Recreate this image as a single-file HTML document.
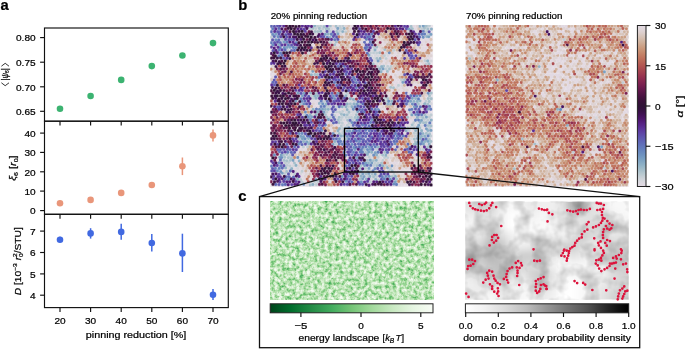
<!DOCTYPE html>
<html><head><meta charset="utf-8"><style>
html,body{margin:0;padding:0;background:#fff;}
svg{display:block;will-change:transform;}
text{font-family:"Liberation Sans", sans-serif;fill:#000;stroke:#000;stroke-width:0.22px;}
</style></head><body>
<svg width="685" height="350" viewBox="0 0 685 350">
<rect width="685" height="350" fill="#fff"/>
<rect x="44.5" y="28.0" width="183.8" height="93.2" fill="none" stroke="#111" stroke-width="1.15"/>
<rect x="44.5" y="121.2" width="183.8" height="93.10000000000001" fill="none" stroke="#111" stroke-width="1.15"/>
<rect x="44.5" y="214.3" width="183.8" height="93.30000000000001" fill="none" stroke="#111" stroke-width="1.15"/>
<line x1="60.0" y1="121.2" x2="60.0" y2="125.60000000000001" stroke="#111" stroke-width="1.15"/>
<line x1="90.6" y1="121.2" x2="90.6" y2="125.60000000000001" stroke="#111" stroke-width="1.15"/>
<line x1="121.2" y1="121.2" x2="121.2" y2="125.60000000000001" stroke="#111" stroke-width="1.15"/>
<line x1="151.8" y1="121.2" x2="151.8" y2="125.60000000000001" stroke="#111" stroke-width="1.15"/>
<line x1="182.4" y1="121.2" x2="182.4" y2="125.60000000000001" stroke="#111" stroke-width="1.15"/>
<line x1="213.0" y1="121.2" x2="213.0" y2="125.60000000000001" stroke="#111" stroke-width="1.15"/>
<line x1="60.0" y1="214.3" x2="60.0" y2="218.70000000000002" stroke="#111" stroke-width="1.15"/>
<line x1="90.6" y1="214.3" x2="90.6" y2="218.70000000000002" stroke="#111" stroke-width="1.15"/>
<line x1="121.2" y1="214.3" x2="121.2" y2="218.70000000000002" stroke="#111" stroke-width="1.15"/>
<line x1="151.8" y1="214.3" x2="151.8" y2="218.70000000000002" stroke="#111" stroke-width="1.15"/>
<line x1="182.4" y1="214.3" x2="182.4" y2="218.70000000000002" stroke="#111" stroke-width="1.15"/>
<line x1="213.0" y1="214.3" x2="213.0" y2="218.70000000000002" stroke="#111" stroke-width="1.15"/>
<line x1="60.0" y1="307.6" x2="60.0" y2="312.0" stroke="#111" stroke-width="1.15"/>
<line x1="90.6" y1="307.6" x2="90.6" y2="312.0" stroke="#111" stroke-width="1.15"/>
<line x1="121.2" y1="307.6" x2="121.2" y2="312.0" stroke="#111" stroke-width="1.15"/>
<line x1="151.8" y1="307.6" x2="151.8" y2="312.0" stroke="#111" stroke-width="1.15"/>
<line x1="182.4" y1="307.6" x2="182.4" y2="312.0" stroke="#111" stroke-width="1.15"/>
<line x1="213.0" y1="307.6" x2="213.0" y2="312.0" stroke="#111" stroke-width="1.15"/>
<line x1="40.1" y1="37.6" x2="44.5" y2="37.6" stroke="#111" stroke-width="1.15"/>
<text x="35.6" y="41.3" font-size="9.4" text-anchor="end" textLength="19.6" lengthAdjust="spacingAndGlyphs" >0.80</text>
<line x1="40.1" y1="62.2" x2="44.5" y2="62.2" stroke="#111" stroke-width="1.15"/>
<text x="35.6" y="65.9" font-size="9.4" text-anchor="end" textLength="19.6" lengthAdjust="spacingAndGlyphs" >0.75</text>
<line x1="40.1" y1="86.8" x2="44.5" y2="86.8" stroke="#111" stroke-width="1.15"/>
<text x="35.6" y="90.5" font-size="9.4" text-anchor="end" textLength="19.6" lengthAdjust="spacingAndGlyphs" >0.70</text>
<line x1="40.1" y1="111.3" x2="44.5" y2="111.3" stroke="#111" stroke-width="1.15"/>
<text x="35.6" y="115.0" font-size="9.4" text-anchor="end" textLength="19.6" lengthAdjust="spacingAndGlyphs" >0.65</text>
<line x1="40.1" y1="133.1" x2="44.5" y2="133.1" stroke="#111" stroke-width="1.15"/>
<text x="35.6" y="136.8" font-size="9.4" text-anchor="end" textLength="11.2" lengthAdjust="spacingAndGlyphs" >40</text>
<line x1="40.1" y1="152.4" x2="44.5" y2="152.4" stroke="#111" stroke-width="1.15"/>
<text x="35.6" y="156.1" font-size="9.4" text-anchor="end" textLength="11.2" lengthAdjust="spacingAndGlyphs" >30</text>
<line x1="40.1" y1="171.8" x2="44.5" y2="171.8" stroke="#111" stroke-width="1.15"/>
<text x="35.6" y="175.5" font-size="9.4" text-anchor="end" textLength="11.2" lengthAdjust="spacingAndGlyphs" >20</text>
<line x1="40.1" y1="191.1" x2="44.5" y2="191.1" stroke="#111" stroke-width="1.15"/>
<text x="35.6" y="194.8" font-size="9.4" text-anchor="end" textLength="11.2" lengthAdjust="spacingAndGlyphs" >10</text>
<line x1="40.1" y1="210.6" x2="44.5" y2="210.6" stroke="#111" stroke-width="1.15"/>
<text x="35.6" y="214.3" font-size="9.4" text-anchor="end" textLength="5.6" lengthAdjust="spacingAndGlyphs" >0</text>
<line x1="40.1" y1="231.1" x2="44.5" y2="231.1" stroke="#111" stroke-width="1.15"/>
<text x="35.6" y="234.8" font-size="9.4" text-anchor="end" textLength="5.6" lengthAdjust="spacingAndGlyphs" >7</text>
<line x1="40.1" y1="252.5" x2="44.5" y2="252.5" stroke="#111" stroke-width="1.15"/>
<text x="35.6" y="256.2" font-size="9.4" text-anchor="end" textLength="5.6" lengthAdjust="spacingAndGlyphs" >6</text>
<line x1="40.1" y1="273.9" x2="44.5" y2="273.9" stroke="#111" stroke-width="1.15"/>
<text x="35.6" y="277.6" font-size="9.4" text-anchor="end" textLength="5.6" lengthAdjust="spacingAndGlyphs" >5</text>
<line x1="40.1" y1="295.2" x2="44.5" y2="295.2" stroke="#111" stroke-width="1.15"/>
<text x="35.6" y="298.9" font-size="9.4" text-anchor="end" textLength="5.6" lengthAdjust="spacingAndGlyphs" >4</text>
<text x="60.0" y="323.8" font-size="9.4" text-anchor="middle" textLength="11.2" lengthAdjust="spacingAndGlyphs" >20</text>
<text x="90.6" y="323.8" font-size="9.4" text-anchor="middle" textLength="11.2" lengthAdjust="spacingAndGlyphs" >30</text>
<text x="121.2" y="323.8" font-size="9.4" text-anchor="middle" textLength="11.2" lengthAdjust="spacingAndGlyphs" >40</text>
<text x="151.8" y="323.8" font-size="9.4" text-anchor="middle" textLength="11.2" lengthAdjust="spacingAndGlyphs" >50</text>
<text x="182.4" y="323.8" font-size="9.4" text-anchor="middle" textLength="11.2" lengthAdjust="spacingAndGlyphs" >60</text>
<text x="213.0" y="323.8" font-size="9.4" text-anchor="middle" textLength="11.2" lengthAdjust="spacingAndGlyphs" >70</text>
<text x="85.8" y="337.6" font-size="9.5" textLength="100.5" lengthAdjust="spacingAndGlyphs" >pinning reduction [%]</text>
<g transform="translate(7.6 74.5) rotate(-90)"><path d="M-8.3 -6.2L-11.2 -2.4L-8.3 1.4M8.3 -6.2L11.2 -2.4L8.3 1.4" stroke="#111" stroke-width="0.85" fill="none"/><text x="0.2" y="0" font-size="9.2" text-anchor="middle" textLength="12.2" lengthAdjust="spacingAndGlyphs">|<tspan font-style="italic">ψ</tspan><tspan font-size="6" dy="1.5">6</tspan><tspan dy="-1.5">|</tspan></text></g>
<text transform="translate(16.3 168.1) rotate(-90)" font-size="9.2" text-anchor="middle" textLength="25.5" lengthAdjust="spacingAndGlyphs"><tspan font-style="italic">ξ</tspan><tspan font-size="6" dy="1.5">6</tspan><tspan dy="-1.5"> [</tspan><tspan font-style="italic">r</tspan><tspan font-size="6" dy="1.5">0</tspan><tspan dy="-1.5">]</tspan></text>
<text transform="translate(20.8 261.2) rotate(-90)" font-size="9.2" text-anchor="middle" textLength="68" lengthAdjust="spacingAndGlyphs"><tspan font-style="italic">D</tspan> [10<tspan font-size="6" dy="-3.5">−3</tspan><tspan dy="3.5"> </tspan><tspan font-style="italic">r</tspan><tspan font-size="6" dy="-3.5">2</tspan><tspan font-size="6" dx="-3.4" dy="5.5">0</tspan><tspan dy="-2">/STU]</tspan></text>
<circle cx="60.0" cy="108.8" r="3.3" fill="#3cb371"/>
<circle cx="90.6" cy="96.0" r="3.3" fill="#3cb371"/>
<circle cx="121.2" cy="79.9" r="3.3" fill="#3cb371"/>
<circle cx="151.8" cy="66.1" r="3.3" fill="#3cb371"/>
<circle cx="182.4" cy="55.5" r="3.3" fill="#3cb371"/>
<circle cx="213.0" cy="43.1" r="3.3" fill="#3cb371"/>
<line x1="60.0" y1="201.5" x2="60.0" y2="205.1" stroke="#e9967a" stroke-width="1.5"/>
<circle cx="60.0" cy="203.3" r="3.3" fill="#e9967a"/>
<line x1="90.6" y1="198" x2="90.6" y2="201.8" stroke="#e9967a" stroke-width="1.5"/>
<circle cx="90.6" cy="199.9" r="3.3" fill="#e9967a"/>
<line x1="121.2" y1="190.8" x2="121.2" y2="195" stroke="#e9967a" stroke-width="1.5"/>
<circle cx="121.2" cy="192.9" r="3.3" fill="#e9967a"/>
<line x1="151.8" y1="182.8" x2="151.8" y2="187.2" stroke="#e9967a" stroke-width="1.5"/>
<circle cx="151.8" cy="185.0" r="3.3" fill="#e9967a"/>
<line x1="182.4" y1="157.5" x2="182.4" y2="175.1" stroke="#e9967a" stroke-width="1.5"/>
<circle cx="182.4" cy="166.2" r="3.3" fill="#e9967a"/>
<line x1="213.0" y1="129.5" x2="213.0" y2="141.5" stroke="#e9967a" stroke-width="1.5"/>
<circle cx="213.0" cy="135.4" r="3.3" fill="#e9967a"/>
<line x1="60.0" y1="236.7" x2="60.0" y2="242.3" stroke="#4169e1" stroke-width="1.5"/>
<circle cx="60.0" cy="239.7" r="3.3" fill="#4169e1"/>
<line x1="90.6" y1="228.2" x2="90.6" y2="238.6" stroke="#4169e1" stroke-width="1.5"/>
<circle cx="90.6" cy="233.4" r="3.3" fill="#4169e1"/>
<line x1="121.2" y1="223.7" x2="121.2" y2="239.7" stroke="#4169e1" stroke-width="1.5"/>
<circle cx="121.2" cy="231.9" r="3.3" fill="#4169e1"/>
<line x1="151.8" y1="234.1" x2="151.8" y2="251.6" stroke="#4169e1" stroke-width="1.5"/>
<circle cx="151.8" cy="243.0" r="3.3" fill="#4169e1"/>
<line x1="182.4" y1="233.7" x2="182.4" y2="272.0" stroke="#4169e1" stroke-width="1.5"/>
<circle cx="182.4" cy="253.4" r="3.3" fill="#4169e1"/>
<line x1="213.0" y1="289.1" x2="213.0" y2="299.9" stroke="#4169e1" stroke-width="1.5"/>
<circle cx="213.0" cy="294.7" r="3.3" fill="#4169e1"/>
<text x="0.6" y="10.4" font-size="14.8" font-weight="bold" >a</text>
<text x="238.2" y="10.3" font-size="14.8" font-weight="bold" >b</text>
<text x="238.2" y="200.5" font-size="14.8" font-weight="bold" >c</text>
<rect x="270.3" y="24.9" width="162.8" height="162.0" fill="#ece6ec"/><rect x="465.5" y="25.0" width="163.1" height="162.0" fill="#ece6ec"/><clipPath id="m1c"><rect x="270.3" y="24.9" width="162.8" height="162.0"/></clipPath><clipPath id="m2c"><rect x="465.5" y="25.0" width="163.1" height="162.0"/></clipPath><g clip-path="url(#m1c)"><defs><g id="p1"><path d="M352.3 25.9h0M334.6 28.5h0M415.5 29.0h0M351.5 31.7h0M417.0 31.5h0M344.4 34.0h0M421.6 39.3h0M425.0 39.7h0M361.0 42.3h0M367.2 42.1h0M383.4 42.1h0M423.1 42.0h0M429.4 41.9h0M384.2 44.6h0M424.8 44.7h0M426.1 47.9h0M350.0 50.3h0M378.2 50.5h0M422.1 50.2h0M424.9 50.3h0M395.4 53.2h0M390.7 55.4h0M393.7 56.0h0M389.2 58.7h0M398.7 58.3h0M423.2 58.5h0M429.2 58.3h0M384.6 61.0h0M382.6 63.8h0M389.3 63.1h0M420.2 63.4h0M410.9 69.0h0M396.9 71.9h0M399.7 71.9h0M271.2 74.3h0M274.5 74.6h0M392.1 74.0h0M398.4 74.3h0M272.9 77.2h0M314.4 80.0h0M395.0 79.9h0M398.1 79.7h0M420.0 79.7h0M393.7 82.1h0M396.6 82.7h0M400.0 82.5h0M389.4 85.2h0M395.5 85.1h0M414.1 84.7h0M400.3 88.2h0M406.0 88.0h0M412.2 87.9h0M392.2 90.4h0M401.7 91.0h0M411.0 90.7h0M400.4 93.1h0M388.9 95.8h0M314.6 101.3h0M407.9 106.7h0M340.8 109.4h0M380.7 109.2h0M406.1 109.3h0M329.9 112.0h0M407.4 112.2h0M429.2 111.8h0M328.5 114.7h0M408.7 114.0h0M409.4 120.3h0M412.5 120.2h0M327.0 122.7h0M411.0 123.0h0M334.8 125.4h0M337.6 125.4h0M406.2 125.2h0M408.8 125.6h0M330.6 128.3h0M423.4 127.8h0M331.8 130.6h0M412.8 130.9h0M425.0 130.7h0M300.8 147.1h0M299.1 149.6h0M302.1 149.6h0M305.6 149.6h0M298.0 152.6h0M414.9 152.7h0M300.5 157.7h0M415.3 157.2h0M418.6 157.9h0M277.6 160.2h0M388.7 160.3h0M297.9 162.8h0M390.4 163.4h0M393.7 163.2h0M396.5 163.0h0M305.3 165.7h0M295.1 168.8h0M300.9 168.4h0M371.7 168.5h0M397.0 168.5h0M402.9 168.7h0M409.2 168.6h0M299.2 170.8h0M386.4 171.3h0M394.8 170.8h0M398.4 170.9h0M404.6 171.1h0M407.5 171.1h0M411.1 171.2h0M303.9 173.3h0M390.8 174.1h0M400.5 173.6h0M402.9 173.8h0M302.2 176.4h0M304.1 178.8h0M305.4 182.0h0M401.8 182.1h0M399.8 184.5h0M403.0 184.3h0M406.4 184.0h0" stroke="#e2d9e2"/><path d="M331.6 28.7h0M324.3 32.0h0M407.8 31.4h0M316.2 34.2h0M340.9 34.3h0M340.9 39.4h0M344.3 39.7h0M371.6 50.3h0M308.7 53.2h0M386.3 53.0h0M371.8 56.1h0M375.4 55.6h0M378.3 55.8h0M387.9 55.5h0M374.2 58.2h0M374.9 61.0h0M431.0 61.1h0M376.7 63.8h0M307.0 66.6h0M310.3 71.7h0M401.8 85.6h0M397.0 87.6h0M344.4 93.6h0M348.8 95.6h0M354.8 96.0h0M348.7 101.2h0M351.8 101.2h0M421.6 103.9h0M431.0 103.7h0M338.3 108.9h0M350.1 109.4h0M421.7 108.9h0M345.9 112.0h0M352.2 112.0h0M354.7 112.2h0M313.4 114.3h0M350.5 115.0h0M353.2 114.7h0M427.9 114.9h0M336.3 117.2h0M344.2 119.8h0M417.2 122.7h0M343.9 125.1h0M350.4 125.1h0M415.2 125.7h0M421.6 125.8h0M341.2 130.5h0M418.6 131.0h0M336.4 133.1h0M342.4 139.1h0M411.4 138.8h0M426.1 144.5h0M370.6 155.3h0M379.6 155.0h0M347.2 157.1h0M366.1 157.3h0M371.6 157.8h0M379.4 160.2h0M293.1 165.7h0M288.5 168.3h0M297.7 168.5h0M295.8 171.3h0M376.4 171.2h0M291.7 173.6h0M300.9 173.5h0M372.0 179.1h0M329.7 182.0h0" stroke="#d5d6dc"/><path d="M317.8 26.3h0M320.6 26.2h0M339.8 26.5h0M342.9 26.0h0M429.3 25.8h0M310.3 28.7h0M315.8 28.6h0M322.8 28.9h0M341.1 28.7h0M421.8 28.8h0M330.2 31.4h0M339.5 31.2h0M345.7 31.9h0M426.3 31.7h0M428.1 34.5h0M271.4 37.1h0M330.3 42.7h0M373.8 47.2h0M288.2 50.5h0M393.7 50.2h0M370.4 53.1h0M373.6 52.9h0M376.7 53.0h0M384.4 55.7h0M386.1 58.6h0M425.1 60.7h0M426.0 64.1h0M378.1 66.7h0M387.7 66.3h0M391.0 66.5h0M386.0 68.9h0M401.5 79.9h0M398.5 85.4h0M347.5 93.4h0M311.6 96.0h0M313.4 98.4h0M384.3 98.5h0M324.1 101.6h0M355.0 101.2h0M386.1 101.5h0M425.9 101.2h0M409.0 104.1h0M327.2 106.8h0M329.7 106.6h0M336.5 106.9h0M348.6 106.6h0M326.9 112.1h0M336.4 111.9h0M339.6 112.2h0M342.7 111.3h0M410.5 112.3h0M304.4 115.0h0M334.7 115.6h0M431.0 115.0h0M330.3 117.5h0M342.2 117.3h0M346.1 117.3h0M349.0 117.6h0M351.5 117.5h0M420.3 117.1h0M429.4 117.2h0M341.1 119.9h0M353.3 119.8h0M424.5 119.3h0M427.7 120.1h0M342.3 123.0h0M349.0 123.1h0M413.8 122.6h0M341.3 125.9h0M347.3 125.4h0M342.5 128.3h0M352.3 128.2h0M410.7 127.8h0M429.5 128.4h0M409.1 130.5h0M342.7 133.0h0M414.2 133.2h0M417.0 133.6h0M415.5 136.1h0M430.7 136.1h0M336.3 144.3h0M303.4 146.9h0M307.6 146.9h0M376.7 149.3h0M420.0 149.4h0M423.4 149.5h0M289.9 155.5h0M369.1 157.1h0M378.2 157.4h0M384.6 157.6h0M387.7 157.6h0M382.8 160.3h0M285.4 162.9h0M288.6 162.5h0M375.3 163.2h0M378.3 163.2h0M287.1 165.2h0M289.9 165.9h0M373.7 165.5h0M386.2 165.5h0M365.7 168.4h0M390.5 168.7h0M302.1 171.2h0M364.3 171.0h0M370.4 171.1h0M389.0 170.8h0M284.9 173.5h0M294.7 174.0h0M394.0 174.2h0M367.8 176.2h0M376.6 176.6h0M300.7 179.7h0M378.4 179.8h0M302.1 182.2h0M311.6 181.5h0M314.6 181.5h0M317.9 181.6h0M370.3 182.0h0M300.7 184.2h0M316.4 184.5h0" stroke="#bfccd3"/><path d="M324.0 26.7h0M330.3 25.9h0M336.0 26.3h0M411.2 26.5h0M426.3 26.0h0M312.8 28.4h0M319.4 28.5h0M326.2 28.7h0M328.6 29.0h0M412.3 28.7h0M424.5 28.2h0M427.8 29.0h0M315.1 31.6h0M317.9 31.6h0M336.8 31.5h0M282.3 39.5h0M336.4 41.9h0M334.8 44.7h0M376.8 47.1h0M384.8 49.6h0M379.8 52.7h0M376.9 58.4h0M373.2 64.0h0M429.0 63.8h0M383.7 66.1h0M389.5 69.0h0M387.4 71.4h0M314.9 74.5h0M317.6 74.7h0M317.4 79.8h0M404.5 79.7h0M390.7 87.3h0M393.5 87.8h0M316.1 93.6h0M431.2 93.1h0M429.5 95.7h0M387.7 98.6h0M428.2 98.6h0M431.2 98.7h0M429.2 101.5h0M300.7 104.1h0M350.4 103.9h0M359.9 103.8h0M418.4 104.1h0M427.8 104.2h0M349.0 112.2h0M325.3 114.8h0M341.4 114.2h0M347.2 114.8h0M356.4 114.8h0M424.8 114.7h0M327.0 117.2h0M339.2 117.3h0M355.1 117.5h0M407.6 117.3h0M422.8 117.6h0M338.2 119.8h0M347.6 120.3h0M339.1 122.7h0M423.5 122.7h0M426.0 122.6h0M412.2 124.8h0M428.2 125.6h0M430.9 126.0h0M407.8 128.2h0M413.7 128.2h0M419.8 127.9h0M344.1 130.9h0M339.3 133.7h0M426.4 133.4h0M429.5 133.9h0M299.3 138.8h0M345.9 139.1h0M414.3 139.1h0M429.3 139.3h0M309.9 141.6h0M415.5 142.0h0M430.9 141.5h0M414.1 144.5h0M427.8 147.1h0M364.4 149.4h0M365.7 152.5h0M384.8 152.2h0M283.5 155.1h0M286.8 154.4h0M382.7 155.1h0M284.8 157.3h0M288.4 157.7h0M291.4 158.2h0M284.0 160.3h0M286.8 160.8h0M290.3 160.3h0M367.4 160.3h0M373.4 160.6h0M294.5 162.9h0M381.5 163.2h0M361.1 165.6h0M377.0 165.7h0M359.9 168.2h0M286.6 171.5h0M367.6 171.4h0M392.2 170.9h0M359.1 173.5h0M366.0 173.7h0M372.2 174.0h0M373.6 176.7h0M392.2 176.6h0M359.8 179.1h0M396.6 179.1h0M310.2 184.9h0" stroke="#a6bfca"/><path d="M314.7 25.8h0M419.6 26.5h0M344.1 28.5h0M431.4 29.1h0M320.8 31.3h0M342.7 31.6h0M328.2 34.1h0M330.1 37.3h0M426.7 36.6h0M279.0 44.7h0M375.0 50.0h0M380.2 58.5h0M427.7 61.0h0M381.6 66.6h0M379.8 68.8h0M381.0 71.7h0M311.4 74.8h0M310.5 92.9h0M314.8 96.0h0M317.7 95.9h0M345.9 96.0h0M316.1 98.3h0M350.4 98.7h0M353.4 99.4h0M415.6 98.6h0M391.9 101.2h0M413.9 101.4h0M417.2 101.5h0M420.1 100.9h0M319.2 103.4h0M326.2 104.2h0M347.2 104.0h0M353.9 104.0h0M387.7 104.2h0M390.6 104.2h0M424.7 103.7h0M342.2 106.7h0M345.9 106.7h0M351.9 106.7h0M313.1 109.4h0M325.3 109.3h0M328.3 109.3h0M347.1 109.6h0M317.7 112.0h0M310.1 115.0h0M316.1 114.9h0M344.1 114.8h0M358.1 117.3h0M417.3 117.4h0M431.2 120.1h0M420.1 122.5h0M339.5 128.6h0M345.5 128.1h0M338.0 130.7h0M406.1 130.9h0M415.7 130.6h0M421.6 130.7h0M428.0 130.6h0M422.9 133.6h0M341.2 136.0h0M344.0 135.9h0M421.5 136.4h0M424.7 136.2h0M308.5 138.5h0M420.1 138.6h0M303.6 141.6h0M334.9 141.5h0M425.0 141.5h0M308.7 143.7h0M416.5 143.9h0M429.2 144.2h0M378.1 147.0h0M418.3 147.2h0M371.7 152.2h0M367.4 154.4h0M376.6 155.0h0M386.0 155.2h0M299.2 161.0h0M376.3 160.3h0M368.5 163.1h0M296.0 165.4h0M382.9 165.9h0M285.6 167.9h0M291.7 168.7h0M387.6 167.7h0M360.9 171.3h0M361.1 176.2h0M369.9 176.5h0M395.5 176.4h0M297.5 179.2h0M366.3 179.2h0M375.7 179.3h0M312.9 184.5h0" stroke="#8eb1c5"/><path d="M423.3 26.0h0M337.8 28.5h0M409.1 29.1h0M275.8 34.2h0M325.3 34.3h0M337.9 33.9h0M430.9 34.4h0M428.7 36.8h0M283.9 42.1h0M287.0 47.4h0M290.0 47.2h0M368.9 55.2h0M378.1 61.0h0M383.0 68.9h0M312.8 71.3h0M402.9 82.3h0M297.9 92.9h0M304.0 93.3h0M337.9 93.3h0M302.5 95.9h0M412.3 98.3h0M295.9 101.1h0M410.6 101.2h0M356.9 104.1h0M414.4 106.8h0M322.5 109.2h0M428.0 109.1h0M323.9 112.2h0M357.7 111.6h0M411.9 115.0h0M311.7 116.9h0M426.4 117.1h0M328.4 119.5h0M421.5 120.3h0M418.7 125.3h0M417.4 127.7h0M426.4 128.8h0M347.3 131.1h0M350.0 131.1h0M430.9 130.4h0M300.8 136.3h0M303.5 136.7h0M418.5 136.1h0M302.4 138.7h0M417.6 138.6h0M306.8 141.8h0M428.0 141.3h0M333.0 144.3h0M423.4 144.0h0M369.2 146.8h0M355.0 149.5h0M370.3 149.3h0M368.7 152.0h0M375.3 152.7h0M281.2 155.1h0M279.7 157.3h0M356.6 157.7h0M293.2 160.4h0M370.3 160.2h0M365.7 163.2h0M371.8 162.9h0M364.6 165.6h0M369.0 168.4h0M282.3 173.1h0M362.8 173.8h0M368.9 173.4h0M375.3 174.1h0M364.1 176.6h0M362.7 178.8h0M395.3 181.8h0" stroke="#7ba1c2"/><path d="M272.8 34.4h0M278.0 36.7h0M423.2 37.2h0M275.9 39.8h0M273.0 44.8h0M284.3 47.7h0M295.9 47.8h0M389.3 52.7h0M428.1 93.3h0M333.4 96.0h0M416.9 95.8h0M334.6 98.6h0M302.0 101.2h0M388.7 101.2h0M303.8 103.9h0M322.7 103.8h0M412.4 104.1h0M319.4 109.3h0M353.3 109.2h0M378.5 109.3h0M305.4 112.1h0M415.7 114.6h0M308.4 117.2h0M357.0 120.2h0M371.9 119.6h0M352.0 122.6h0M348.8 127.9h0M321.9 130.3h0M353.3 130.9h0M299.1 133.6h0M302.1 133.5h0M333.1 133.6h0M347.3 136.3h0M359.6 136.2h0M305.1 138.8h0M339.4 138.8h0M359.6 141.4h0M418.2 142.0h0M421.9 141.5h0M298.9 143.8h0M352.0 144.4h0M395.1 143.7h0M353.9 147.5h0M409.5 147.3h0M367.5 149.6h0M274.4 155.0h0M373.7 155.2h0M281.7 157.6h0M297.8 157.5h0M279.0 162.8h0M391.9 165.8h0M375.0 168.7h0M277.4 170.9h0M280.7 171.6h0M342.1 176.5h0M385.9 176.4h0M389.1 176.4h0M288.4 179.3h0M316.0 179.7h0M390.3 179.5h0M346.1 181.2h0M361.3 182.0h0M303.8 184.2h0M393.9 184.0h0" stroke="#6d90c0"/><path d="M272.8 28.8h0M423.3 31.3h0M331.4 34.2h0M371.9 34.0h0M422.0 34.2h0M424.6 34.1h0M327.2 37.3h0M370.1 36.7h0M334.7 39.7h0M366.4 39.3h0M271.2 42.7h0M286.8 42.2h0M296.2 42.6h0M370.3 42.2h0M288.4 45.0h0M280.1 47.7h0M293.3 47.5h0M367.3 47.3h0M279.0 50.1h0M366.0 49.7h0M280.6 53.2h0M278.9 56.0h0M353.6 77.5h0M355.1 79.6h0M334.5 82.6h0M356.3 82.6h0M356.3 87.6h0M410.8 95.7h0M420.1 95.6h0M300.9 98.8h0M418.5 98.9h0M321.2 101.1h0M321.0 106.6h0M324.3 106.4h0M355.1 106.8h0M416.7 106.6h0M429.5 106.4h0M316.5 109.0h0M375.3 109.5h0M409.5 109.8h0M411.9 109.3h0M430.7 109.2h0M364.3 111.9h0M306.9 115.3h0M421.7 114.7h0M310.4 119.7h0M415.5 120.2h0M418.5 120.1h0M370.6 122.5h0M429.8 122.9h0M325.3 125.0h0M362.6 125.0h0M425.2 125.5h0M359.4 130.7h0M365.7 130.3h0M369.3 130.7h0M395.5 133.5h0M420.3 133.7h0M397.2 135.9h0M403.2 135.9h0M428.1 135.9h0M348.8 139.0h0M355.2 139.2h0M395.5 138.7h0M426.1 139.0h0M340.6 141.5h0M356.5 141.0h0M339.3 144.1h0M342.4 144.2h0M420.6 144.0h0M362.8 147.2h0M365.9 146.7h0M371.7 146.8h0M375.2 146.8h0M361.4 149.7h0M279.4 151.7h0M287.9 152.2h0M344.1 152.5h0M353.5 152.3h0M360.1 152.0h0M362.5 152.2h0M378.2 152.2h0M345.8 155.3h0M271.3 166.1h0M280.7 165.9h0M370.7 165.4h0M379.9 165.5h0M275.4 168.3h0M279.2 168.4h0M373.0 170.9h0M382.3 176.7h0M384.3 179.0h0M282.5 184.7h0M396.5 184.5h0" stroke="#647ebc"/><path d="M271.3 26.2h0M279.0 28.5h0M271.3 31.7h0M280.2 31.7h0M274.3 36.6h0M367.6 36.9h0M419.6 37.1h0M278.9 40.0h0M291.5 39.5h0M280.3 42.6h0M364.5 42.3h0M371.8 44.9h0M365.1 47.8h0M285.1 49.9h0M291.6 50.6h0M294.4 50.5h0M367.3 53.3h0M282.1 55.3h0M370.5 58.4h0M338.1 66.4h0M344.3 66.3h0M345.9 74.3h0M319.2 77.4h0M272.9 82.4h0M336.8 85.4h0M332.0 93.3h0M406.5 93.2h0M305.0 101.1h0M327.3 101.3h0M358.2 101.6h0M407.7 101.2h0M362.9 103.8h0M406.4 104.0h0M308.9 106.6h0M339.2 106.7h0M358.1 106.2h0M420.4 106.9h0M359.6 109.6h0M362.5 109.6h0M371.9 109.2h0M333.2 111.7h0M417.3 112.0h0M332.1 114.8h0M418.5 114.7h0M333.4 117.3h0M319.0 120.2h0M334.7 119.6h0M350.1 120.4h0M333.5 122.9h0M319.4 125.2h0M353.2 125.3h0M365.7 125.2h0M369.2 125.8h0M317.9 128.3h0M321.0 128.4h0M360.7 128.2h0M367.4 128.2h0M401.7 127.8h0M356.5 130.8h0M367.0 133.5h0M307.4 136.0h0M309.8 136.2h0M350.5 136.0h0M365.7 136.4h0M371.9 136.9h0M380.9 136.1h0M333.4 138.8h0M336.4 138.8h0M361.1 138.8h0M363.7 139.6h0M370.7 138.5h0M401.4 138.6h0M300.7 142.0h0M338.2 141.6h0M344.2 141.6h0M350.7 141.5h0M394.0 141.4h0M396.9 141.4h0M286.9 144.3h0M302.0 144.6h0M346.1 144.0h0M358.4 144.0h0M367.6 143.9h0M373.9 144.4h0M408.0 144.2h0M294.7 146.7h0M356.3 147.3h0M359.4 147.0h0M390.5 147.1h0M345.0 149.6h0M351.6 150.0h0M372.8 149.4h0M395.4 149.8h0M407.5 149.2h0M291.4 152.4h0M387.5 152.4h0M409.0 152.0h0M351.9 154.8h0M280.4 160.0h0M348.7 160.3h0M363.1 163.2h0M346.0 165.9h0M367.2 165.3h0M282.3 168.1h0M290.3 171.0h0M286.4 176.8h0M289.2 176.8h0M293.5 177.2h0M348.6 176.3h0M285.1 179.0h0M352.0 182.1h0M275.7 184.5h0M285.3 184.5h0" stroke="#606cb8"/><path d="M274.4 26.4h0M277.5 25.9h0M406.4 28.7h0M277.7 31.7h0M327.0 31.5h0M429.1 31.8h0M279.1 34.0h0M285.7 34.6h0M365.8 34.4h0M419.0 34.1h0M286.8 37.0h0M323.7 36.7h0M333.4 36.5h0M336.6 37.0h0M272.6 39.9h0M288.9 39.7h0M337.9 39.4h0M372.3 39.3h0M415.1 39.7h0M274.6 42.7h0M277.5 42.1h0M291.6 45.1h0M366.1 45.0h0M418.4 44.7h0M273.1 50.7h0M406.2 50.4h0M412.1 55.9h0M283.6 58.2h0M410.9 58.2h0M413.8 58.3h0M371.7 60.6h0M340.0 63.9h0M334.3 71.9h0M346.8 71.9h0M404.7 74.7h0M410.5 75.1h0M275.6 77.0h0M412.4 77.0h0M274.2 80.1h0M329.8 79.6h0M336.0 80.0h0M339.0 80.0h0M352.1 80.2h0M276.0 82.4h0M353.4 82.4h0M365.2 82.8h0M274.5 84.9h0M351.9 85.3h0M303.5 87.6h0M344.2 87.7h0M348.8 90.5h0M301.0 93.4h0M308.7 96.4h0M336.6 95.7h0M414.1 95.7h0M331.6 98.3h0M344.4 98.1h0M362.6 98.6h0M405.7 98.8h0M333.7 101.3h0M398.1 100.9h0M306.6 103.9h0M415.3 104.4h0M277.6 107.0h0M333.4 106.8h0M364.1 106.8h0M332.0 109.0h0M335.3 109.6h0M415.5 109.1h0M418.9 109.4h0M361.4 112.0h0M376.6 112.0h0M375.3 114.5h0M322.6 120.4h0M311.4 122.4h0M336.3 122.4h0M354.7 122.8h0M356.7 125.3h0M359.3 125.8h0M358.2 127.8h0M370.6 128.3h0M395.3 128.1h0M319.5 131.1h0M372.1 130.8h0M375.3 130.8h0M396.8 130.7h0M290.2 133.4h0M305.4 133.7h0M348.8 134.0h0M352.0 133.3h0M358.4 133.7h0M361.0 133.2h0M364.3 133.3h0M379.7 133.7h0M356.7 136.0h0M362.7 136.2h0M393.7 135.8h0M399.9 135.7h0M367.9 139.3h0M379.8 138.7h0M386.0 139.0h0M398.4 138.5h0M423.1 139.3h0M362.9 141.7h0M365.9 141.6h0M369.4 141.1h0M390.6 142.0h0M305.4 144.1h0M348.7 144.4h0M355.1 144.5h0M391.9 144.4h0M347.2 146.8h0M350.6 146.9h0M397.3 146.9h0M277.6 149.6h0M280.5 149.6h0M283.7 149.4h0M287.3 149.3h0M290.1 149.6h0M348.9 149.3h0M386.2 149.7h0M282.2 152.6h0M294.6 152.5h0M350.3 151.9h0M411.9 152.5h0M292.7 154.9h0M358.2 155.1h0M358.0 160.6h0M349.8 163.2h0M353.2 162.7h0M283.9 165.7h0M349.1 165.5h0M272.6 168.6h0M377.8 168.5h0M271.6 170.9h0M382.9 171.1h0M288.5 174.0h0M381.0 174.3h0M379.8 176.1h0M350.3 179.4h0M381.4 179.3h0M279.0 184.6h0M359.7 184.2h0M362.6 184.3h0" stroke="#5f58b0"/><path d="M280.1 25.8h0M327.1 26.0h0M404.6 26.3h0M304.0 29.3h0M359.6 28.8h0M305.3 31.4h0M333.3 31.9h0M373.4 31.5h0M334.7 34.4h0M280.8 36.7h0M321.0 36.6h0M358.0 37.1h0M361.6 36.7h0M364.7 37.4h0M285.5 39.4h0M294.1 39.4h0M369.4 39.3h0M419.6 42.5h0M281.8 45.0h0M368.7 44.8h0M271.3 47.1h0M370.2 47.7h0M282.0 49.9h0M407.8 53.0h0M411.0 52.9h0M409.3 55.4h0M415.9 55.8h0M404.6 58.5h0M271.3 63.5h0M345.5 69.2h0M351.6 68.9h0M325.2 71.6h0M330.3 74.5h0M333.5 79.2h0M358.2 79.9h0M359.7 82.6h0M406.0 82.2h0M339.7 85.1h0M295.9 90.3h0M342.8 90.2h0M305.3 95.6h0M330.2 96.1h0M400.3 98.8h0M336.5 100.9h0M339.2 100.8h0M361.0 102.0h0M404.7 101.1h0M309.8 103.7h0M328.5 103.8h0M331.8 103.8h0M280.3 106.8h0M360.8 106.7h0M376.8 106.6h0M426.5 111.9h0M297.7 114.7h0M370.4 117.4h0M401.6 117.5h0M331.4 120.6h0M361.2 123.0h0M367.8 122.8h0M373.5 122.4h0M306.8 125.3h0M313.2 125.5h0M322.6 125.6h0M396.6 125.4h0M399.9 125.4h0M364.7 128.0h0M404.6 128.1h0M316.3 130.6h0M362.9 130.8h0M381.7 131.2h0M399.9 130.5h0M345.5 133.9h0M370.8 133.6h0M398.6 133.7h0M331.8 136.1h0M337.8 135.8h0M369.3 136.0h0M378.0 136.2h0M384.0 135.9h0M387.6 136.2h0M406.1 136.2h0M292.8 138.9h0M296.0 138.8h0M311.7 138.6h0M314.9 139.0h0M352.0 139.1h0M358.4 138.8h0M392.4 138.1h0M275.6 141.8h0M347.7 141.6h0M353.8 141.5h0M378.1 140.8h0M381.0 141.8h0M277.5 144.3h0M361.1 144.3h0M364.1 144.4h0M370.4 144.6h0M377.0 144.2h0M382.9 144.4h0M386.1 144.0h0M288.0 147.2h0M298.2 146.9h0M381.3 146.6h0M384.3 146.7h0M387.7 146.4h0M296.3 149.7h0M405.0 149.8h0M413.9 149.7h0M417.2 149.7h0M429.4 150.1h0M285.2 152.0h0M347.7 152.1h0M356.4 152.6h0M348.9 154.7h0M351.7 160.3h0M273.1 162.8h0M281.7 163.1h0M359.6 163.4h0M277.2 165.5h0M353.2 168.4h0M381.7 168.4h0M274.4 170.9h0M348.7 171.6h0M379.7 171.4h0M279.0 174.4h0M384.3 173.7h0M387.8 174.0h0M273.8 176.4h0M351.7 176.3h0M273.3 179.1h0M337.8 179.0h0M347.1 179.0h0M393.6 178.7h0M280.0 181.9h0M283.8 181.5h0M296.0 181.6h0M349.0 181.9h0M367.6 181.4h0M385.9 181.9h0M389.2 182.0h0M291.8 184.6h0M344.3 184.3h0M347.4 184.4h0" stroke="#5e43a5"/><path d="M283.7 26.1h0M302.4 26.0h0M308.4 26.1h0M395.3 26.1h0M407.5 26.4h0M275.8 28.9h0M301.0 29.0h0M274.7 31.5h0M287.0 31.5h0M361.3 31.3h0M413.6 31.8h0M288.5 34.1h0M290.9 34.3h0M359.4 34.2h0M362.9 34.1h0M368.9 34.1h0M415.4 34.1h0M331.5 39.5h0M353.8 39.6h0M293.1 42.2h0M275.8 44.9h0M285.0 44.8h0M294.8 44.5h0M278.0 47.3h0M311.3 47.9h0M286.9 58.2h0M273.9 63.5h0M336.4 63.6h0M347.4 66.3h0M344.3 71.3h0M350.2 71.9h0M320.5 74.6h0M324.2 74.8h0M333.5 74.2h0M349.2 74.0h0M322.1 76.8h0M335.1 77.2h0M350.2 77.6h0M271.6 85.0h0M299.1 85.0h0M355.0 85.5h0M300.8 88.2h0M353.4 88.2h0M359.5 87.6h0M299.3 90.4h0M302.3 90.3h0M355.1 90.4h0M319.1 93.1h0M322.1 92.5h0M373.3 95.9h0M407.5 96.4h0M304.1 98.6h0M307.1 98.6h0M319.5 98.5h0M338.1 98.6h0M359.7 98.2h0M368.5 98.7h0M409.3 98.1h0M275.2 101.2h0M308.4 101.1h0M364.1 101.2h0M334.6 103.6h0M340.8 104.0h0M426.4 106.7h0M278.9 109.4h0M365.6 109.9h0M425.1 109.2h0M413.9 112.3h0M365.9 114.9h0M369.1 114.4h0M377.9 115.2h0M302.4 117.3h0M367.0 117.5h0M359.7 120.0h0M368.9 119.8h0M383.9 120.1h0M396.5 119.7h0M364.6 123.0h0M401.4 122.8h0M404.8 122.8h0M407.5 122.6h0M304.5 125.3h0M354.8 128.9h0M380.0 127.8h0M392.3 128.1h0M296.2 133.3h0M374.1 133.6h0M376.9 133.6h0M407.9 133.6h0M353.1 136.4h0M373.3 138.6h0M376.9 138.9h0M389.2 138.9h0M272.6 141.9h0M294.1 141.2h0M297.3 141.6h0M316.5 141.6h0M384.5 141.9h0M311.2 144.0h0M380.5 144.0h0M415.1 146.9h0M424.4 147.0h0M293.2 149.6h0M382.6 149.7h0M388.9 149.6h0M355.2 155.1h0M361.3 154.8h0M417.0 154.6h0M350.1 157.9h0M271.3 161.1h0M361.2 160.0h0M347.0 173.9h0M277.8 176.7h0M280.4 176.8h0M299.0 176.5h0M320.9 176.5h0M341.2 179.5h0M368.7 179.1h0M358.2 182.2h0M364.6 182.1h0" stroke="#5b2f94"/><path d="M305.6 26.4h0M311.5 26.5h0M401.2 25.9h0M297.8 28.8h0M396.7 28.9h0M400.0 28.6h0M402.7 28.9h0M283.6 31.7h0M364.3 31.6h0M322.4 34.1h0M353.5 33.9h0M378.4 33.8h0M289.8 37.0h0M300.7 39.4h0M289.9 42.1h0M417.1 42.6h0M297.4 44.9h0M274.2 48.1h0M275.9 50.4h0M368.9 50.2h0M277.4 52.7h0M419.8 58.1h0M342.8 63.9h0M348.4 68.9h0M337.8 77.0h0M357.1 76.8h0M409.4 77.3h0M407.7 79.8h0M409.4 82.1h0M361.1 85.1h0M338.1 87.7h0M347.6 87.8h0M350.5 87.5h0M362.7 88.3h0M352.1 90.3h0M361.2 95.9h0M364.1 95.5h0M310.1 98.6h0M321.9 98.6h0M342.7 101.0h0M379.7 101.0h0M401.9 101.2h0M338.1 104.0h0M344.1 104.2h0M400.7 104.2h0M274.6 106.7h0M287.1 106.9h0M370.6 106.3h0M311.4 112.0h0M373.9 111.9h0M420.0 112.0h0M423.6 112.4h0M300.5 114.5h0M314.8 117.0h0M398.2 117.4h0M363.3 120.1h0M366.0 120.0h0M305.0 122.6h0M320.5 122.6h0M324.1 123.2h0M394.8 123.3h0M309.7 125.2h0M403.1 125.0h0M373.6 128.0h0M376.7 128.0h0M383.2 128.5h0M313.2 130.7h0M402.9 130.6h0M354.7 133.0h0M383.3 133.8h0M402.0 133.5h0M375.0 136.1h0M390.9 136.2h0M382.7 138.8h0M372.1 141.5h0M375.3 141.5h0M271.2 144.3h0M358.3 149.3h0M379.9 149.4h0M410.5 148.9h0M426.4 149.6h0M381.3 152.4h0M427.6 152.3h0M355.0 160.4h0M347.2 162.5h0M356.2 163.3h0M274.3 165.4h0M347.3 168.3h0M362.7 168.8h0M293.2 171.5h0M346.1 171.2h0M297.5 174.2h0M344.2 174.0h0M356.8 173.6h0M345.5 176.5h0M279.2 179.5h0M282.3 178.8h0M294.1 179.3h0M325.1 179.0h0M286.9 181.8h0M289.7 181.8h0M299.0 182.1h0M373.8 181.8h0M376.8 181.8h0M391.9 181.4h0M429.6 181.8h0M288.2 184.7h0M294.8 184.4h0M297.4 184.3h0M341.1 184.5h0M369.0 185.2h0M390.9 184.4h0" stroke="#531e7c"/><path d="M357.9 26.2h0M281.9 28.9h0M306.9 28.5h0M296.1 31.6h0M411.0 31.2h0M420.5 31.5h0M282.5 34.3h0M319.1 34.6h0M293.4 36.9h0M295.9 37.1h0M318.1 36.5h0M355.0 37.3h0M373.7 36.5h0M414.0 36.5h0M417.0 37.0h0M313.1 39.8h0M418.6 39.3h0M415.5 50.8h0M271.1 53.5h0M336.4 58.6h0M345.6 58.1h0M273.1 61.2h0M328.6 61.0h0M350.3 61.2h0M368.5 61.2h0M327.1 63.5h0M338.0 71.8h0M358.1 74.4h0M407.6 74.0h0M343.5 77.1h0M347.5 77.0h0M326.9 80.0h0M363.4 81.9h0M421.7 82.6h0M345.3 85.3h0M407.9 84.8h0M410.9 85.0h0M369.0 87.8h0M357.9 90.7h0M282.8 93.5h0M306.7 93.3h0M353.7 93.5h0M362.9 93.2h0M369.3 93.2h0M381.0 93.6h0M289.9 96.1h0M320.9 96.2h0M367.4 95.5h0M376.5 95.9h0M275.7 98.2h0M291.5 99.1h0M294.8 98.8h0M365.5 98.7h0M290.0 101.4h0M330.5 101.0h0M345.3 100.6h0M370.2 101.3h0M403.1 104.0h0M401.8 106.3h0M423.5 106.4h0M287.0 112.2h0M315.0 111.9h0M321.0 111.9h0M373.0 114.9h0M288.5 120.0h0M298.0 120.1h0M307.3 120.2h0M402.9 120.0h0M290.0 122.7h0M299.0 122.8h0M302.7 122.5h0M358.0 123.0h0M375.6 125.6h0M393.8 125.3h0M308.7 128.3h0M398.8 128.2h0M291.4 131.1h0M384.3 130.8h0M387.1 131.0h0M389.4 133.7h0M391.9 133.4h0M319.4 136.4h0M330.5 138.9h0M279.2 141.6h0M285.4 141.4h0M387.5 141.5h0M314.7 144.2h0M388.7 144.4h0M412.1 146.5h0M364.5 155.0h0M275.9 162.9h0M351.9 170.8h0M355.0 171.3h0M272.8 174.1h0M276.0 173.8h0M296.3 176.1h0M336.1 176.3h0M291.2 179.0h0M334.7 179.2h0M344.5 179.1h0M387.5 179.2h0M277.6 181.3h0M320.9 181.5h0M382.8 181.8h0M423.1 181.3h0M372.7 184.3h0M387.4 184.4h0M428.2 184.6h0" stroke="#47145f"/><path d="M299.2 26.3h0M398.2 25.6h0M353.5 28.6h0M299.0 31.4h0M311.5 31.8h0M358.5 31.4h0M303.6 34.4h0M312.7 34.1h0M283.8 36.8h0M297.3 39.5h0M316.1 40.1h0M410.9 42.5h0M300.6 45.4h0M404.3 47.0h0M301.0 50.2h0M304.2 49.8h0M350.6 55.1h0M277.4 58.1h0M289.9 58.6h0M324.0 58.5h0M279.3 61.6h0M344.2 61.0h0M347.4 60.9h0M277.8 63.9h0M314.6 63.6h0M317.5 63.1h0M333.3 63.9h0M370.5 63.5h0M275.9 66.7h0M284.9 66.2h0M331.4 66.3h0M335.1 66.6h0M341.1 66.5h0M332.9 69.4h0M339.0 68.8h0M342.4 69.6h0M370.8 68.7h0M322.9 72.1h0M328.7 71.6h0M340.9 71.5h0M372.0 72.2h0M339.4 74.6h0M352.4 74.7h0M367.7 74.3h0M429.6 74.4h0M331.9 77.3h0M342.4 79.9h0M364.3 79.6h0M411.2 79.6h0M426.2 80.1h0M328.7 82.8h0M331.7 82.1h0M337.9 82.4h0M341.1 82.5h0M327.0 85.0h0M342.8 84.8h0M364.4 85.7h0M272.5 87.6h0M279.0 88.1h0M325.4 88.1h0M340.8 88.0h0M277.5 91.1h0M367.7 90.3h0M370.7 90.6h0M275.9 93.0h0M278.8 92.7h0M285.3 93.8h0M325.7 93.7h0M328.6 93.4h0M340.9 93.2h0M365.9 93.5h0M372.4 93.1h0M375.1 93.2h0M275.0 96.0h0M296.2 95.9h0M324.3 96.0h0M370.5 96.1h0M281.9 98.5h0M325.6 98.7h0M341.1 98.3h0M346.9 98.6h0M277.9 100.7h0M283.5 101.3h0M299.8 101.6h0M279.1 104.0h0M288.4 104.2h0M291.4 103.8h0M384.4 103.5h0M393.6 103.8h0M283.4 106.7h0M299.5 106.9h0M398.1 106.4h0M281.7 109.3h0M288.5 109.8h0M356.9 109.2h0M369.1 108.9h0M271.5 112.1h0M373.8 117.3h0M300.8 120.0h0M378.2 119.8h0M380.8 119.8h0M379.9 122.7h0M388.9 122.9h0M381.7 125.3h0M390.7 125.4h0M299.7 128.3h0M305.4 128.0h0M311.4 127.9h0M307.2 130.6h0M325.4 130.7h0M324.0 133.6h0M271.5 138.7h0M274.3 138.7h0M290.0 138.7h0M320.8 138.7h0M313.5 142.0h0M296.2 144.5h0M334.8 147.5h0M324.3 149.7h0M359.6 158.0h0M362.5 157.9h0M333.2 165.8h0M322.3 168.6h0M331.8 168.6h0M319.1 174.3h0M350.4 173.6h0M271.1 176.9h0M284.3 176.5h0M319.4 178.7h0M274.5 182.0h0M293.2 181.5h0M342.8 181.8h0M426.4 181.8h0M366.2 184.6h0M381.3 184.4h0M409.5 184.6h0" stroke="#391146"/><path d="M289.9 26.3h0M295.9 26.6h0M354.9 25.9h0M291.2 28.7h0M356.3 28.5h0M387.6 28.4h0M293.5 31.5h0M302.1 31.4h0M294.6 33.9h0M297.6 34.4h0M300.9 34.4h0M309.9 34.1h0M357.1 34.7h0M396.8 33.7h0M409.2 34.1h0M299.1 36.9h0M307.9 36.6h0M311.2 37.2h0M410.9 36.6h0M303.6 39.2h0M409.6 39.4h0M412.5 39.0h0M302.0 42.1h0M308.5 42.1h0M311.8 42.2h0M404.2 42.5h0M309.8 45.2h0M406.4 44.9h0M409.1 44.4h0M302.2 47.9h0M305.3 47.5h0M401.4 47.5h0M297.7 50.1h0M310.2 50.3h0M399.8 50.3h0M274.3 52.8h0M283.8 52.9h0M286.7 52.9h0M302.5 53.1h0M275.4 56.0h0M321.2 58.8h0M326.8 57.9h0M348.5 58.3h0M285.3 60.8h0M280.5 63.5h0M283.9 63.3h0M323.6 63.7h0M330.1 63.5h0M325.6 66.7h0M328.8 66.5h0M327.2 68.8h0M330.3 69.4h0M358.1 69.4h0M356.6 71.5h0M363.2 71.5h0M342.5 74.1h0M371.0 74.2h0M325.6 77.1h0M328.9 77.4h0M341.3 77.2h0M365.7 77.3h0M368.8 77.3h0M372.0 76.8h0M370.7 79.8h0M423.3 79.7h0M325.4 82.5h0M277.4 85.2h0M358.3 85.4h0M367.1 85.3h0M425.9 85.2h0M365.9 87.4h0M371.8 87.9h0M274.3 90.4h0M327.1 90.7h0M346.1 90.9h0M364.2 90.8h0M288.6 92.9h0M277.3 95.9h0M283.4 96.0h0M326.5 96.0h0M379.8 96.1h0M285.5 98.7h0M297.2 98.5h0M329.2 99.0h0M375.0 98.4h0M377.9 98.5h0M373.4 101.4h0M377.2 100.8h0M383.2 100.4h0M282.4 103.8h0M294.8 103.9h0M368.8 103.9h0M367.5 106.6h0M370.4 111.7h0M379.5 111.8h0M322.4 114.7h0M305.7 117.1h0M364.5 117.1h0M376.5 117.5h0M294.7 120.0h0M374.9 120.2h0M283.8 123.1h0M293.0 123.0h0M295.8 123.0h0M308.5 122.8h0M376.6 122.7h0M392.5 122.6h0M398.5 122.8h0M285.7 125.6h0M294.5 125.1h0M300.9 125.4h0M372.4 125.5h0M387.8 125.1h0M289.5 128.2h0M385.9 127.9h0M298.3 130.7h0M309.9 131.2h0M378.0 130.4h0M390.9 130.3h0M393.8 130.9h0M308.6 134.1h0M311.0 133.3h0M314.9 133.7h0M276.0 136.1h0M297.6 136.4h0M313.3 136.1h0M328.8 136.5h0M334.6 135.6h0M324.0 138.7h0M279.9 144.3h0M293.1 143.9h0M282.3 146.9h0M430.7 146.7h0M272.9 157.9h0M352.0 165.7h0M355.3 165.5h0M414.3 165.7h0M325.2 168.3h0M328.8 168.4h0M349.9 168.3h0M357.8 171.1h0M420.2 170.6h0M423.2 170.8h0M325.3 173.0h0M335.2 173.5h0M431.0 174.2h0M330.3 176.3h0M333.0 176.3h0M429.5 176.7h0M275.8 178.8h0M322.4 179.1h0M427.8 179.4h0M379.8 182.1h0M407.6 182.2h0M421.2 184.5h0M431.0 184.9h0" stroke="#2f1436"/><path d="M292.7 26.1h0M288.2 28.4h0M294.5 28.8h0M365.8 29.1h0M354.5 31.4h0M412.3 33.7h0M301.9 36.9h0M305.6 36.4h0M314.9 37.5h0M309.9 39.5h0M298.9 42.7h0M317.6 42.6h0M320.8 41.8h0M373.2 42.2h0M413.9 42.5h0M307.3 45.2h0M299.0 47.8h0M317.6 47.5h0M320.9 47.4h0M307.0 50.4h0M289.8 52.6h0M404.6 52.9h0M288.1 55.7h0M325.8 55.8h0M271.3 58.1h0M273.9 57.9h0M280.7 58.0h0M330.5 58.6h0M275.8 61.0h0M319.6 60.9h0M322.4 61.0h0M332.3 60.4h0M334.9 61.2h0M338.2 61.3h0M341.2 61.1h0M282.1 66.3h0M350.3 66.3h0M367.2 69.2h0M373.6 69.3h0M376.7 69.3h0M331.6 71.5h0M352.9 71.5h0M360.2 71.7h0M369.1 72.1h0M378.3 71.7h0M361.3 74.9h0M359.4 77.4h0M418.5 77.0h0M427.4 76.6h0M345.2 79.5h0M348.9 79.9h0M376.8 80.1h0M368.8 82.7h0M427.8 82.5h0M370.4 85.1h0M379.7 85.1h0M423.5 85.3h0M275.9 88.2h0M280.5 90.5h0M283.9 90.6h0M359.9 93.3h0M271.6 96.1h0M280.5 95.9h0M293.8 95.9h0M339.9 96.0h0M342.1 96.0h0M386.1 96.0h0M272.8 98.4h0M279.1 99.1h0M288.3 98.2h0M280.1 101.3h0M293.0 101.0h0M367.6 101.3h0M365.6 104.2h0M271.1 106.1h0M289.9 106.5h0M285.0 109.4h0M291.3 109.3h0M362.4 114.1h0M299.1 117.1h0M318.4 117.4h0M320.8 117.5h0M291.5 119.9h0M304.0 120.0h0M390.4 120.2h0M280.9 122.9h0M287.1 122.7h0M382.6 122.6h0M288.8 125.6h0M291.8 125.4h0M297.6 125.2h0M295.5 127.6h0M302.3 128.4h0M389.6 127.6h0M294.8 130.1h0M271.1 133.2h0M274.6 133.2h0M320.9 133.2h0M273.2 136.1h0M325.6 136.3h0M317.8 138.8h0M327.3 138.7h0M281.5 141.6h0M274.9 144.2h0M283.7 144.5h0M317.8 144.1h0M333.5 155.1h0M353.7 157.7h0M427.9 157.5h0M430.7 157.3h0M327.3 160.4h0M336.0 160.3h0M364.4 160.2h0M356.5 168.3h0M320.9 171.1h0M324.0 170.7h0M330.3 171.1h0M429.6 171.1h0M322.2 173.7h0M328.4 173.5h0M353.3 173.8h0M419.7 176.2h0M426.2 176.2h0M431.0 179.3h0M336.0 181.5h0M410.6 181.6h0M273.0 184.3h0M375.2 184.4h0M378.4 184.1h0M425.1 184.6h0" stroke="#3b113b"/><path d="M286.4 26.0h0M361.5 26.0h0M370.6 26.3h0M392.4 26.1h0M362.5 28.5h0M378.2 28.6h0M390.7 28.7h0M290.0 31.7h0M376.9 32.1h0M385.9 31.7h0M395.2 31.4h0M390.9 34.0h0M406.4 34.0h0M392.1 36.7h0M398.2 36.6h0M408.0 37.3h0M328.3 39.3h0M305.2 42.1h0M314.8 42.3h0M323.8 42.2h0M407.8 42.4h0M304.4 45.0h0M322.4 44.8h0M325.7 45.1h0M403.5 45.1h0M273.3 55.4h0M322.5 55.9h0M281.9 61.2h0M325.8 60.5h0M358.1 64.1h0M353.4 66.2h0M366.0 66.2h0M372.1 66.2h0M280.6 69.2h0M336.5 69.0h0M291.4 71.8h0M365.1 71.6h0M327.2 74.9h0M336.7 74.9h0M364.0 74.4h0M376.9 74.2h0M378.5 77.3h0M415.6 77.2h0M421.5 77.2h0M424.5 77.2h0M360.9 79.5h0M373.6 79.6h0M350.0 82.3h0M283.8 85.0h0M324.2 85.4h0M330.1 85.3h0M377.0 84.9h0M291.7 87.8h0M294.8 87.9h0M313.1 87.5h0M271.1 90.7h0M292.9 90.7h0M361.0 90.5h0M376.5 90.6h0M272.9 93.0h0M291.5 93.6h0M313.4 93.5h0M421.8 93.2h0M298.6 96.1h0M358.2 95.8h0M381.7 98.6h0M394.6 101.6h0M286.0 103.7h0M372.1 104.2h0M377.9 104.1h0M275.9 109.5h0M290.1 112.3h0M319.3 114.7h0M324.0 117.3h0M316.4 120.0h0M317.6 122.7h0M385.7 122.2h0M384.4 125.3h0M283.8 128.1h0M293.3 127.9h0M276.2 130.6h0M288.5 130.7h0M300.9 130.5h0M292.9 133.5h0M318.1 133.6h0M386.0 133.2h0M277.4 138.8h0M291.0 141.5h0M276.1 147.0h0M279.0 146.7h0M322.5 146.6h0M317.8 149.2h0M320.9 149.4h0M332.8 149.4h0M325.6 152.6h0M328.8 152.1h0M335.0 152.5h0M320.9 155.3h0M336.6 154.7h0M429.1 154.7h0M331.6 157.5h0M334.9 157.5h0M338.3 157.7h0M320.9 165.7h0M326.9 166.0h0M412.0 168.4h0M418.0 168.4h0M427.9 168.3h0M327.2 171.3h0M415.1 173.7h0M418.8 173.4h0M424.6 173.6h0M427.8 173.5h0M324.3 176.4h0M327.3 176.4h0M339.8 176.5h0M423.2 176.8h0M414.1 182.2h0M322.2 184.2h0M350.0 184.5h0M356.4 184.3h0" stroke="#4e1443"/><path d="M376.4 25.7h0M285.5 29.2h0M371.9 28.6h0M393.6 28.8h0M309.1 31.7h0M367.5 31.1h0M370.9 31.5h0M398.3 31.5h0M307.0 34.0h0M375.0 33.6h0M400.0 34.1h0M307.0 39.6h0M322.6 39.2h0M325.8 39.4h0M326.9 42.6h0M375.1 45.1h0M318.7 50.6h0M323.8 52.9h0M333.0 52.8h0M348.6 53.3h0M328.7 55.4h0M367.0 58.5h0M316.3 61.1h0M353.5 61.2h0M345.6 64.1h0M348.6 63.1h0M351.9 63.2h0M369.4 66.5h0M412.6 66.2h0M283.6 69.0h0M355.2 69.2h0M285.2 71.6h0M375.2 71.7h0M280.3 73.9h0M373.6 74.5h0M414.0 74.7h0M423.1 74.5h0M362.8 77.0h0M375.4 77.2h0M431.1 76.9h0M302.1 79.9h0M367.4 79.7h0M429.5 79.9h0M347.1 82.6h0M372.1 82.5h0M430.8 82.1h0M348.7 84.8h0M316.1 87.8h0M375.2 87.8h0M314.7 90.5h0M317.8 90.7h0M373.7 90.4h0M429.3 90.5h0M385.0 92.7h0M396.7 93.2h0M286.7 95.8h0M398.7 95.9h0M372.1 98.5h0M375.0 104.4h0M373.6 106.4h0M274.4 112.0h0M299.0 112.1h0M276.0 114.7h0M359.6 114.3h0M277.0 117.6h0M361.0 117.5h0M273.4 120.0h0M325.3 120.2h0M314.9 122.7h0M273.5 125.5h0M275.7 125.7h0M281.7 125.9h0M271.5 128.1h0M274.2 128.2h0M280.5 127.9h0M286.6 127.7h0M304.2 130.9h0M330.1 133.6h0M316.5 136.2h0M280.2 138.8h0M322.5 141.5h0M321.1 144.6h0M324.1 144.3h0M285.4 146.9h0M291.7 146.6h0M316.2 147.1h0M319.3 147.0h0M311.9 149.7h0M327.1 149.3h0M330.6 150.0h0M319.4 152.0h0M338.1 151.9h0M324.4 155.1h0M327.0 155.1h0M339.7 155.1h0M342.4 155.2h0M275.7 157.8h0M341.1 158.0h0M274.8 160.3h0M330.2 160.4h0M358.2 166.0h0M420.3 165.7h0M316.5 168.1h0M430.6 168.5h0M317.9 171.2h0M316.6 174.2h0M421.6 173.7h0M416.7 176.7h0M421.5 179.5h0M420.6 181.5h0M319.5 184.4h0M384.3 184.6h0M412.3 184.6h0" stroke="#64194b"/><path d="M367.5 26.0h0M382.7 25.7h0M393.8 33.9h0M375.0 40.1h0M393.5 39.4h0M308.5 47.7h0M327.0 47.6h0M322.2 50.5h0M325.5 50.3h0M356.8 50.4h0M317.9 52.9h0M321.1 53.1h0M355.3 52.9h0M285.2 55.5h0M362.4 55.5h0M356.8 61.1h0M355.2 63.9h0M404.5 63.3h0M407.4 63.3h0M316.7 66.6h0M362.7 66.4h0M375.0 66.3h0M415.8 66.3h0M277.4 69.0h0M282.5 72.1h0M415.4 71.6h0M418.0 72.3h0M421.4 71.7h0M417.3 74.7h0M296.4 79.2h0M379.9 79.7h0M416.6 79.8h0M300.8 82.6h0M375.2 82.3h0M424.5 82.6h0M287.0 85.1h0M373.3 85.2h0M285.4 87.4h0M307.1 87.9h0M421.9 87.6h0M424.5 87.9h0M286.7 90.7h0M289.9 90.2h0M380.0 90.7h0M417.1 90.3h0M294.4 93.4h0M350.7 93.0h0M382.6 96.0h0M395.6 96.1h0M394.0 98.2h0M287.2 101.3h0M273.2 109.5h0M294.3 109.2h0M297.8 108.8h0M277.1 111.5h0M293.3 112.1h0M367.0 112.1h0M273.2 114.8h0M271.3 117.5h0M283.5 117.4h0M289.8 117.5h0M293.0 118.0h0M296.5 117.6h0M389.4 117.4h0M285.2 119.9h0M271.2 122.8h0M316.2 125.6h0M378.4 125.3h0M272.8 130.6h0M279.2 130.5h0M285.0 131.1h0M277.3 133.7h0M279.2 136.1h0M322.4 136.3h0M283.9 138.8h0M287.2 138.6h0M288.5 141.7h0M325.7 141.6h0M290.2 143.7h0M329.9 144.3h0M331.8 146.4h0M344.4 146.8h0M336.5 149.6h0M339.3 149.6h0M316.1 152.9h0M322.2 152.3h0M430.8 151.8h0M271.3 155.2h0M277.4 154.3h0M314.8 155.2h0M330.2 155.2h0M423.6 155.0h0M426.3 155.1h0M316.3 157.8h0M322.8 157.6h0M344.0 157.5h0M342.9 160.1h0M345.6 160.7h0M328.4 163.3h0M330.1 165.8h0M415.3 168.2h0M421.5 168.1h0M413.8 170.8h0M416.8 171.0h0M412.2 173.7h0M317.8 176.1h0M414.1 176.8h0M356.4 179.7h0M406.3 179.2h0M424.5 178.9h0M271.0 181.7h0M325.5 184.7h0M418.5 184.8h0" stroke="#7a2050"/><path d="M364.5 26.0h0M386.0 26.2h0M368.7 28.7h0M375.1 28.5h0M379.5 31.3h0M319.5 39.6h0M380.1 42.6h0M332.1 45.1h0M407.4 47.3h0M410.7 47.3h0M328.6 50.1h0M360.1 50.3h0M409.3 50.6h0M305.6 52.9h0M329.9 52.7h0M331.2 55.6h0M335.0 55.6h0M361.1 58.5h0M359.7 61.0h0M410.5 63.7h0M413.6 63.6h0M322.5 66.6h0M359.9 66.4h0M431.0 66.5h0M286.8 68.8h0M364.6 69.1h0M426.5 69.5h0M319.5 71.3h0M299.4 79.5h0M304.3 82.5h0M296.3 85.0h0M308.6 84.6h0M333.3 85.2h0M382.9 84.7h0M282.0 87.9h0M334.9 88.2h0M378.3 87.8h0M308.6 90.8h0M312.1 90.8h0M330.1 90.7h0M333.4 90.5h0M413.7 90.6h0M351.7 95.8h0M401.7 95.7h0M297.7 103.9h0M293.0 106.2h0M303.8 109.2h0M387.6 108.8h0M398.5 112.4h0M404.6 111.8h0M282.1 114.7h0M294.2 114.6h0M397.0 114.9h0M406.2 114.6h0M383.0 117.3h0M386.2 117.4h0M404.6 117.3h0M406.1 119.8h0M277.5 122.5h0M277.7 128.3h0M281.6 130.6h0M287.2 133.6h0M285.2 135.8h0M273.0 146.9h0M325.5 147.1h0M392.3 149.4h0M272.5 152.4h0M276.0 152.0h0M331.7 152.2h0M317.7 154.8h0M307.0 157.5h0M313.4 157.6h0M329.0 157.5h0M317.3 160.7h0M333.5 160.6h0M428.9 159.9h0M325.9 163.2h0M337.7 163.1h0M412.2 162.8h0M424.9 163.2h0M334.7 168.5h0M338.3 168.7h0M311.8 170.9h0M426.4 171.1h0M313.3 173.8h0M406.0 173.8h0M314.4 176.5h0M357.7 176.0h0M313.4 179.3h0M353.5 179.2h0M412.5 179.5h0M418.4 179.1h0M324.2 182.2h0M339.5 181.7h0M417.2 181.9h0M353.3 184.0h0M415.7 184.6h0" stroke="#8e2c50"/><path d="M373.3 26.3h0M379.4 25.6h0M389.1 25.9h0M381.1 28.9h0M384.2 28.7h0M382.4 31.1h0M401.2 31.7h0M402.6 34.1h0M396.6 39.7h0M328.7 44.8h0M356.2 44.6h0M330.5 47.7h0M299.1 52.9h0M357.9 52.7h0M363.8 52.8h0M337.7 55.3h0M347.4 55.8h0M315.0 58.1h0M317.9 58.5h0M364.6 58.2h0M362.7 60.8h0M412.5 61.1h0M361.0 63.9h0M318.9 66.6h0M356.3 66.4h0M421.6 66.8h0M424.9 66.2h0M361.1 68.7h0M423.1 69.1h0M424.9 71.6h0M431.1 71.7h0M289.9 74.2h0M305.4 73.9h0M303.6 77.6h0M312.9 77.5h0M311.9 79.6h0M294.3 82.2h0M297.6 82.7h0M315.7 82.5h0M344.1 82.4h0M288.4 87.4h0M310.4 87.3h0M331.8 87.4h0M339.2 90.7h0M335.0 93.1h0M356.3 93.4h0M412.5 93.1h0M415.4 93.4h0M418.5 93.2h0M356.4 99.1h0M403.0 98.6h0M275.9 104.2h0M302.4 106.6h0M403.1 109.6h0M296.4 112.0h0M279.1 114.5h0M384.5 114.6h0M387.5 114.9h0M403.3 114.6h0M280.8 117.3h0M286.8 117.4h0M392.5 117.7h0M395.1 117.3h0M313.1 120.4h0M387.8 120.4h0M394.5 120.1h0M279.2 125.7h0M281.0 133.4h0M319.4 141.8h0M328.9 141.5h0M327.3 144.2h0M328.8 146.8h0M338.1 147.0h0M274.7 149.6h0M342.4 148.8h0M341.1 152.1h0M398.7 155.2h0M410.6 154.7h0M325.4 157.8h0M406.3 157.8h0M422.1 157.8h0M425.0 157.7h0M426.3 160.4h0M431.0 163.3h0M313.4 168.2h0M314.7 171.2h0M415.8 179.2h0M337.8 184.5h0" stroke="#9f3c50"/><path d="M392.1 31.7h0M405.0 31.2h0M395.4 36.8h0M356.2 39.7h0M353.6 44.8h0M428.0 44.8h0M324.4 47.2h0M342.8 47.4h0M351.9 47.4h0M355.3 47.7h0M337.9 50.4h0M344.1 50.1h0M412.2 50.2h0M293.0 53.2h0M352.1 53.0h0M361.2 52.8h0M297.9 55.3h0M365.9 55.4h0M333.4 58.0h0M395.4 58.1h0M417.1 58.4h0M365.1 60.9h0M418.1 60.7h0M296.3 63.5h0M320.6 63.4h0M364.2 63.8h0M367.3 63.9h0M416.7 63.9h0M279.3 66.1h0M294.4 66.5h0M418.5 66.8h0M428.0 66.3h0M429.2 69.0h0M279.0 71.3h0M427.5 71.3h0M284.0 74.8h0M354.9 74.1h0M279.4 77.1h0M293.7 76.9h0M300.7 76.8h0M306.9 76.8h0M316.4 77.4h0M380.7 77.0h0M384.8 77.1h0M280.5 79.7h0M292.8 79.9h0M309.6 82.2h0M378.5 81.9h0M290.2 84.7h0M302.2 85.8h0M297.6 87.6h0M415.6 87.5h0M305.5 90.7h0M386.4 90.3h0M419.8 90.3h0M404.1 96.1h0M396.8 98.4h0M271.2 100.9h0M272.4 104.1h0M397.0 104.0h0M301.2 109.0h0M392.5 112.0h0M401.2 112.0h0M285.5 114.5h0M288.1 114.8h0M291.7 114.8h0M381.2 115.3h0M379.9 117.2h0M276.2 119.8h0M279.1 119.6h0M399.9 120.0h0M274.9 122.6h0M314.8 127.8h0M288.7 136.2h0M291.6 136.1h0M295.0 135.9h0M331.7 141.7h0M313.3 147.0h0M314.1 149.6h0M312.9 152.5h0M403.3 152.3h0M424.8 152.8h0M408.0 155.4h0M303.9 158.2h0M403.3 157.5h0M314.8 159.6h0M331.6 163.1h0M311.5 165.5h0M336.2 165.8h0M319.4 168.5h0M336.5 171.4h0M337.8 173.5h0M308.3 181.6h0M334.4 184.6h0" stroke="#ac4d51"/><path d="M401.5 42.1h0M359.3 44.8h0M394.4 44.8h0M334.6 50.4h0M353.6 50.3h0M327.1 53.1h0M342.7 52.8h0M345.8 52.9h0M382.6 53.0h0M313.0 55.1h0M292.9 58.2h0M305.6 58.4h0M342.4 58.4h0M294.7 61.4h0M304.2 61.3h0M409.2 61.2h0M415.3 61.0h0M398.6 63.8h0M297.9 66.5h0M303.5 66.2h0M403.1 66.4h0M409.0 66.4h0M292.8 69.5h0M308.7 69.1h0M317.7 69.1h0M320.8 69.0h0M323.8 69.2h0M407.8 68.9h0M297.9 71.3h0M316.2 71.5h0M293.0 74.5h0M386.1 74.7h0M426.4 74.4h0M285.0 77.2h0M288.3 77.0h0M297.7 77.0h0M310.1 77.1h0M390.9 77.2h0M323.8 80.2h0M390.5 82.5h0M280.6 85.5h0M292.8 85.1h0M305.4 85.2h0M311.2 85.4h0M314.5 84.8h0M320.7 85.1h0M318.7 88.0h0M419.3 87.8h0M324.0 90.6h0M403.5 93.1h0M295.9 106.9h0M404.2 106.3h0M280.7 112.4h0M382.6 112.0h0M390.4 114.5h0M399.8 115.1h0M283.5 133.5h0M403.5 141.8h0M401.4 144.0h0M340.6 147.5h0M271.7 149.3h0M401.4 149.1h0M309.9 152.8h0M418.7 152.5h0M404.0 155.3h0M420.0 155.3h0M399.7 158.1h0M409.4 157.6h0M412.2 158.0h0M401.2 160.6h0M404.9 160.1h0M316.4 162.8h0M334.5 162.9h0M384.8 162.9h0M406.5 163.0h0M314.6 165.9h0M323.6 165.8h0M426.3 165.4h0M429.4 165.5h0M309.7 168.0h0M425.0 168.4h0M355.1 176.7h0M407.9 176.0h0M409.1 178.9h0M327.0 181.8h0M333.0 182.3h0" stroke="#b86155"/><path d="M339.0 36.8h0M386.0 37.4h0M345.4 42.5h0M361.3 47.3h0M388.9 47.6h0M313.3 50.1h0M347.1 50.4h0M362.2 49.9h0M402.8 49.9h0M295.9 53.1h0M339.8 53.2h0M417.4 52.6h0M300.5 55.5h0M310.3 56.1h0M344.3 55.8h0M353.4 56.0h0M359.8 55.7h0M352.0 58.1h0M392.3 58.1h0M293.3 63.4h0M392.1 63.4h0M401.7 63.7h0M291.0 66.5h0M309.8 66.6h0M313.3 66.5h0M399.6 66.7h0M296.2 68.9h0M305.3 69.3h0M395.5 68.3h0M404.1 68.8h0M301.1 71.9h0M278.1 74.4h0M296.1 74.2h0M299.2 74.3h0M308.5 74.4h0M277.7 79.9h0M290.1 79.6h0M305.4 79.6h0M308.9 79.8h0M385.8 79.8h0M278.9 82.7h0M282.2 82.6h0M291.3 82.6h0M313.3 82.0h0M322.3 82.7h0M322.7 88.0h0M384.6 87.9h0M336.4 90.0h0M382.6 90.5h0M378.2 93.0h0M393.7 93.1h0M274.8 117.5h0M324.1 128.4h0M282.1 136.2h0M399.9 141.7h0M406.3 152.2h0M421.5 152.3h0M401.5 154.6h0M305.7 160.4h0M407.6 160.1h0M409.3 162.9h0M318.0 166.1h0M407.6 165.7h0M411.4 165.7h0M333.5 171.0h0M332.1 173.8h0M410.9 176.6h0M307.2 179.1h0" stroke="#c0755e"/><path d="M389.4 36.6h0M404.8 37.2h0M390.1 39.8h0M406.7 39.6h0M339.3 42.4h0M392.2 42.2h0M398.5 42.5h0M316.5 44.8h0M358.0 47.5h0M385.7 47.2h0M392.3 47.5h0M398.7 47.7h0M316.6 49.6h0M428.1 50.5h0M315.2 53.6h0M336.6 52.9h0M414.0 52.6h0M319.5 55.6h0M357.3 55.6h0M421.7 55.6h0M424.4 55.9h0M299.1 58.3h0M354.9 58.0h0M358.0 58.6h0M288.0 61.3h0M297.8 60.9h0M300.9 61.2h0M393.5 60.7h0M396.9 60.6h0M399.9 61.2h0M287.1 63.8h0M302.5 63.2h0M305.3 64.1h0M300.4 66.3h0M271.1 69.2h0M289.9 69.0h0M302.2 68.8h0M275.6 71.6h0M288.6 71.7h0M294.3 71.8h0M306.9 71.6h0M393.3 71.5h0M403.4 72.0h0M409.3 71.5h0M286.8 73.9h0M383.0 74.4h0M291.8 77.0h0M402.3 77.1h0M405.9 77.2h0M286.7 79.6h0M321.2 80.3h0M382.8 79.9h0M392.5 80.0h0M288.5 82.4h0M306.9 82.6h0M319.5 82.3h0M387.3 82.7h0M429.9 85.3h0M328.4 87.9h0M381.5 87.9h0M321.1 90.2h0M426.2 90.3h0M307.3 108.9h0M393.2 114.9h0M397.8 144.1h0M404.5 144.5h0M406.3 146.6h0M305.2 155.1h0M395.5 155.1h0M294.6 157.5h0M374.9 157.7h0M320.7 160.0h0M323.9 160.2h0M423.1 159.9h0M300.8 163.2h0M312.9 163.2h0M319.3 162.8h0M322.1 162.9h0M344.4 163.0h0M422.2 162.8h0M428.0 162.9h0M308.0 165.7h0M342.7 165.7h0M423.0 165.8h0M342.5 171.0h0M308.8 176.7h0M328.7 178.6h0M398.7 181.4h0M328.8 184.6h0" stroke="#c68a6d"/><path d="M350.3 34.4h0M384.6 34.0h0M351.9 36.3h0M359.5 39.5h0M342.8 41.8h0M349.0 42.6h0M390.4 44.9h0M429.6 47.4h0M331.6 50.5h0M340.9 50.6h0M390.7 50.4h0M423.3 53.4h0M426.7 52.7h0M428.8 53.0h0M291.6 56.1h0M341.0 55.6h0M403.2 55.5h0M296.3 58.1h0M339.4 58.4h0M403.0 61.1h0M406.0 60.7h0M299.2 63.3h0M405.7 66.1h0M299.4 69.3h0M311.7 69.1h0M314.5 69.5h0M419.8 69.1h0M301.9 74.3h0M420.2 74.4h0M282.3 77.1h0M283.3 79.9h0M388.9 79.6h0M284.7 82.4h0M381.9 82.6h0M384.4 82.4h0M317.4 85.1h0M385.9 85.4h0M430.9 88.0h0M395.2 90.1h0M302.3 112.3h0M308.4 112.1h0M282.1 119.9h0M328.9 125.6h0M336.5 128.0h0M328.5 130.6h0M410.6 133.5h0M404.9 138.7h0M407.9 139.1h0M405.8 141.6h0M409.0 141.3h0M410.6 143.9h0M300.7 152.4h0M308.7 154.9h0M309.9 157.8h0M320.0 158.0h0M308.5 160.2h0M311.7 160.5h0M341.0 162.8h0M404.3 166.1h0M344.2 168.3h0M399.8 168.2h0M339.8 171.2h0M398.7 176.0h0M331.8 178.9h0M400.2 179.1h0M355.2 181.9h0M331.4 184.7h0" stroke="#cb9f83"/><path d="M347.2 28.4h0M389.0 31.2h0M346.6 33.9h0M381.2 34.4h0M387.6 34.7h0M342.3 37.1h0M348.6 37.2h0M379.1 37.5h0M382.9 36.5h0M403.3 39.3h0M358.0 42.7h0M319.4 44.8h0M341.3 45.0h0M347.3 44.9h0M387.6 44.7h0M396.7 45.2h0M400.0 44.8h0M431.2 45.1h0M314.9 47.8h0M333.0 47.6h0M345.8 47.8h0M395.2 47.3h0M414.2 48.0h0M387.7 50.7h0M397.1 50.1h0M431.1 50.3h0M311.5 52.8h0M420.3 52.9h0M307.1 55.7h0M316.0 55.8h0M418.9 56.0h0M302.2 57.8h0M308.9 58.5h0M311.6 58.0h0M401.8 58.3h0M407.4 58.3h0M306.7 61.2h0M313.2 61.4h0M308.3 64.0h0M311.7 63.8h0M395.6 63.8h0M396.9 66.4h0M398.4 69.4h0M414.0 69.2h0M417.1 69.3h0M406.4 71.2h0M379.4 74.9h0M399.9 77.2h0M414.1 80.1h0M404.3 85.4h0M389.3 90.5h0M423.5 90.6h0M381.0 103.8h0M311.6 106.5h0M386.5 106.6h0M389.4 106.8h0M392.3 106.6h0M390.4 109.3h0M396.7 109.4h0M388.7 112.2h0M395.0 112.0h0M327.1 128.3h0M333.6 128.1h0M334.7 131.1h0M409.1 136.0h0M309.9 147.0h0M308.4 149.5h0M303.9 152.3h0M391.1 152.6h0M394.0 151.8h0M397.3 152.4h0M311.5 154.8h0M310.4 163.1h0M403.3 163.2h0M302.8 165.7h0M384.3 168.2h0M305.8 171.0h0M340.8 173.6h0M403.1 179.3h0M404.5 181.9h0" stroke="#d0b39e"/><path d="M348.7 26.1h0M418.8 28.9h0M348.3 31.3h0M345.9 36.7h0M401.4 36.8h0M346.7 39.8h0M384.5 39.8h0M387.7 39.8h0M430.9 39.5h0M354.7 42.3h0M389.2 42.6h0M395.5 42.2h0M344.0 44.7h0M378.5 44.8h0M415.1 45.2h0M336.3 47.7h0M339.8 47.3h0M348.5 47.2h0M382.7 48.1h0M419.8 47.8h0M392.2 53.1h0M294.7 55.6h0M303.9 55.9h0M381.6 55.9h0M406.5 55.8h0M382.7 57.8h0M291.2 61.1h0M310.5 61.0h0M381.4 61.3h0M390.2 61.0h0M421.5 61.1h0M290.0 63.7h0M288.5 66.6h0M394.0 66.5h0M274.7 69.0h0M392.2 68.8h0M412.0 71.6h0M387.3 77.1h0M271.5 79.6h0M412.2 82.4h0M418.5 82.6h0M392.1 84.8h0M428.0 87.7h0M424.8 93.2h0M391.6 96.0h0M423.2 95.9h0M390.2 98.6h0M424.3 98.6h0M305.5 106.6h0M410.7 106.3h0M393.5 108.8h0M283.5 112.0h0M331.6 125.3h0M327.2 133.7h0M412.3 136.0h0M400.0 147.2h0M403.6 146.6h0M398.7 149.8h0M306.9 152.2h0M295.4 154.8h0M299.2 154.7h0M302.2 155.2h0M393.7 158.3h0M396.8 157.3h0M301.8 160.3h0M339.4 160.3h0M386.2 160.2h0M392.5 160.6h0M414.0 160.0h0M417.3 160.6h0M420.2 160.2h0M303.7 163.2h0M387.7 162.9h0M418.3 163.3h0M389.3 165.9h0M401.4 166.0h0M306.8 168.2h0M310.0 174.0h0" stroke="#d8c5bb"/><path d="M333.3 25.6h0M346.0 26.1h0M417.3 26.2h0M350.4 29.1h0M376.9 36.8h0M350.4 39.8h0M362.3 39.7h0M378.4 39.2h0M381.6 39.6h0M400.0 39.6h0M333.4 42.2h0M351.9 42.3h0M377.2 41.9h0M385.4 42.2h0M426.2 42.0h0M350.2 45.3h0M363.0 44.7h0M381.1 45.1h0M421.8 44.9h0M380.0 47.3h0M416.9 47.7h0M381.5 49.9h0M398.4 53.0h0M402.0 52.8h0M397.4 56.1h0M427.8 55.9h0M431.0 55.7h0M426.0 58.4h0M387.5 61.0h0M379.9 63.5h0M386.1 63.4h0M423.2 63.4h0M272.9 66.0h0M401.7 69.1h0M272.8 71.5h0M304.3 71.4h0M388.6 74.6h0M395.3 75.0h0M401.4 74.4h0M396.7 77.2h0M415.7 82.2h0M387.6 87.6h0M403.1 88.0h0M398.6 90.1h0M404.5 90.2h0M407.3 90.2h0M387.6 93.0h0M391.0 93.7h0M426.3 95.3h0M313.4 103.9h0M382.9 107.0h0M395.4 106.3h0M309.7 109.4h0M344.4 109.6h0M399.7 109.0h0M410.9 117.7h0M413.9 117.3h0M329.9 122.8h0M394.2 147.0h0M421.7 147.0h0M399.9 152.2h0M388.5 155.3h0M414.1 155.4h0M391.0 157.8h0M395.9 160.4h0M398.0 160.2h0M411.6 159.9h0M307.1 163.0h0M400.2 163.5h0M299.3 165.7h0M395.1 165.7h0M398.6 165.9h0M417.0 165.8h0M303.5 168.4h0M341.1 168.7h0M394.1 168.3h0M406.2 168.0h0M283.9 171.1h0M308.3 170.9h0M306.4 173.9h0M378.0 173.8h0M397.2 174.0h0M305.2 176.2h0M311.6 176.5h0M401.2 176.1h0M404.6 176.5h0" stroke="#ded3d4"/><path d="M414.0 26.1h0M427.9 39.8h0M312.9 44.5h0M338.0 44.8h0M411.9 45.1h0M423.3 48.0h0M418.4 49.6h0M399.7 55.6h0M384.2 71.8h0M390.7 71.6h0M393.7 77.2h0M417.2 85.5h0M419.7 85.1h0M409.5 87.7h0M408.7 93.4h0M421.3 98.4h0M312.3 101.4h0M317.8 101.0h0M423.1 101.4h0M316.6 103.5h0M315.0 106.6h0M318.1 106.8h0M379.6 107.2h0M384.5 109.5h0M386.2 112.0h0M337.5 114.7h0M345.5 122.6h0M404.7 133.1h0M412.1 141.7h0M391.7 155.6h0M380.9 158.3h0M295.8 160.9h0M291.7 163.2h0M415.4 163.0h0M339.7 165.7h0M401.7 170.7h0M409.0 174.0h0M310.2 179.0h0M306.9 184.6h0" stroke="#e2d9e2"/></g></defs><use href="#p1" fill="none" stroke-width="3.72" stroke-linecap="round" stroke-opacity="0.35"/><use href="#p1" fill="none" stroke-width="2.85" stroke-linecap="round"/></g><g clip-path="url(#m2c)"><defs><g id="p2"><path d="M563.0 26.3h0M573.7 28.9h0M491.3 31.5h0M534.6 31.3h0M578.4 31.5h0M467.8 39.8h0M513.0 42.6h0M560.0 42.3h0M517.5 45.1h0M552.0 44.9h0M507.1 47.8h0M513.1 47.8h0M581.4 47.6h0M557.8 49.9h0M559.2 52.9h0M562.8 53.0h0M584.7 53.4h0M615.1 52.9h0M474.0 55.3h0M548.6 55.3h0M573.5 55.6h0M597.8 55.7h0M538.0 58.8h0M543.8 58.5h0M583.8 58.3h0M557.9 60.9h0M561.0 61.1h0M564.5 60.7h0M610.7 61.1h0M562.7 63.6h0M571.7 63.7h0M583.9 63.9h0M551.3 66.5h0M554.9 66.4h0M564.3 66.7h0M583.1 66.5h0M588.9 66.5h0M553.7 69.3h0M559.1 69.5h0M574.9 69.2h0M548.7 72.0h0M557.9 71.3h0M567.5 71.9h0M550.4 74.9h0M553.0 74.6h0M559.3 75.0h0M562.3 74.5h0M572.1 74.3h0M533.2 77.0h0M551.6 77.1h0M550.0 79.9h0M559.6 79.8h0M572.1 79.7h0M575.0 79.9h0M577.7 80.0h0M587.6 80.1h0M596.6 80.1h0M548.4 82.7h0M564.1 82.5h0M576.4 82.4h0M589.1 82.9h0M601.4 82.5h0M607.7 83.0h0M562.6 84.9h0M572.0 85.2h0M587.2 85.1h0M564.1 88.2h0M582.9 87.5h0M588.9 87.8h0M566.1 90.8h0M568.5 90.4h0M597.6 90.6h0M603.2 95.7h0M579.6 98.7h0M550.3 101.4h0M568.9 101.1h0M590.5 101.4h0M609.3 106.6h0M598.3 109.6h0M607.3 109.6h0M626.5 109.8h0M584.3 112.3h0M624.6 112.5h0M627.9 111.9h0M579.7 115.1h0M622.9 115.0h0M609.2 117.4h0M589.1 120.0h0M622.9 120.4h0M499.1 136.4h0M508.5 136.4h0M493.2 141.4h0M502.4 141.6h0M582.5 141.7h0M491.3 144.7h0M495.8 147.2h0M557.8 147.0h0M618.6 149.5h0M520.7 152.6h0M595.2 152.1h0M593.9 154.7h0M515.7 160.4h0M528.6 160.7h0M602.8 160.7h0M523.8 162.8h0M620.0 163.4h0M474.0 168.2h0M466.8 171.0h0M471.0 174.0h0M558.0 184.7h0" stroke="#e2d9e2"/><path d="M616.8 50.3h0M590.3 96.2h0M596.5 117.7h0M537.8 144.3h0M569.0 181.7h0" stroke="#d5d6dc"/><path d="M564.1 39.6h0M622.8 82.6h0M610.8 141.3h0M573.3 152.1h0M604.7 168.1h0" stroke="#bfccd3"/><path d="M469.7 58.6h0M522.5 139.0h0M534.8 144.1h0M514.4 168.8h0" stroke="#a6bfca"/><path d="M539.1 66.6h0M497.4 80.0h0M557.7 109.2h0M567.3 125.4h0" stroke="#8eb1c5"/><path d="M604.4 71.9h0M601.7 146.8h0" stroke="#7ba1c2"/><path d="M560.6 109.5h0" stroke="#6d90c0"/><path d="M506.6 90.6h0" stroke="#5e43a5"/><path d="M533.4 130.7h0" stroke="#5b2f94"/><path d="M621.5 42.1h0M582.8 152.0h0" stroke="#531e7c"/><path d="M547.2 31.7h0M549.1 34.5h0M535.2 96.1h0M562.6 106.7h0M598.4 146.8h0M612.3 171.1h0" stroke="#47145f"/><path d="M623.0 45.1h0" stroke="#391146"/><path d="M519.3 112.2h0" stroke="#3b113b"/><path d="M567.2 45.0h0M527.3 146.9h0M582.9 146.9h0M585.5 179.5h0" stroke="#4e1443"/><path d="M485.1 101.3h0M619.9 152.3h0M619.7 179.3h0" stroke="#64194b"/><path d="M511.0 50.6h0M474.0 66.7h0M533.5 66.2h0M623.1 72.3h0M626.1 93.3h0M499.2 114.3h0M497.5 117.2h0M514.7 184.4h0" stroke="#7a2050"/><path d="M570.6 50.2h0M480.5 71.7h0M597.9 77.2h0M489.9 98.6h0M472.5 101.4h0M476.2 101.1h0M522.1 106.7h0M495.9 109.1h0M548.5 115.0h0M522.6 117.5h0M499.4 120.5h0M497.4 123.0h0M500.5 122.5h0M571.9 122.8h0M501.0 127.8h0M619.8 131.1h0M510.0 133.6h0M607.6 135.9h0M480.6 142.1h0M578.1 182.2h0" stroke="#8e2c50"/><path d="M483.4 29.3h0M600.3 37.3h0M595.1 39.5h0M479.1 42.0h0M592.1 61.1h0M482.0 63.8h0M514.7 66.4h0M527.2 66.3h0M480.8 82.2h0M495.8 82.6h0M489.7 93.0h0M559.7 95.6h0M494.3 101.3h0M471.4 104.0h0M489.8 104.0h0M502.1 104.2h0M505.5 109.5h0M511.4 109.4h0M520.8 109.4h0M580.1 109.0h0M488.2 112.3h0M491.2 112.0h0M503.8 112.2h0M550.3 112.1h0M553.1 112.2h0M471.2 114.9h0M505.4 115.2h0M507.9 114.8h0M514.4 115.3h0M606.4 117.4h0M505.4 120.4h0M514.4 120.1h0M517.6 120.2h0M564.3 120.4h0M519.0 122.4h0M556.3 122.8h0M569.0 122.7h0M574.5 122.9h0M511.6 125.2h0M542.7 125.3h0M577.9 128.2h0M583.9 128.3h0M508.3 131.2h0M558.1 130.5h0M570.3 131.2h0M576.3 131.2h0M580.0 130.6h0M515.9 133.2h0M502.4 136.3h0M561.2 136.3h0M510.0 144.8h0M608.7 144.5h0M570.5 146.9h0M588.2 147.0h0M574.7 149.9h0M599.6 149.7h0M610.6 152.6h0M621.8 155.1h0M573.2 157.8h0M530.1 163.0h0M514.7 173.7h0M509.8 176.4h0M587.3 176.5h0M609.2 182.1h0M624.9 182.4h0M576.7 184.8h0" stroke="#9f3c50"/><path d="M587.2 26.2h0M474.2 34.2h0M492.9 34.1h0M604.9 34.2h0M488.4 37.2h0M509.9 36.7h0M587.4 37.1h0M608.6 37.0h0M570.2 39.5h0M579.8 39.4h0M610.3 39.7h0M565.6 42.4h0M480.5 44.9h0M582.9 45.1h0M584.6 47.8h0M625.3 47.4h0M551.8 50.3h0M576.5 50.3h0M494.4 53.1h0M517.7 55.5h0M583.4 55.9h0M494.4 58.3h0M553.0 63.7h0M489.5 66.0h0M604.4 66.3h0M615.0 68.9h0M484.0 72.1h0M574.6 74.1h0M590.6 74.2h0M593.7 74.1h0M468.0 77.6h0M483.6 77.5h0M486.6 77.5h0M496.2 77.1h0M505.2 77.2h0M508.5 77.4h0M622.9 77.3h0M467.5 82.5h0M471.4 82.5h0M478.8 85.3h0M503.8 85.5h0M506.6 85.1h0M483.5 88.1h0M502.2 87.4h0M622.9 88.0h0M475.9 90.6h0M531.8 90.8h0M468.2 93.3h0M480.6 93.6h0M496.2 93.8h0M508.5 93.3h0M511.3 93.1h0M488.2 96.2h0M505.3 98.4h0M511.7 98.8h0M514.1 98.3h0M481.8 101.6h0M509.9 101.3h0M513.7 101.3h0M468.0 104.2h0M474.0 104.6h0M498.9 104.2h0M517.8 104.3h0M539.1 104.3h0M485.1 106.8h0M490.8 106.6h0M506.7 106.6h0M512.9 107.1h0M467.7 109.5h0M480.3 109.6h0M483.3 109.4h0M486.8 109.0h0M508.7 109.4h0M509.7 112.0h0M512.7 112.1h0M534.4 112.0h0M547.0 112.1h0M489.8 114.9h0M502.6 114.8h0M511.7 114.8h0M520.6 114.3h0M529.9 114.6h0M564.2 115.1h0M485.0 117.5h0M488.3 117.7h0M506.6 117.5h0M510.4 117.5h0M516.0 117.8h0M550.2 117.1h0M502.3 120.5h0M533.5 120.4h0M536.4 119.9h0M544.6 120.5h0M503.4 122.7h0M510.5 122.9h0M515.8 122.8h0M534.7 123.0h0M550.5 122.8h0M578.3 122.9h0M495.2 125.2h0M499.0 125.5h0M508.4 125.9h0M554.9 125.7h0M573.9 125.5h0M475.4 128.5h0M497.2 128.1h0M506.7 128.2h0M512.9 128.5h0M571.8 128.2h0M561.3 131.0h0M604.6 130.8h0M613.5 130.8h0M571.3 133.6h0M549.0 136.3h0M563.9 136.3h0M576.3 136.0h0M565.7 138.9h0M581.4 138.9h0M566.9 141.5h0M570.1 141.4h0M576.5 141.8h0M522.0 144.4h0M550.1 144.3h0M571.9 143.9h0M586.9 144.2h0M612.8 144.4h0M613.4 147.1h0M488.1 149.8h0M546.9 149.6h0M584.0 149.8h0M502.6 151.8h0M567.1 152.5h0M466.7 155.1h0M575.0 155.0h0M581.3 155.1h0M618.2 155.1h0M529.8 157.8h0M617.1 157.6h0M525.1 160.7h0M604.0 162.9h0M507.1 165.8h0M531.3 166.2h0M468.0 168.7h0M495.9 168.4h0M523.9 168.4h0M622.8 168.7h0M475.9 171.3h0M605.8 171.0h0M499.2 174.0h0M591.8 173.6h0M467.9 179.3h0M607.9 179.2h0M475.8 181.7h0M587.8 181.9h0M593.5 182.5h0M604.9 184.7h0" stroke="#ac4d51"/><path d="M469.5 26.3h0M479.1 26.2h0M482.0 26.1h0M485.0 26.4h0M527.8 26.1h0M599.4 26.0h0M605.6 26.2h0M621.5 25.9h0M517.7 28.4h0M592.0 29.0h0M598.2 29.2h0M622.9 28.5h0M479.0 31.3h0M482.1 31.5h0M513.0 32.0h0M590.5 32.0h0M603.1 32.1h0M609.1 31.8h0M486.4 34.2h0M489.4 34.4h0M601.4 34.2h0M491.1 37.3h0M528.4 36.6h0M575.1 36.9h0M593.4 36.7h0M602.4 37.1h0M480.4 39.5h0M483.5 39.5h0M486.8 39.4h0M489.4 39.6h0M495.7 39.9h0M542.7 39.9h0M617.1 39.9h0M500.6 42.6h0M525.2 42.3h0M531.6 42.1h0M568.5 42.5h0M624.3 42.3h0M529.9 44.5h0M564.0 45.5h0M579.7 45.2h0M620.0 44.9h0M626.2 45.0h0M479.2 47.7h0M550.2 47.5h0M599.8 47.3h0M628.0 47.7h0M595.1 50.9h0M623.2 50.3h0M486.7 55.7h0M567.5 55.3h0M485.4 58.5h0M525.1 58.3h0M606.2 58.7h0M480.5 61.0h0M488.1 64.0h0M519.1 64.0h0M624.4 63.9h0M480.5 66.7h0M483.8 66.4h0M502.5 66.6h0M592.1 66.5h0M598.0 66.7h0M470.0 69.1h0M479.3 69.1h0M486.7 71.6h0M588.8 71.4h0M598.2 72.0h0M503.6 75.1h0M506.9 74.5h0M615.5 75.0h0M618.2 74.6h0M471.3 77.4h0M477.6 77.1h0M480.3 77.1h0M489.9 77.6h0M610.5 77.1h0M469.9 80.4h0M481.4 79.5h0M506.6 79.6h0M590.7 79.8h0M483.3 82.3h0M521.3 82.5h0M475.8 85.1h0M482.0 85.3h0M485.3 85.3h0M618.7 85.2h0M621.3 85.4h0M477.2 88.1h0M489.9 88.3h0M492.8 88.1h0M508.2 87.7h0M511.6 87.9h0M514.6 87.8h0M616.6 87.7h0M466.4 90.8h0M469.4 90.5h0M494.6 90.5h0M519.5 90.5h0M522.3 90.1h0M621.3 90.5h0M470.7 93.4h0M474.7 92.9h0M499.0 92.9h0M517.4 93.3h0M533.2 93.4h0M482.2 96.3h0M503.7 95.4h0M471.2 98.9h0M474.3 98.6h0M480.3 98.6h0M517.3 98.4h0M567.0 98.8h0M466.6 101.3h0M469.0 101.7h0M491.0 101.7h0M498.0 101.4h0M519.5 101.6h0M483.6 104.0h0M486.9 103.7h0M505.4 104.0h0M511.6 103.7h0M555.0 104.2h0M481.7 106.8h0M494.4 106.9h0M497.5 106.6h0M503.6 106.9h0M510.0 106.8h0M518.9 106.7h0M525.5 106.6h0M556.6 106.7h0M474.1 109.4h0M493.2 109.4h0M498.8 109.3h0M514.5 109.7h0M466.6 111.9h0M482.3 111.8h0M484.6 112.3h0M497.4 112.1h0M506.7 112.0h0M528.4 112.1h0M468.0 115.1h0M474.2 114.8h0M477.5 114.8h0M536.4 114.7h0M475.6 117.4h0M500.8 117.7h0M503.6 117.2h0M513.1 117.2h0M518.9 117.8h0M553.5 117.8h0M556.8 117.4h0M581.7 117.5h0M483.5 119.7h0M492.3 120.1h0M511.6 120.3h0M472.4 122.7h0M487.9 122.9h0M506.8 123.3h0M521.9 122.8h0M528.5 122.7h0M552.9 122.7h0M566.4 123.0h0M486.3 125.3h0M492.7 125.6h0M514.7 125.6h0M517.9 125.3h0M535.8 125.8h0M570.3 125.4h0M510.0 128.1h0M516.3 128.0h0M528.9 128.1h0M534.5 128.3h0M543.7 128.0h0M489.7 130.7h0M492.8 130.8h0M511.5 130.6h0M514.7 130.9h0M551.6 130.8h0M555.0 130.8h0M567.5 131.1h0M482.2 133.5h0M485.4 133.5h0M491.1 133.4h0M518.8 133.9h0M531.7 134.1h0M546.9 133.5h0M550.0 133.8h0M562.6 133.8h0M565.4 133.6h0M578.0 133.6h0M581.0 133.7h0M587.4 133.5h0M489.8 136.7h0M496.0 136.4h0M514.1 136.1h0M527.1 136.3h0M554.8 136.0h0M558.0 136.3h0M567.3 136.3h0M570.2 135.9h0M582.7 136.2h0M601.1 136.6h0M613.7 136.5h0M519.4 139.0h0M553.4 138.8h0M568.7 138.8h0M605.7 139.4h0M554.9 141.8h0M573.8 141.1h0M512.6 144.0h0M603.0 143.9h0M548.7 147.1h0M567.2 147.1h0M576.5 147.2h0M586.1 147.2h0M623.1 147.3h0M537.4 150.0h0M572.0 149.7h0M590.3 149.5h0M609.6 149.9h0M615.2 149.6h0M621.3 149.8h0M526.6 152.2h0M576.4 152.2h0M604.7 152.4h0M613.5 152.3h0M568.9 155.4h0M578.1 155.1h0M612.5 154.7h0M615.4 155.2h0M589.1 158.1h0M592.3 157.4h0M494.2 160.5h0M522.1 160.3h0M587.3 160.3h0M605.9 160.5h0M624.6 160.7h0M499.0 163.4h0M570.2 162.8h0M607.2 163.4h0M623.1 163.2h0M494.1 166.2h0M519.6 166.0h0M525.4 166.2h0M559.1 165.9h0M621.6 165.5h0M601.2 168.2h0M613.9 168.3h0M617.3 168.1h0M509.6 171.3h0M519.0 171.8h0M528.4 170.7h0M572.2 171.4h0M593.8 171.3h0M615.3 171.3h0M530.1 173.7h0M567.4 173.5h0M604.6 174.2h0M503.3 176.6h0M512.4 176.7h0M566.1 176.5h0M571.6 176.4h0M590.6 176.6h0M593.8 176.5h0M618.4 177.1h0M511.0 179.2h0M591.9 179.1h0M601.2 179.7h0M604.4 179.0h0M491.3 182.3h0M515.9 181.7h0M596.9 182.2h0M600.2 182.2h0M606.0 181.8h0M612.1 181.8h0M615.4 181.6h0M473.9 185.1h0M495.8 184.6h0M607.7 184.7h0M610.7 184.7h0" stroke="#b86155"/><path d="M487.9 26.4h0M494.5 26.0h0M519.6 25.9h0M590.2 26.0h0M593.6 26.5h0M602.8 26.1h0M474.5 28.7h0M477.3 28.9h0M588.5 28.7h0M604.3 28.8h0M610.6 28.8h0M488.1 31.2h0M506.9 31.6h0M587.4 31.5h0M596.4 31.8h0M599.8 31.5h0M618.2 31.5h0M483.6 34.0h0M520.6 34.1h0M611.0 33.6h0M484.9 36.9h0M531.6 37.4h0M584.2 37.1h0M596.4 37.0h0M605.8 37.3h0M615.0 37.2h0M474.2 39.7h0M492.8 39.9h0M530.2 39.8h0M573.5 39.8h0M583.0 39.4h0M585.8 39.2h0M598.4 39.4h0M607.4 39.8h0M613.3 40.1h0M466.4 41.8h0M484.6 42.4h0M522.7 42.1h0M578.0 42.6h0M581.2 42.2h0M612.4 42.4h0M486.7 45.4h0M536.5 45.1h0M482.1 47.8h0M484.7 48.2h0M578.2 48.3h0M618.0 47.6h0M621.2 47.2h0M486.7 50.2h0M489.8 51.0h0M602.0 50.2h0M604.4 49.9h0M488.2 53.3h0M568.7 53.0h0M575.3 52.8h0M610.5 56.0h0M476.3 58.7h0M488.3 58.5h0M624.6 58.1h0M490.3 61.4h0M514.5 61.1h0M536.0 60.7h0M617.0 61.2h0M626.6 60.9h0M485.4 63.8h0M491.7 63.7h0M503.9 63.6h0M512.9 63.3h0M599.6 63.7h0M627.6 63.8h0M513.3 68.8h0M593.5 69.2h0M499.1 71.7h0M573.8 71.7h0M585.4 71.8h0M613.8 71.8h0M619.8 71.9h0M475.9 74.8h0M487.9 74.2h0M491.0 74.6h0M510.6 74.9h0M627.8 74.1h0M499.4 77.3h0M592.2 77.0h0M595.0 77.0h0M619.6 77.5h0M473.0 79.7h0M479.0 79.6h0M485.2 80.4h0M487.7 79.5h0M490.8 79.7h0M513.0 79.3h0M602.8 79.9h0M489.5 82.7h0M492.9 82.6h0M502.3 82.4h0M508.1 82.7h0M511.3 82.6h0M514.7 82.6h0M517.2 82.3h0M551.8 82.5h0M594.9 82.7h0M626.3 82.1h0M466.6 85.8h0M497.5 85.7h0M510.0 85.7h0M515.6 84.9h0M468.1 87.9h0M470.9 88.0h0M474.3 88.0h0M505.0 88.1h0M517.4 88.0h0M526.8 87.9h0M482.2 90.7h0M488.2 90.9h0M547.1 90.5h0M550.1 90.1h0M612.3 90.4h0M624.6 90.5h0M476.9 93.5h0M483.3 93.4h0M492.9 93.6h0M501.7 93.5h0M505.4 93.6h0M523.5 93.3h0M622.9 93.1h0M466.7 96.2h0M469.5 96.1h0M476.2 96.4h0M485.3 96.5h0M491.3 96.8h0M494.4 95.5h0M506.9 95.9h0M519.2 95.4h0M522.1 95.5h0M615.4 96.0h0M467.7 98.7h0M483.5 98.0h0M495.9 98.7h0M508.3 98.3h0M520.8 98.7h0M523.6 98.8h0M530.3 97.8h0M488.2 101.2h0M515.6 101.7h0M522.1 101.1h0M525.1 101.3h0M584.1 101.9h0M480.6 104.1h0M492.7 104.5h0M495.6 103.9h0M542.4 104.2h0M570.4 104.0h0M466.8 106.5h0M476.0 106.6h0M479.0 107.2h0M488.4 106.8h0M500.7 106.7h0M516.2 106.7h0M624.4 106.7h0M477.2 109.4h0M502.1 109.3h0M517.9 109.4h0M523.5 109.4h0M533.0 109.5h0M551.6 109.7h0M554.8 109.2h0M573.2 109.3h0M469.7 112.4h0M472.6 112.4h0M475.6 112.1h0M479.4 112.0h0M494.4 112.0h0M500.2 111.9h0M559.8 112.3h0M480.0 115.1h0M486.8 114.7h0M492.5 114.7h0M496.2 115.3h0M526.3 115.1h0M551.9 114.3h0M555.2 114.9h0M558.6 114.6h0M472.8 117.4h0M482.1 117.6h0M491.2 117.4h0M494.5 117.7h0M547.2 118.1h0M562.4 117.3h0M569.1 117.6h0M572.0 117.4h0M575.6 117.6h0M578.3 117.1h0M468.2 120.4h0M486.7 120.2h0M495.9 120.2h0M530.4 120.2h0M542.5 119.4h0M548.8 120.1h0M551.8 120.0h0M573.4 120.3h0M485.3 122.8h0M494.0 122.9h0M513.0 123.1h0M540.9 122.7h0M559.1 122.8h0M593.5 122.8h0M609.5 123.3h0M489.8 125.5h0M502.1 125.7h0M505.3 125.2h0M526.7 125.3h0M530.1 125.0h0M533.2 125.6h0M545.6 125.2h0M558.1 125.8h0M561.2 125.5h0M564.2 125.3h0M577.1 125.5h0M592.5 125.8h0M607.8 125.2h0M503.7 128.4h0M519.8 127.7h0M531.5 128.4h0M540.4 128.6h0M550.1 127.9h0M553.3 128.3h0M559.7 128.1h0M562.5 128.3h0M565.7 128.3h0M580.8 128.5h0M501.9 131.0h0M505.0 130.9h0M523.4 130.6h0M527.1 130.6h0M564.0 131.3h0M582.7 130.5h0M591.6 130.5h0M488.5 133.2h0M494.1 133.9h0M513.2 133.1h0M534.5 133.6h0M540.5 134.0h0M556.3 134.1h0M568.9 133.3h0M602.7 133.8h0M471.3 135.9h0M517.7 136.4h0M520.9 136.1h0M533.4 136.3h0M551.8 136.4h0M573.5 136.5h0M580.1 135.8h0M592.2 136.5h0M610.7 135.9h0M509.8 138.8h0M578.2 138.9h0M603.2 138.8h0M612.0 138.1h0M618.3 138.6h0M486.6 141.6h0M508.3 141.3h0M511.9 141.4h0M514.4 141.4h0M524.1 141.3h0M532.9 141.7h0M551.9 142.0h0M557.7 141.4h0M607.2 141.4h0M620.2 141.6h0M485.2 144.6h0M525.4 144.4h0M553.2 144.7h0M562.2 144.4h0M575.2 144.1h0M590.6 144.4h0M606.0 144.1h0M627.9 144.1h0M486.5 146.6h0M536.3 146.4h0M542.0 146.9h0M561.3 147.0h0M573.9 147.1h0M579.6 147.3h0M610.4 146.8h0M617.1 147.1h0M620.1 147.0h0M506.8 149.4h0M512.7 149.9h0M516.0 149.7h0M534.8 149.4h0M559.2 149.7h0M563.0 149.5h0M581.3 149.3h0M602.8 150.0h0M606.4 149.5h0M624.8 150.0h0M486.9 152.4h0M508.2 152.3h0M511.5 152.4h0M542.3 152.1h0M554.7 152.2h0M563.8 152.8h0M570.1 152.3h0M507.0 155.2h0M512.5 154.9h0M565.4 155.1h0M596.5 154.8h0M605.8 155.0h0M486.5 157.9h0M527.0 158.1h0M535.6 158.0h0M558.0 157.9h0M561.0 158.0h0M564.3 157.5h0M580.0 157.8h0M582.5 158.0h0M601.8 157.4h0M604.3 157.5h0M613.6 158.0h0M619.9 157.9h0M623.0 157.6h0M497.4 160.4h0M568.5 160.9h0M571.9 159.9h0M574.8 160.6h0M578.4 160.0h0M581.1 160.5h0M609.3 159.9h0M615.2 160.4h0M628.0 160.4h0M492.8 162.7h0M496.4 163.3h0M521.7 163.1h0M586.0 163.0h0M595.1 163.4h0M601.0 163.5h0M611.3 163.0h0M613.4 162.7h0M625.9 163.2h0M565.5 165.7h0M575.3 165.8h0M581.1 165.8h0M596.5 165.9h0M602.7 166.0h0M612.5 165.9h0M615.1 165.9h0M618.5 165.8h0M483.5 168.3h0M501.5 168.4h0M517.4 168.9h0M557.8 168.1h0M570.7 168.7h0M598.5 168.2h0M513.3 171.4h0M522.2 171.3h0M531.6 171.5h0M560.0 171.2h0M596.3 171.4h0M602.8 171.3h0M618.4 171.2h0M492.8 174.1h0M517.7 173.9h0M564.4 174.0h0M582.8 174.2h0M594.8 174.0h0M610.7 173.6h0M619.2 174.1h0M478.4 176.6h0M624.5 176.5h0M499.3 179.2h0M505.3 179.3h0M514.6 178.9h0M542.8 179.3h0M466.4 182.0h0M602.6 181.7h0M480.5 184.5h0M520.7 184.4h0M591.7 184.4h0M613.6 184.6h0" stroke="#c0755e"/><path d="M475.9 26.6h0M513.0 25.8h0M525.5 26.3h0M584.3 25.9h0M618.3 26.1h0M470.8 28.8h0M486.8 29.1h0M511.1 29.2h0M607.5 28.8h0M626.4 28.8h0M470.3 31.4h0M516.1 31.4h0M581.5 31.2h0M593.6 31.6h0M606.0 31.2h0M468.6 34.4h0M517.9 34.2h0M545.5 34.4h0M576.2 33.9h0M598.0 34.9h0M607.4 33.7h0M466.7 36.9h0M478.8 37.1h0M512.6 36.8h0M563.0 36.8h0M568.7 37.1h0M580.8 37.0h0M612.9 37.2h0M499.0 39.7h0M555.0 39.2h0M488.2 42.8h0M491.1 42.7h0M507.1 42.0h0M516.4 42.2h0M571.5 42.6h0M587.2 42.4h0M600.1 42.1h0M477.6 45.3h0M483.7 45.1h0M493.3 45.0h0M495.9 44.6h0M520.8 44.9h0M542.4 45.4h0M573.1 45.1h0M588.9 44.7h0M592.1 45.1h0M601.3 45.4h0M610.7 44.8h0M616.7 44.8h0M528.6 47.8h0M571.7 47.6h0M609.0 47.5h0M615.5 47.7h0M480.2 50.2h0M483.3 50.6h0M492.8 50.4h0M514.8 50.4h0M520.4 50.5h0M567.5 50.7h0M579.8 50.6h0M585.8 50.5h0M613.8 50.3h0M619.5 50.4h0M478.7 53.4h0M512.8 52.7h0M525.4 52.8h0M489.7 56.0h0M511.7 56.0h0M514.9 55.8h0M466.6 58.4h0M506.1 58.4h0M509.7 58.3h0M587.3 58.3h0M467.9 61.5h0M474.0 61.4h0M483.9 60.7h0M496.1 61.2h0M539.1 60.8h0M598.2 61.1h0M623.1 61.0h0M509.7 63.5h0M615.4 63.7h0M493.1 66.2h0M495.7 66.0h0M505.3 66.4h0M545.0 66.5h0M560.7 66.4h0M595.2 66.4h0M601.2 66.5h0M616.7 66.3h0M485.3 69.3h0M488.3 69.0h0M494.4 69.2h0M515.6 68.6h0M534.3 69.4h0M590.4 69.4h0M597.3 69.4h0M599.7 68.8h0M608.9 68.7h0M624.5 69.5h0M627.8 69.0h0M470.9 72.1h0M474.2 71.8h0M489.9 71.7h0M493.1 71.9h0M495.8 71.8h0M514.7 72.0h0M592.1 71.7h0M595.3 71.7h0M601.7 71.7h0M466.4 75.1h0M478.7 74.8h0M485.9 74.3h0M494.4 74.7h0M497.2 74.3h0M500.5 74.8h0M522.1 74.5h0M596.5 74.6h0M621.4 74.5h0M474.0 77.1h0M492.9 77.6h0M502.6 77.1h0M530.1 77.1h0M606.9 77.1h0M466.5 80.1h0M509.6 80.2h0M516.4 80.0h0M615.3 79.9h0M618.1 80.2h0M624.9 79.8h0M486.5 82.0h0M613.4 82.8h0M488.2 85.1h0M494.3 85.4h0M513.2 85.2h0M540.4 85.3h0M549.7 85.3h0M624.6 85.4h0M627.7 85.0h0M479.9 88.2h0M486.5 87.7h0M495.9 88.0h0M499.4 88.1h0M520.3 88.2h0M611.1 87.9h0M619.7 87.8h0M485.1 90.3h0M497.8 90.6h0M503.6 90.9h0M509.8 90.5h0M516.2 90.1h0M608.9 90.4h0M539.4 93.4h0M617.1 92.7h0M479.3 96.2h0M497.4 95.7h0M500.4 95.7h0M516.1 95.7h0M531.5 96.1h0M612.6 96.0h0M486.6 98.5h0M499.4 99.1h0M570.2 98.5h0M623.2 98.7h0M500.4 101.4h0M503.4 101.3h0M506.7 101.4h0M528.6 101.5h0M531.8 101.3h0M543.7 101.7h0M603.0 101.8h0M477.4 103.7h0M508.7 104.5h0M520.5 104.3h0M523.5 104.2h0M527.0 104.3h0M567.4 104.1h0M623.0 104.1h0M469.2 106.7h0M472.8 106.5h0M528.4 107.2h0M531.6 106.7h0M575.2 106.8h0M621.4 106.2h0M471.2 109.3h0M526.8 109.6h0M548.3 109.2h0M516.0 112.1h0M522.8 112.4h0M525.7 111.9h0M517.7 114.7h0M524.1 114.7h0M567.5 114.6h0M525.7 117.0h0M528.2 117.7h0M534.8 118.0h0M543.6 117.5h0M590.6 118.0h0M480.3 120.2h0M489.5 120.0h0M508.3 120.8h0M523.7 120.2h0M558.1 120.3h0M585.9 120.2h0M607.9 120.0h0M610.9 120.4h0M481.3 123.1h0M525.5 122.7h0M537.5 123.0h0M584.3 122.8h0M624.7 123.0h0M467.9 125.3h0M521.1 125.4h0M524.0 125.6h0M539.2 125.5h0M552.1 125.8h0M579.7 125.2h0M582.9 125.3h0M588.7 125.3h0M610.8 125.8h0M626.1 125.2h0M537.7 128.2h0M546.5 127.9h0M575.0 128.1h0M606.1 128.2h0M609.0 128.2h0M518.0 131.0h0M538.9 130.8h0M543.2 131.0h0M545.9 130.8h0M548.6 131.0h0M626.3 130.6h0M500.2 133.6h0M522.0 133.3h0M528.9 133.4h0M605.7 133.8h0M477.7 136.1h0M511.4 136.4h0M523.8 136.2h0M539.0 136.5h0M542.3 136.5h0M472.5 139.0h0M488.1 139.1h0M491.3 138.8h0M516.2 138.9h0M547.1 138.8h0M559.9 138.8h0M562.6 138.8h0M575.2 139.1h0M621.3 139.1h0M483.9 141.3h0M520.7 141.4h0M526.9 141.7h0M529.8 141.6h0M564.3 141.8h0M586.3 141.8h0M613.8 141.8h0M616.9 141.7h0M625.9 141.3h0M566.1 144.5h0M568.8 144.7h0M578.4 144.5h0M580.9 144.1h0M584.3 144.3h0M615.0 143.9h0M514.3 147.0h0M529.9 146.5h0M545.7 146.6h0M551.9 146.8h0M607.4 147.0h0M469.9 149.3h0M485.2 149.7h0M509.8 149.5h0M518.5 149.9h0M525.7 149.6h0M543.6 149.7h0M566.3 149.9h0M578.5 149.8h0M612.2 150.0h0M628.1 150.0h0M495.8 152.2h0M504.9 152.6h0M517.8 152.1h0M579.3 152.5h0M623.6 152.4h0M485.0 154.6h0M497.5 155.3h0M500.3 154.9h0M509.6 155.4h0M516.6 154.8h0M535.0 155.3h0M562.7 154.8h0M572.0 155.4h0M584.1 155.5h0M599.8 155.0h0M624.9 154.9h0M627.7 155.3h0M495.8 157.5h0M508.2 157.6h0M524.0 157.9h0M555.1 157.7h0M567.3 157.4h0M610.3 157.7h0M476.3 160.2h0M485.1 160.3h0M488.3 160.3h0M503.6 160.9h0M534.6 160.4h0M537.5 160.5h0M584.7 160.7h0M618.4 160.5h0M508.7 163.3h0M511.8 162.9h0M514.8 163.2h0M564.2 162.9h0M567.1 163.5h0M577.1 163.2h0M579.8 163.1h0M598.2 163.5h0M616.7 163.1h0M491.0 165.8h0M497.7 165.9h0M501.0 165.4h0M512.7 165.9h0M528.5 165.7h0M556.4 165.6h0M562.5 165.9h0M572.3 166.1h0M593.2 166.0h0M606.4 166.0h0M624.6 165.3h0M628.0 165.4h0M486.3 168.4h0M499.0 168.3h0M505.0 168.7h0M533.1 168.1h0M576.1 168.3h0M588.7 168.9h0M591.9 168.5h0M595.4 168.5h0M607.7 168.0h0M626.2 168.3h0M491.7 170.9h0M497.2 171.7h0M500.6 171.6h0M503.7 171.0h0M525.8 170.7h0M569.0 171.5h0M609.2 171.3h0M621.4 171.3h0M624.5 171.2h0M628.3 171.5h0M496.2 173.9h0M505.4 173.6h0M508.5 174.1h0M533.2 174.1h0M573.1 173.6h0M579.4 173.5h0M598.3 173.5h0M607.7 174.2h0M617.1 173.6h0M622.8 173.9h0M626.6 173.9h0M466.2 176.1h0M472.4 176.7h0M494.4 176.7h0M500.7 176.1h0M506.9 176.6h0M515.9 176.4h0M584.5 176.4h0M600.2 176.3h0M603.0 176.4h0M609.5 176.5h0M615.9 176.6h0M621.3 176.2h0M470.9 179.1h0M474.6 178.5h0M477.6 179.3h0M489.6 179.2h0M495.7 179.3h0M508.1 179.1h0M517.4 179.1h0M524.0 179.3h0M533.5 179.3h0M539.3 179.5h0M570.2 179.2h0M589.4 179.2h0M598.1 179.2h0M611.0 179.1h0M613.5 179.0h0M472.4 181.7h0M493.8 181.6h0M506.9 182.0h0M522.5 182.1h0M528.0 182.0h0M547.5 181.7h0M621.8 182.2h0M627.5 182.0h0M467.8 184.8h0M471.2 184.8h0M502.6 185.0h0M508.4 184.2h0M595.1 184.9h0M598.5 184.7h0M601.4 184.6h0M616.2 184.9h0" stroke="#c68a6d"/><path d="M466.5 26.3h0M510.4 26.3h0M516.0 26.1h0M537.6 26.3h0M546.7 25.9h0M553.7 26.6h0M575.4 26.2h0M596.9 26.1h0M608.9 26.0h0M612.0 26.0h0M468.2 28.8h0M480.4 29.0h0M489.6 28.9h0M499.5 28.8h0M508.0 28.9h0M561.0 29.1h0M600.9 28.5h0M613.8 29.1h0M472.5 31.5h0M494.2 31.3h0M504.1 31.5h0M510.5 31.4h0M525.3 31.7h0M528.7 31.9h0M575.1 31.9h0M470.8 34.1h0M477.4 34.1h0M480.6 34.3h0M511.7 34.2h0M523.8 34.6h0M539.9 34.6h0M558.3 34.3h0M560.9 34.1h0M585.8 34.3h0M591.9 34.3h0M595.1 34.1h0M469.8 36.6h0M472.6 37.2h0M500.3 37.1h0M503.5 37.0h0M519.3 37.0h0M525.3 36.9h0M559.5 37.4h0M590.4 36.8h0M618.6 37.3h0M621.8 37.3h0M624.8 37.0h0M511.4 39.7h0M536.4 39.7h0M539.3 39.5h0M545.8 39.8h0M576.6 39.5h0M589.3 39.7h0M601.4 39.7h0M620.2 39.8h0M541.6 42.3h0M584.3 42.3h0M590.4 42.0h0M608.9 42.3h0M615.4 41.8h0M618.5 42.6h0M489.5 45.3h0M502.5 44.8h0M527.4 44.5h0M533.4 45.3h0M570.6 44.9h0M576.2 44.8h0M595.4 44.7h0M598.5 45.2h0M607.5 44.8h0M613.2 45.1h0M470.0 47.4h0M488.6 47.2h0M534.8 47.5h0M541.4 47.7h0M590.2 47.6h0M594.0 47.7h0M596.6 47.4h0M612.2 47.8h0M471.3 49.8h0M499.1 50.2h0M527.2 50.3h0M530.1 50.0h0M536.1 50.4h0M582.7 50.1h0M589.0 50.0h0M607.4 50.0h0M625.9 50.1h0M482.3 53.5h0M522.1 53.3h0M540.9 53.1h0M572.0 52.8h0M590.7 53.3h0M621.2 52.8h0M624.6 53.4h0M542.6 56.2h0M594.7 55.2h0M617.4 55.9h0M481.7 58.3h0M503.8 58.7h0M522.0 58.9h0M550.2 57.9h0M615.2 58.6h0M492.4 60.9h0M499.1 61.3h0M505.1 61.1h0M517.8 61.0h0M524.0 60.9h0M548.5 60.6h0M570.5 61.3h0M467.1 63.9h0M469.7 63.2h0M475.5 63.7h0M494.3 64.1h0M500.5 63.5h0M506.7 63.9h0M516.2 64.2h0M544.0 63.9h0M593.5 63.9h0M477.3 66.3h0M499.2 66.2h0M529.8 66.5h0M536.3 66.4h0M491.5 69.6h0M497.6 68.7h0M503.8 68.9h0M506.5 69.2h0M510.2 69.3h0M528.9 69.4h0M581.3 69.2h0M602.5 69.0h0M618.0 69.0h0M477.2 72.2h0M508.1 71.8h0M545.0 72.0h0M554.9 71.4h0M563.8 72.1h0M616.7 72.1h0M469.4 74.5h0M481.9 74.6h0M528.6 74.4h0M534.6 75.0h0M587.4 74.0h0M602.6 74.4h0M609.2 74.3h0M612.4 74.5h0M624.5 74.4h0M511.8 76.8h0M524.0 77.3h0M545.8 77.1h0M613.3 77.0h0M503.6 80.1h0M519.1 79.6h0M522.3 80.3h0M525.3 80.3h0M537.8 80.2h0M547.2 79.7h0M562.9 79.8h0M499.3 82.7h0M616.9 82.4h0M620.1 82.5h0M500.4 85.2h0M528.9 85.6h0M531.5 84.8h0M534.7 85.4h0M544.3 85.4h0M574.8 85.3h0M578.1 84.9h0M608.9 85.0h0M532.9 88.4h0M586.0 88.0h0M604.5 87.9h0M607.5 88.1h0M472.4 90.6h0M479.5 90.8h0M491.1 90.3h0M500.7 90.7h0M513.2 91.0h0M528.3 90.6h0M540.9 90.7h0M587.0 90.8h0M603.3 91.0h0M618.7 90.9h0M514.1 92.7h0M564.5 93.6h0M595.2 93.2h0M607.0 93.1h0M472.3 96.1h0M509.7 95.9h0M513.2 95.7h0M525.4 96.1h0M553.5 96.0h0M569.0 96.0h0M575.4 95.8h0M587.6 96.8h0M593.5 96.3h0M477.0 98.9h0M501.9 98.6h0M527.2 99.3h0M536.8 98.8h0M582.6 98.3h0M585.6 98.6h0M601.5 98.5h0M607.3 98.7h0M625.8 98.6h0M479.1 101.4h0M534.7 101.7h0M537.6 101.2h0M547.5 101.2h0M554.0 101.4h0M575.1 101.3h0M577.7 101.5h0M587.1 101.1h0M514.5 104.2h0M549.3 103.9h0M561.1 103.8h0M601.7 104.3h0M611.0 104.5h0M568.6 106.7h0M581.3 107.0h0M584.6 107.1h0M615.2 106.7h0M489.1 109.1h0M565.3 112.0h0M571.9 111.8h0M533.5 114.9h0M539.3 114.9h0M542.5 114.3h0M610.2 114.7h0M466.1 117.6h0M470.0 117.9h0M540.7 117.6h0M559.3 117.6h0M474.2 120.3h0M477.0 119.9h0M521.1 120.2h0M555.1 120.0h0M560.7 120.2h0M567.4 120.3h0M570.5 120.1h0M601.3 120.3h0M626.0 120.3h0M490.8 122.2h0M531.6 122.9h0M543.6 122.8h0M562.7 123.2h0M591.1 122.8h0M603.4 122.7h0M606.3 122.7h0M615.4 122.7h0M627.7 123.1h0M471.3 125.7h0M473.9 125.6h0M480.4 125.9h0M484.0 125.4h0M548.5 125.4h0M594.7 125.6h0M613.5 125.8h0M623.1 125.5h0M469.9 128.1h0M472.0 128.4h0M488.6 128.2h0M522.0 127.5h0M525.1 127.7h0M556.6 128.4h0M593.7 128.3h0M603.2 128.5h0M615.3 128.4h0M474.8 131.5h0M477.6 131.0h0M480.4 131.2h0M520.5 130.7h0M529.9 130.6h0M536.3 131.1h0M595.7 131.2h0M607.4 131.0h0M610.9 130.5h0M622.5 130.7h0M466.7 133.5h0M475.9 133.9h0M503.8 134.0h0M538.0 133.4h0M544.0 133.7h0M559.3 133.7h0M574.7 133.8h0M584.2 133.6h0M591.1 133.5h0M612.3 133.2h0M624.8 133.3h0M468.0 136.5h0M483.8 136.3h0M529.6 136.0h0M595.0 136.6h0M603.8 136.4h0M616.8 136.3h0M622.6 136.1h0M469.6 139.3h0M479.0 139.1h0M494.4 139.2h0M543.8 138.7h0M550.3 139.0h0M556.4 138.9h0M584.7 138.8h0M590.1 139.0h0M596.9 139.5h0M609.3 139.0h0M615.3 138.7h0M468.4 141.7h0M470.7 141.9h0M474.2 141.6h0M505.2 141.4h0M518.0 141.6h0M545.2 141.6h0M549.1 141.6h0M579.7 141.5h0M589.2 141.3h0M592.0 142.0h0M494.2 145.1h0M503.4 144.3h0M506.9 143.7h0M516.3 144.1h0M528.5 144.3h0M531.4 144.4h0M540.9 143.8h0M547.1 144.2h0M618.2 144.3h0M477.8 146.8h0M483.3 146.8h0M492.6 147.3h0M505.3 146.8h0M508.5 146.8h0M517.6 147.0h0M564.4 147.2h0M501.1 149.8h0M531.6 149.6h0M541.0 149.4h0M568.5 149.8h0M468.3 152.1h0M477.2 152.4h0M480.4 152.5h0M483.7 152.4h0M545.2 152.5h0M561.1 152.2h0M607.8 152.1h0M617.3 152.0h0M476.0 154.9h0M488.2 155.3h0M491.4 155.3h0M503.8 155.1h0M537.7 154.9h0M547.3 155.0h0M553.7 154.8h0M608.7 155.0h0M477.1 157.7h0M480.0 157.8h0M483.7 157.6h0M499.2 157.8h0M505.1 157.6h0M533.1 157.6h0M542.6 157.9h0M548.5 157.5h0M570.2 157.8h0M607.2 157.3h0M626.6 158.2h0M513.4 159.9h0M531.4 160.5h0M540.5 160.8h0M553.5 160.4h0M556.3 160.8h0M562.7 160.6h0M565.8 161.1h0M590.1 160.2h0M593.5 160.7h0M612.1 160.5h0M621.5 160.3h0M477.1 162.7h0M501.7 162.7h0M526.6 163.0h0M536.4 163.1h0M539.0 163.1h0M551.6 162.9h0M561.3 163.0h0M592.2 163.4h0M469.8 165.9h0M479.0 165.7h0M488.3 165.9h0M503.2 165.8h0M509.6 165.8h0M534.9 166.0h0M541.4 165.9h0M569.0 165.7h0M584.2 166.0h0M587.4 165.7h0M590.4 165.9h0M599.6 165.7h0M477.3 168.8h0M489.6 168.5h0M492.5 168.2h0M508.6 168.9h0M511.3 168.7h0M527.4 169.0h0M530.0 168.2h0M539.0 168.2h0M545.7 168.0h0M563.7 168.5h0M567.4 168.5h0M619.8 168.7h0M469.1 171.1h0M482.0 170.8h0M494.3 171.0h0M506.8 171.4h0M562.1 171.5h0M565.6 171.0h0M578.0 171.1h0M581.3 171.0h0M590.0 171.3h0M599.9 171.4h0M502.3 174.3h0M511.4 174.1h0M523.8 173.7h0M527.5 173.7h0M561.3 174.0h0M576.3 173.6h0M585.7 173.6h0M613.6 174.2h0M475.7 176.7h0M491.4 176.5h0M497.8 176.7h0M528.4 176.6h0M531.5 176.2h0M534.9 176.2h0M537.4 176.5h0M544.3 176.1h0M575.3 176.4h0M612.3 176.5h0M627.6 176.8h0M492.9 179.1h0M501.8 179.1h0M526.6 179.3h0M573.8 178.6h0M594.8 179.0h0M617.1 178.9h0M622.8 179.2h0M470.0 181.3h0M478.9 181.9h0M497.5 181.8h0M501.0 182.3h0M503.3 181.9h0M512.9 182.0h0M531.5 182.0h0M584.3 181.8h0M618.3 182.1h0M477.2 184.8h0M499.3 184.6h0M505.4 184.3h0M517.8 183.8h0M526.5 184.9h0M567.4 184.6h0M573.7 185.1h0M579.8 184.8h0M582.6 184.4h0M589.0 184.7h0" stroke="#cb9f83"/><path d="M503.8 26.0h0M506.7 26.1h0M522.4 26.5h0M540.8 26.5h0M568.9 26.4h0M581.1 26.3h0M615.1 26.1h0M624.6 26.3h0M627.7 25.8h0M493.2 29.0h0M502.3 29.2h0M505.3 29.0h0M514.1 29.5h0M520.9 28.7h0M530.1 29.2h0M549.4 28.7h0M551.8 29.0h0M555.0 29.4h0M558.0 28.6h0M619.7 29.2h0M466.6 31.3h0M485.1 31.5h0M501.1 31.6h0M519.3 31.9h0M544.0 31.8h0M566.1 31.2h0M568.9 31.6h0M612.2 31.6h0M615.7 31.7h0M624.4 31.8h0M627.9 31.8h0M499.1 34.2h0M505.2 34.6h0M508.6 33.8h0M514.8 34.5h0M527.0 34.1h0M529.4 34.2h0M582.2 34.0h0M588.9 34.0h0M626.6 34.3h0M534.6 36.7h0M540.6 36.8h0M578.0 36.8h0M508.2 39.6h0M514.7 39.6h0M520.6 39.5h0M523.8 39.6h0M532.8 39.6h0M548.3 39.7h0M558.3 39.6h0M567.4 39.7h0M592.3 39.8h0M604.8 39.4h0M622.9 39.4h0M469.3 42.4h0M497.6 42.4h0M504.1 42.2h0M519.2 42.4h0M547.3 42.3h0M550.3 42.3h0M556.1 42.7h0M575.5 42.3h0M605.7 42.4h0M511.3 45.0h0M514.1 45.0h0M524.1 44.9h0M561.1 45.7h0M586.0 44.7h0M476.1 47.9h0M494.6 47.5h0M497.5 47.5h0M500.5 47.8h0M531.7 47.4h0M537.4 47.5h0M556.4 47.4h0M569.0 47.3h0M575.1 47.7h0M496.0 50.4h0M502.1 51.3h0M517.6 50.6h0M523.9 50.1h0M539.3 50.3h0M545.4 50.5h0M548.5 50.5h0M598.7 50.3h0M610.3 50.1h0M466.7 52.9h0M484.8 52.8h0M491.6 53.1h0M497.2 53.1h0M506.8 53.4h0M546.9 53.1h0M550.1 53.1h0M597.1 53.0h0M600.3 53.1h0M611.9 53.4h0M618.6 53.2h0M483.5 55.8h0M495.9 55.8h0M498.9 56.0h0M502.3 55.6h0M527.3 55.6h0M533.3 55.7h0M536.6 56.2h0M557.6 55.4h0M564.3 55.5h0M588.9 55.7h0M604.5 55.8h0M607.7 55.8h0M622.8 55.5h0M626.2 55.8h0M479.6 58.4h0M500.6 58.1h0M519.1 58.5h0M531.7 58.7h0M540.8 58.6h0M575.3 58.3h0M593.2 58.5h0M599.8 58.1h0M608.9 58.5h0M612.1 58.6h0M628.0 58.4h0M471.2 60.9h0M477.3 61.1h0M486.6 61.2h0M502.0 61.2h0M508.3 60.9h0M520.8 60.9h0M579.8 61.1h0M588.9 61.1h0M595.5 61.2h0M607.6 60.8h0M619.9 61.0h0M479.2 63.4h0M497.8 63.6h0M531.3 64.1h0M534.4 63.8h0M578.3 63.8h0M617.8 63.8h0M621.4 64.0h0M468.4 66.5h0M470.8 66.2h0M486.1 66.8h0M520.7 66.7h0M567.8 66.2h0M611.1 66.3h0M620.4 66.2h0M625.8 66.0h0M473.0 68.7h0M481.9 69.3h0M522.3 69.3h0M525.6 68.8h0M544.3 69.3h0M547.1 69.3h0M556.2 69.3h0M577.8 69.2h0M606.4 68.8h0M621.6 69.1h0M468.1 71.8h0M511.4 71.8h0M517.9 71.8h0M520.8 72.3h0M527.2 71.8h0M532.9 72.0h0M472.7 74.7h0M516.6 74.1h0M519.0 74.5h0M532.0 75.0h0M568.9 74.4h0M584.5 74.4h0M536.4 77.1h0M548.5 77.4h0M570.2 77.3h0M576.8 76.8h0M582.7 77.4h0M475.6 79.8h0M494.7 80.4h0M500.4 79.8h0M528.6 79.9h0M543.9 79.9h0M553.5 80.3h0M584.1 79.9h0M593.7 80.0h0M600.1 79.9h0M612.5 80.1h0M627.9 80.0h0M474.2 82.3h0M477.1 82.5h0M504.7 82.4h0M533.2 82.5h0M538.9 82.8h0M542.7 82.3h0M472.2 85.3h0M522.2 85.4h0M537.7 85.2h0M559.5 85.0h0M581.2 85.1h0M590.7 85.7h0M606.2 85.1h0M612.1 85.0h0M615.6 85.2h0M530.4 88.2h0M536.0 88.2h0M539.1 88.1h0M542.5 87.9h0M551.9 87.7h0M561.0 88.0h0M595.0 88.1h0M613.3 88.6h0M626.0 87.8h0M553.2 91.0h0M556.6 91.0h0M559.4 90.9h0M571.8 90.5h0M578.2 90.7h0M580.9 90.2h0M593.5 90.8h0M615.0 90.5h0M627.7 90.7h0M520.9 93.4h0M527.2 93.2h0M548.7 93.3h0M551.6 93.2h0M570.9 93.5h0M601.3 93.0h0M610.5 93.0h0M620.2 93.0h0M600.2 95.9h0M621.9 95.9h0M624.4 96.1h0M539.6 98.7h0M545.7 99.0h0M554.5 98.8h0M613.5 98.8h0M616.9 98.4h0M541.4 101.0h0M571.9 101.1h0M581.0 101.4h0M593.3 101.2h0M605.5 101.1h0M615.2 101.4h0M624.8 101.8h0M627.4 101.2h0M529.3 104.0h0M532.7 104.2h0M536.1 104.2h0M564.2 104.0h0M582.5 104.0h0M585.7 103.6h0M619.8 104.5h0M541.0 106.7h0M544.2 106.6h0M547.1 106.7h0M559.3 107.0h0M565.7 106.6h0M590.5 106.9h0M529.8 109.2h0M542.2 109.4h0M545.9 109.6h0M570.5 109.7h0M588.8 109.2h0M591.4 109.5h0M610.7 109.7h0M622.7 109.8h0M531.8 112.1h0M541.0 112.0h0M543.9 112.3h0M556.4 112.2h0M590.5 112.0h0M599.4 112.0h0M483.4 115.1h0M570.7 114.8h0M607.2 114.7h0M613.4 114.5h0M626.2 115.1h0M478.8 117.5h0M531.7 118.0h0M566.0 117.5h0M615.1 117.1h0M471.5 120.5h0M576.4 120.1h0M580.0 119.8h0M613.6 120.4h0M616.9 120.2h0M619.8 120.3h0M476.2 122.9h0M547.4 122.6h0M581.2 122.6h0M599.7 122.9h0M612.3 122.7h0M604.6 125.5h0M479.1 127.9h0M481.9 128.7h0M491.3 128.0h0M587.1 128.2h0M618.6 128.1h0M624.7 128.2h0M627.9 128.2h0M486.6 130.5h0M573.6 131.0h0M585.8 130.9h0M469.4 133.4h0M472.7 133.4h0M525.4 133.6h0M552.9 133.7h0M593.7 133.5h0M599.6 133.8h0M618.3 133.5h0M621.5 133.5h0M487.1 136.0h0M493.0 136.1h0M535.9 136.4h0M585.9 136.3h0M485.3 138.9h0M503.7 138.5h0M512.9 139.3h0M528.0 138.3h0M531.5 139.2h0M538.2 139.4h0M540.9 139.3h0M572.3 139.4h0M593.5 138.7h0M599.3 139.4h0M624.0 138.8h0M627.8 138.7h0M477.1 140.9h0M496.1 141.9h0M542.6 141.7h0M561.2 141.5h0M595.1 141.5h0M623.3 141.2h0M473.1 144.0h0M475.6 144.5h0M478.6 144.0h0M500.8 144.3h0M556.4 144.5h0M600.2 144.0h0M621.4 144.7h0M624.7 144.6h0M467.7 146.9h0M473.9 146.5h0M480.5 147.1h0M511.4 147.3h0M520.9 146.9h0M523.7 147.2h0M539.4 147.0h0M626.1 147.5h0M472.6 150.1h0M479.2 149.9h0M494.2 149.8h0M489.2 152.6h0M498.6 152.4h0M514.2 151.9h0M523.7 152.4h0M530.4 152.4h0M539.7 152.1h0M548.8 152.7h0M586.0 152.6h0M626.0 152.4h0M469.8 155.6h0M472.4 155.5h0M494.1 154.5h0M528.5 154.9h0M559.4 154.8h0M590.7 154.6h0M473.9 157.3h0M502.1 158.0h0M511.2 158.0h0M515.1 157.8h0M539.5 157.7h0M551.7 158.0h0M598.5 157.8h0M466.5 160.8h0M478.7 161.0h0M481.9 160.2h0M501.0 160.4h0M509.9 160.5h0M544.0 159.9h0M550.3 160.5h0M599.8 160.4h0M468.2 163.3h0M480.9 163.2h0M483.3 162.8h0M486.7 163.1h0M505.2 163.3h0M517.7 162.7h0M548.4 163.4h0M573.0 162.9h0M583.0 162.9h0M588.7 163.1h0M516.4 165.8h0M537.9 166.1h0M550.6 165.7h0M552.9 166.0h0M578.4 165.4h0M608.8 166.0h0M582.9 168.7h0M586.0 168.9h0M472.4 171.2h0M478.8 171.3h0M485.2 171.4h0M540.8 171.2h0M544.3 171.3h0M553.0 170.7h0M584.3 171.1h0M587.6 171.0h0M480.7 174.2h0M483.6 174.2h0M486.5 173.9h0M542.5 173.8h0M549.1 173.9h0M555.0 174.1h0M600.9 174.4h0M469.7 177.2h0M485.3 176.5h0M519.0 176.2h0M522.2 176.5h0M540.8 176.2h0M549.8 176.3h0M559.9 176.5h0M562.6 176.7h0M568.7 176.4h0M578.1 176.4h0M581.6 176.7h0M605.9 176.7h0M480.5 179.4h0M529.8 179.7h0M567.0 178.8h0M576.9 179.0h0M626.1 179.5h0M481.9 181.9h0M488.3 182.3h0M509.9 182.2h0M525.3 182.1h0M537.8 182.1h0M553.2 181.8h0M572.0 182.0h0M581.5 181.3h0M590.4 182.2h0M483.4 184.6h0M486.7 184.5h0M490.2 184.6h0M511.5 184.5h0M529.8 184.7h0M533.6 184.4h0M536.4 184.9h0M545.2 184.7h0M554.8 184.9h0M560.9 184.4h0M570.4 184.6h0M585.4 184.6h0M619.8 184.9h0M623.4 184.7h0M626.4 184.7h0" stroke="#d0b39e"/><path d="M473.1 26.6h0M500.7 26.2h0M531.5 25.8h0M543.8 26.6h0M556.2 26.0h0M571.8 26.1h0M577.8 26.1h0M495.9 29.2h0M524.1 29.1h0M533.0 28.9h0M535.8 28.6h0M544.9 29.2h0M576.2 29.1h0M579.4 28.7h0M582.9 28.9h0M585.9 28.7h0M595.6 28.6h0M616.9 28.6h0M475.5 31.7h0M497.7 31.3h0M522.0 31.3h0M540.5 31.3h0M553.2 31.6h0M556.4 31.8h0M584.0 31.7h0M495.6 33.9h0M501.9 34.0h0M533.2 34.3h0M542.7 34.4h0M554.8 34.3h0M570.2 34.3h0M579.6 34.6h0M616.9 34.2h0M620.2 33.9h0M622.9 34.2h0M497.4 36.5h0M506.7 36.9h0M516.3 37.3h0M546.9 37.0h0M549.9 37.0h0M553.5 36.8h0M565.9 37.4h0M571.6 36.8h0M502.1 39.9h0M504.8 39.6h0M517.5 39.5h0M552.2 39.9h0M561.1 39.4h0M626.1 39.6h0M481.5 42.4h0M509.9 42.9h0M528.3 42.1h0M544.1 42.5h0M562.4 42.4h0M593.8 42.1h0M597.0 42.2h0M602.9 42.5h0M474.3 44.9h0M499.1 44.6h0M505.3 45.0h0M539.2 44.4h0M545.4 45.1h0M555.3 44.9h0M491.3 47.3h0M518.9 47.9h0M547.5 47.1h0M553.7 47.8h0M565.8 47.0h0M602.7 47.7h0M605.8 48.0h0M474.2 50.4h0M477.4 50.6h0M505.1 50.8h0M508.1 50.4h0M533.2 50.1h0M555.4 50.7h0M592.3 50.6h0M475.7 52.7h0M503.8 52.9h0M516.2 53.2h0M528.3 52.9h0M534.4 53.1h0M537.9 53.5h0M544.2 52.8h0M602.6 52.9h0M627.9 52.8h0M468.3 56.1h0M471.5 56.0h0M477.4 55.5h0M480.3 55.7h0M493.2 55.4h0M505.3 55.7h0M508.5 55.7h0M520.9 55.5h0M539.4 55.7h0M554.2 56.0h0M561.3 55.9h0M576.5 55.9h0M591.9 55.6h0M614.2 56.0h0M472.7 58.5h0M513.1 58.2h0M534.4 58.4h0M547.0 57.8h0M568.8 58.4h0M571.5 58.2h0M596.9 58.3h0M621.2 58.7h0M526.7 60.9h0M542.4 61.3h0M545.3 60.6h0M567.5 61.1h0M586.1 60.9h0M472.7 64.2h0M525.5 63.7h0M538.1 64.0h0M546.8 63.7h0M565.4 63.7h0M581.2 63.6h0M587.2 64.1h0M596.7 63.5h0M508.6 66.7h0M517.5 66.6h0M542.7 66.4h0M576.7 66.1h0M614.0 66.7h0M623.0 66.8h0M475.6 69.3h0M519.2 69.4h0M531.9 69.1h0M537.3 69.0h0M571.9 69.1h0M584.3 69.2h0M611.9 69.0h0M502.2 71.8h0M505.1 72.0h0M542.6 71.7h0M582.5 71.7h0M607.7 71.7h0M610.7 71.9h0M512.9 74.8h0M525.7 74.2h0M541.3 75.0h0M565.8 74.5h0M606.1 74.5h0M514.3 77.1h0M517.6 77.0h0M521.0 76.8h0M554.7 77.0h0M579.8 77.1h0M601.3 77.0h0M603.9 77.5h0M616.7 77.0h0M626.2 77.1h0M531.4 79.8h0M534.7 79.8h0M540.5 79.8h0M565.9 79.9h0M621.5 80.3h0M524.1 82.7h0M526.8 82.2h0M536.3 82.8h0M557.8 82.4h0M561.3 82.6h0M569.9 82.6h0M582.3 82.4h0M585.8 82.6h0M592.2 82.5h0M598.2 82.5h0M519.6 85.6h0M547.3 85.5h0M553.3 85.1h0M556.2 85.3h0M565.6 84.9h0M584.3 85.0h0M593.5 85.2h0M603.4 85.2h0M523.8 88.3h0M545.8 87.8h0M557.8 88.0h0M573.5 87.6h0M591.8 88.1h0M601.4 88.1h0M525.3 90.4h0M575.0 90.8h0M599.7 90.2h0M486.9 93.2h0M530.2 93.3h0M536.0 93.4h0M558.2 93.7h0M561.0 93.5h0M566.9 93.3h0M577.1 93.7h0M579.6 93.2h0M598.5 93.0h0M604.7 93.5h0M613.2 93.9h0M527.8 96.2h0M538.3 96.1h0M540.8 96.3h0M547.0 96.0h0M556.4 96.0h0M565.7 96.3h0M581.2 96.2h0M584.4 95.9h0M606.3 95.6h0M618.4 95.4h0M627.7 95.9h0M492.8 98.9h0M533.1 98.3h0M542.5 98.2h0M551.7 98.7h0M560.9 99.0h0M573.8 98.9h0M576.7 99.0h0M604.4 99.2h0M559.3 101.5h0M562.7 101.3h0M565.6 101.8h0M609.1 101.6h0M621.7 101.6h0M545.3 104.4h0M551.6 103.8h0M558.5 104.0h0M576.6 103.9h0M598.4 104.0h0M604.4 103.9h0M607.8 104.1h0M626.4 104.3h0M537.2 106.3h0M553.3 107.0h0M572.2 106.5h0M587.5 106.9h0M594.0 106.9h0M596.7 106.9h0M605.9 106.7h0M536.6 109.4h0M539.3 109.0h0M582.8 109.9h0M586.2 108.8h0M613.7 109.2h0M620.1 109.3h0M537.7 112.3h0M562.9 111.8h0M568.9 112.4h0M574.9 112.0h0M578.2 111.6h0M587.6 112.0h0M593.7 112.1h0M606.2 112.1h0M618.4 112.2h0M621.6 112.3h0M545.6 114.6h0M560.7 114.4h0M573.7 114.6h0M616.8 114.9h0M619.8 114.6h0M537.8 117.3h0M584.3 117.4h0M586.9 117.7h0M599.6 117.3h0M618.8 117.6h0M624.8 117.2h0M627.5 117.1h0M526.7 120.4h0M539.4 120.5h0M582.5 120.3h0M595.0 120.2h0M469.7 122.5h0M587.5 123.2h0M619.0 123.0h0M621.1 123.0h0M598.5 125.4h0M616.3 125.6h0M466.1 128.2h0M485.5 128.2h0M568.4 127.9h0M590.3 128.2h0M596.9 128.1h0M599.7 128.5h0M621.5 128.4h0M467.9 130.4h0M483.2 130.8h0M588.8 130.9h0M478.9 133.8h0M507.0 133.3h0M609.2 133.5h0M615.5 133.8h0M627.7 133.7h0M474.3 136.2h0M480.4 136.4h0M505.0 135.7h0M545.6 136.2h0M599.1 136.3h0M626.5 136.4h0M476.2 138.9h0M497.7 139.2h0M506.0 139.2h0M525.0 139.5h0M534.5 138.7h0M587.5 138.8h0M499.2 141.8h0M539.4 141.7h0M597.8 141.8h0M601.5 141.9h0M466.7 144.2h0M482.4 144.7h0M488.6 144.7h0M544.2 144.4h0M558.9 144.5h0M596.4 144.2h0M471.3 147.1h0M554.9 147.2h0M592.4 146.8h0M604.5 147.0h0M466.6 149.4h0M476.1 149.8h0M482.0 149.6h0M522.4 149.7h0M550.3 149.7h0M553.2 149.8h0M556.3 149.4h0M587.0 149.9h0M593.8 149.9h0M471.1 152.6h0M492.6 152.6h0M552.3 152.5h0M588.9 152.4h0M478.6 155.0h0M482.0 155.4h0M519.7 154.7h0M531.3 155.3h0M540.9 155.4h0M550.0 154.8h0M556.0 155.0h0M602.8 154.8h0M489.8 158.2h0M520.7 157.8h0M576.1 157.6h0M586.0 157.4h0M595.5 157.9h0M469.7 160.1h0M472.6 160.1h0M491.7 160.1h0M507.1 160.8h0M547.3 160.3h0M560.0 160.9h0M597.0 160.1h0M471.1 163.0h0M474.0 162.8h0M489.9 163.0h0M533.2 163.4h0M542.7 162.9h0M554.6 163.1h0M557.6 163.0h0M475.5 165.9h0M522.1 165.8h0M544.0 166.0h0M480.3 168.5h0M536.2 168.2h0M542.4 168.4h0M573.4 168.1h0M610.8 168.4h0M488.2 171.0h0M516.1 171.0h0M534.6 171.4h0M547.2 171.2h0M550.3 171.3h0M574.8 170.4h0M474.2 173.9h0M536.5 174.3h0M539.4 173.8h0M546.0 173.7h0M570.4 173.8h0M588.8 174.3h0M482.1 176.7h0M488.3 176.4h0M525.5 176.7h0M547.0 176.9h0M556.6 176.7h0M520.8 179.1h0M536.2 179.3h0M545.2 178.7h0M557.9 178.9h0M561.0 179.2h0M519.3 181.7h0M540.7 181.9h0M543.8 181.8h0M550.0 181.9h0M565.5 182.6h0M492.8 184.2h0M524.0 184.4h0M564.1 184.9h0" stroke="#d8c5bb"/><path d="M491.1 25.9h0M497.6 25.8h0M534.5 26.3h0M550.3 26.3h0M559.9 26.2h0M527.4 28.7h0M539.4 28.8h0M564.1 28.5h0M567.2 28.9h0M531.7 31.3h0M538.0 31.4h0M550.2 31.5h0M621.4 31.7h0M551.5 34.1h0M563.8 34.1h0M566.9 34.2h0M573.5 34.0h0M613.8 34.3h0M475.7 37.1h0M481.9 37.0h0M494.4 37.0h0M537.6 36.8h0M543.8 37.0h0M556.3 37.2h0M628.0 37.0h0M477.6 39.8h0M527.2 39.1h0M476.1 42.0h0M494.4 42.6h0M534.6 42.4h0M537.7 41.9h0M553.2 42.7h0M627.4 42.3h0M468.0 44.9h0M471.5 44.6h0M508.6 45.2h0M548.7 44.8h0M466.8 47.6h0M503.6 47.7h0M509.8 47.5h0M516.1 47.5h0M522.2 47.8h0M543.6 48.1h0M562.6 47.1h0M586.7 47.5h0M560.7 50.1h0M563.7 50.9h0M573.4 50.2h0M500.3 52.9h0M532.0 53.2h0M553.1 53.5h0M565.6 52.8h0M578.3 53.2h0M580.6 52.9h0M593.5 53.5h0M605.9 52.8h0M609.1 52.9h0M524.0 55.8h0M529.9 55.5h0M551.6 55.8h0M585.8 55.9h0M619.4 55.6h0M491.2 58.2h0M516.2 58.7h0M528.6 58.6h0M553.8 58.7h0M556.3 57.9h0M562.0 58.7h0M565.3 58.7h0M578.1 58.6h0M581.0 59.2h0M590.3 58.2h0M602.8 58.0h0M618.2 58.3h0M512.1 61.1h0M530.0 61.5h0M533.3 61.2h0M554.7 61.0h0M604.3 60.8h0M614.0 60.4h0M521.9 63.6h0M528.7 63.9h0M540.9 63.9h0M550.4 64.3h0M557.1 64.2h0M559.3 63.3h0M568.7 63.3h0M574.4 64.0h0M603.1 64.0h0M605.8 63.7h0M612.0 64.1h0M523.6 66.7h0M558.3 66.2h0M570.1 66.6h0M573.2 66.1h0M580.0 66.5h0M586.1 66.3h0M608.0 66.1h0M466.2 69.4h0M500.6 69.3h0M541.0 69.4h0M565.6 69.5h0M568.5 68.9h0M587.5 68.7h0M523.5 71.6h0M529.9 71.7h0M536.3 71.6h0M551.7 71.8h0M561.0 72.1h0M570.2 71.8h0M576.6 71.7h0M579.8 71.6h0M626.5 72.2h0M538.2 74.7h0M543.7 74.3h0M578.6 74.7h0M580.9 74.3h0M599.9 74.4h0M527.0 77.6h0M539.0 77.0h0M542.4 77.0h0M560.6 77.2h0M564.2 77.9h0M573.4 76.7h0M585.9 77.2h0M556.0 79.7h0M581.2 79.9h0M605.9 80.2h0M609.4 79.9h0M530.2 83.3h0M545.4 82.6h0M555.0 82.8h0M573.2 82.4h0M579.5 82.2h0M604.4 82.5h0M610.6 82.9h0M469.6 84.9h0M525.2 85.3h0M597.1 84.7h0M599.9 85.7h0M548.3 87.6h0M554.5 87.8h0M580.2 87.4h0M598.2 87.7h0M534.7 90.8h0M537.6 90.6h0M544.1 90.7h0M562.5 90.7h0M584.6 90.6h0M606.2 90.0h0M545.4 93.0h0M554.6 93.1h0M573.2 93.1h0M582.8 93.2h0M585.8 93.8h0M589.1 93.2h0M550.6 96.1h0M572.4 96.2h0M578.3 96.0h0M597.0 96.0h0M609.0 96.0h0M549.2 98.6h0M558.1 98.4h0M563.7 99.0h0M589.2 98.5h0M592.3 98.8h0M595.2 98.8h0M598.1 98.5h0M611.1 98.4h0M556.5 101.7h0M596.8 101.6h0M599.9 101.7h0M618.7 101.3h0M573.3 104.1h0M579.7 104.4h0M588.6 103.6h0M592.4 104.0h0M594.7 103.9h0M613.7 103.9h0M617.2 104.4h0M550.2 107.0h0M599.9 106.6h0M602.4 107.2h0M612.0 107.1h0M618.6 106.8h0M627.4 106.5h0M564.0 109.5h0M567.1 109.1h0M576.9 109.5h0M595.5 109.5h0M601.2 109.3h0M604.0 109.7h0M616.8 109.2h0M596.6 112.3h0M608.9 112.1h0M615.4 111.8h0M582.7 114.8h0M585.8 114.9h0M591.7 115.2h0M598.1 115.3h0M601.2 114.8h0M593.8 117.5h0M603.4 117.0h0M621.0 117.4h0M598.3 120.2h0M479.2 122.5h0M596.6 123.0h0M477.2 125.5h0M586.1 125.5h0M601.5 125.8h0M620.1 125.4h0M494.2 128.1h0M611.8 128.0h0M471.3 130.4h0M495.8 130.9h0M598.0 131.0h0M601.5 131.0h0M616.9 131.1h0M497.4 133.5h0M596.8 133.8h0M589.2 136.3h0M620.0 136.6h0M466.3 139.3h0M481.8 139.2h0M501.0 139.3h0M489.7 141.4h0M535.6 141.5h0M604.2 141.3h0M470.0 144.4h0M497.2 144.5h0M519.2 144.2h0M593.8 144.3h0M489.8 147.0h0M498.7 147.2h0M501.9 146.9h0M533.5 146.6h0M595.2 147.2h0M491.1 149.6h0M503.8 149.9h0M528.2 149.8h0M596.2 149.6h0M474.1 152.7h0M533.1 152.5h0M536.7 152.7h0M557.6 152.5h0M601.8 152.4h0M522.4 155.0h0M525.3 154.9h0M544.0 155.4h0M587.3 155.2h0M468.7 157.9h0M492.5 157.5h0M519.0 160.0h0M545.9 162.8h0M466.6 165.7h0M472.9 165.6h0M481.9 165.3h0M485.1 165.8h0M471.1 168.5h0M521.2 168.8h0M549.0 168.7h0M551.3 168.1h0M555.1 169.1h0M579.8 168.7h0M537.7 171.5h0M556.6 171.4h0M468.1 174.1h0M477.5 174.2h0M489.4 174.0h0M521.0 174.4h0M551.6 173.9h0M558.1 173.8h0M553.4 176.9h0M595.9 176.6h0M483.6 179.4h0M486.7 179.0h0M548.8 179.1h0M554.8 179.1h0M579.6 179.1h0M583.0 179.1h0M484.9 182.1h0M534.8 182.1h0M556.5 181.9h0M559.5 182.1h0M574.7 181.6h0M539.0 184.5h0M548.8 184.7h0M551.7 184.5h0" stroke="#ded3d4"/><path d="M566.0 26.3h0M542.7 28.7h0M570.1 29.2h0M560.0 31.5h0M562.6 32.1h0M572.3 31.4h0M536.1 34.1h0M522.1 37.1h0M470.8 39.6h0M472.8 42.3h0M558.0 44.7h0M604.4 44.9h0M472.8 47.6h0M525.5 47.7h0M560.1 47.5h0M468.1 50.1h0M542.7 50.2h0M469.1 53.4h0M472.7 53.4h0M509.7 53.4h0M519.2 53.2h0M556.7 53.6h0M587.5 52.9h0M545.5 55.6h0M569.5 55.6h0M579.8 56.0h0M601.6 55.8h0M497.0 58.6h0M559.6 58.3h0M551.5 60.9h0M573.2 61.1h0M576.4 61.4h0M582.8 60.8h0M601.0 61.1h0M590.5 63.8h0M609.3 63.6h0M511.8 66.8h0M548.7 66.5h0M550.2 69.1h0M562.7 69.1h0M539.0 71.7h0M547.4 74.8h0M556.4 74.8h0M557.7 77.0h0M567.0 77.5h0M589.0 77.3h0M568.7 79.8h0M567.9 82.5h0M491.0 85.2h0M568.9 85.5h0M567.6 87.7h0M570.7 88.2h0M576.5 87.8h0M590.5 90.7h0M542.5 93.8h0M591.9 93.3h0M543.6 96.0h0M562.4 96.5h0M620.1 99.1h0M612.4 101.5h0M535.1 107.0h0M578.2 107.1h0M581.6 112.4h0M603.2 112.0h0M612.0 112.0h0M576.7 114.5h0M588.9 115.2h0M594.9 114.5h0M604.5 114.7h0M612.1 117.8h0M591.8 120.0h0M604.3 120.2h0M466.9 123.1h0M499.2 130.9h0M498.1 149.5h0M592.2 152.2h0M598.3 152.2h0M471.3 157.8h0M517.8 157.8h0M545.7 158.1h0M547.3 165.7h0M561.2 168.7h0M552.0 179.5h0M564.2 179.3h0M562.8 182.2h0M542.5 184.7h0" stroke="#e2d9e2"/></g></defs><use href="#p2" fill="none" stroke-width="3.72" stroke-linecap="round" stroke-opacity="0.35"/><use href="#p2" fill="none" stroke-width="2.85" stroke-linecap="round"/></g>
<text x="270.7" y="18.8" font-size="9.1" textLength="96.5" lengthAdjust="spacingAndGlyphs" >20% pinning reduction</text>
<text x="466.0" y="18.8" font-size="9.1" textLength="96.4" lengthAdjust="spacingAndGlyphs" >70% pinning reduction</text>
<rect x="344.5" y="128.4" width="73.8" height="43.6" fill="none" stroke="#000" stroke-width="1.3"/>
<defs><linearGradient id="twg" x1="0" y1="0" x2="0" y2="1"><stop offset="0.0000" stop-color="#e2d9e2"/><stop offset="0.0156" stop-color="#e1d8dd"/><stop offset="0.0312" stop-color="#dfd4d6"/><stop offset="0.0469" stop-color="#dccecb"/><stop offset="0.0625" stop-color="#d8c7be"/><stop offset="0.0781" stop-color="#d5bfb1"/><stop offset="0.0938" stop-color="#d1b6a3"/><stop offset="0.1094" stop-color="#cfad96"/><stop offset="0.1250" stop-color="#cca389"/><stop offset="0.1406" stop-color="#ca9a7d"/><stop offset="0.1562" stop-color="#c89073"/><stop offset="0.1719" stop-color="#c5866a"/><stop offset="0.1875" stop-color="#c27c63"/><stop offset="0.2031" stop-color="#bf725d"/><stop offset="0.2188" stop-color="#bb6958"/><stop offset="0.2344" stop-color="#b75f55"/><stop offset="0.2500" stop-color="#b25652"/><stop offset="0.2656" stop-color="#ac4d51"/><stop offset="0.2812" stop-color="#a64550"/><stop offset="0.2969" stop-color="#a03d50"/><stop offset="0.3125" stop-color="#983550"/><stop offset="0.3281" stop-color="#902e50"/><stop offset="0.3438" stop-color="#872750"/><stop offset="0.3594" stop-color="#7e2250"/><stop offset="0.3750" stop-color="#741e4f"/><stop offset="0.3906" stop-color="#691a4d"/><stop offset="0.4062" stop-color="#5f174a"/><stop offset="0.4219" stop-color="#541546"/><stop offset="0.4375" stop-color="#4a1342"/><stop offset="0.4531" stop-color="#41123d"/><stop offset="0.4688" stop-color="#3a113a"/><stop offset="0.4844" stop-color="#341238"/><stop offset="0.5000" stop-color="#2f1436"/><stop offset="0.5156" stop-color="#33113d"/><stop offset="0.5312" stop-color="#381145"/><stop offset="0.5469" stop-color="#3e1150"/><stop offset="0.5625" stop-color="#45135c"/><stop offset="0.5781" stop-color="#4c1669"/><stop offset="0.5938" stop-color="#511b77"/><stop offset="0.6094" stop-color="#562284"/><stop offset="0.6250" stop-color="#592a8f"/><stop offset="0.6406" stop-color="#5c3499"/><stop offset="0.6562" stop-color="#5d3da1"/><stop offset="0.6719" stop-color="#5e47a7"/><stop offset="0.6875" stop-color="#5e51ad"/><stop offset="0.7031" stop-color="#5f5ab1"/><stop offset="0.7188" stop-color="#5f64b5"/><stop offset="0.7344" stop-color="#606db8"/><stop offset="0.7500" stop-color="#6276ba"/><stop offset="0.7656" stop-color="#647ebc"/><stop offset="0.7812" stop-color="#6887be"/><stop offset="0.7969" stop-color="#6c8fbf"/><stop offset="0.8125" stop-color="#7297c1"/><stop offset="0.8281" stop-color="#799fc2"/><stop offset="0.8438" stop-color="#81a6c3"/><stop offset="0.8594" stop-color="#8aaec5"/><stop offset="0.8750" stop-color="#95b5c7"/><stop offset="0.8906" stop-color="#a0bcc9"/><stop offset="0.9062" stop-color="#acc2cc"/><stop offset="0.9219" stop-color="#b8c9d0"/><stop offset="0.9375" stop-color="#c4ced4"/><stop offset="0.9531" stop-color="#ced3d9"/><stop offset="0.9688" stop-color="#d7d7dd"/><stop offset="0.9844" stop-color="#ded9e1"/><stop offset="1.0000" stop-color="#e2d9e2"/></linearGradient>
<linearGradient id="grg" x1="0" y1="0" x2="1" y2="0"><stop offset="0.0000" stop-color="#00441b"/><stop offset="0.0312" stop-color="#004e1f"/><stop offset="0.0625" stop-color="#005924"/><stop offset="0.0938" stop-color="#006328"/><stop offset="0.1250" stop-color="#006d2c"/><stop offset="0.1562" stop-color="#097532"/><stop offset="0.1875" stop-color="#127c39"/><stop offset="0.2188" stop-color="#1a843f"/><stop offset="0.2500" stop-color="#238b45"/><stop offset="0.2812" stop-color="#2b934b"/><stop offset="0.3125" stop-color="#329b51"/><stop offset="0.3438" stop-color="#3aa357"/><stop offset="0.3750" stop-color="#42ab5d"/><stop offset="0.4062" stop-color="#4eb264"/><stop offset="0.4375" stop-color="#5bb86a"/><stop offset="0.4688" stop-color="#68be70"/><stop offset="0.5000" stop-color="#75c477"/><stop offset="0.5312" stop-color="#80ca80"/><stop offset="0.5625" stop-color="#8bcf89"/><stop offset="0.5938" stop-color="#97d492"/><stop offset="0.6250" stop-color="#a2d99c"/><stop offset="0.6562" stop-color="#abdda5"/><stop offset="0.6875" stop-color="#b5e1ae"/><stop offset="0.7188" stop-color="#bee5b8"/><stop offset="0.7500" stop-color="#c8e9c1"/><stop offset="0.7812" stop-color="#cfecc9"/><stop offset="0.8125" stop-color="#d7efd1"/><stop offset="0.8438" stop-color="#def2d9"/><stop offset="0.8750" stop-color="#e5f5e1"/><stop offset="0.9062" stop-color="#eaf7e6"/><stop offset="0.9375" stop-color="#eff9eb"/><stop offset="0.9688" stop-color="#f3faf0"/><stop offset="1.0000" stop-color="#f7fcf5"/></linearGradient>
<linearGradient id="gyg" x1="0" y1="0" x2="1" y2="0"><stop offset="0.0000" stop-color="#ffffff"/><stop offset="0.0312" stop-color="#fbfbfb"/><stop offset="0.0625" stop-color="#f7f7f7"/><stop offset="0.0938" stop-color="#f4f4f4"/><stop offset="0.1250" stop-color="#f0f0f0"/><stop offset="0.1562" stop-color="#eaeaea"/><stop offset="0.1875" stop-color="#e4e4e4"/><stop offset="0.2188" stop-color="#dfdfdf"/><stop offset="0.2500" stop-color="#d9d9d9"/><stop offset="0.2812" stop-color="#d2d2d2"/><stop offset="0.3125" stop-color="#cbcbcb"/><stop offset="0.3438" stop-color="#c4c4c4"/><stop offset="0.3750" stop-color="#bdbdbd"/><stop offset="0.4062" stop-color="#b3b3b3"/><stop offset="0.4375" stop-color="#a9a9a9"/><stop offset="0.4688" stop-color="#9f9f9f"/><stop offset="0.5000" stop-color="#959595"/><stop offset="0.5312" stop-color="#8d8d8d"/><stop offset="0.5625" stop-color="#848484"/><stop offset="0.5938" stop-color="#7b7b7b"/><stop offset="0.6250" stop-color="#727272"/><stop offset="0.6562" stop-color="#6a6a6a"/><stop offset="0.6875" stop-color="#626262"/><stop offset="0.7188" stop-color="#5a5a5a"/><stop offset="0.7500" stop-color="#515151"/><stop offset="0.7812" stop-color="#464646"/><stop offset="0.8125" stop-color="#3a3a3a"/><stop offset="0.8438" stop-color="#2f2f2f"/><stop offset="0.8750" stop-color="#242424"/><stop offset="0.9062" stop-color="#1b1b1b"/><stop offset="0.9375" stop-color="#111111"/><stop offset="0.9688" stop-color="#080808"/><stop offset="1.0000" stop-color="#000000"/></linearGradient></defs>
<rect x="637.4" y="25.5" width="8.600000000000023" height="161.0" fill="url(#twg)" stroke="#222" stroke-width="1"/>
<line x1="646.0" y1="25.5" x2="650.4" y2="25.5" stroke="#111" stroke-width="1.15"/>
<text x="655.0" y="29.3" font-size="9.5" textLength="11.2" lengthAdjust="spacingAndGlyphs" >30</text>
<line x1="646.0" y1="65.75" x2="650.4" y2="65.75" stroke="#111" stroke-width="1.15"/>
<text x="655.0" y="69.55" font-size="9.5" textLength="11.2" lengthAdjust="spacingAndGlyphs" >15</text>
<line x1="646.0" y1="106.0" x2="650.4" y2="106.0" stroke="#111" stroke-width="1.15"/>
<text x="655.0" y="109.8" font-size="9.5" textLength="5.6" lengthAdjust="spacingAndGlyphs" >0</text>
<line x1="646.0" y1="146.25" x2="650.4" y2="146.25" stroke="#111" stroke-width="1.15"/>
<text x="655.0" y="150.05" font-size="9.5" textLength="18.6" lengthAdjust="spacingAndGlyphs" >−15</text>
<line x1="646.0" y1="186.5" x2="650.4" y2="186.5" stroke="#111" stroke-width="1.15"/>
<text x="655.0" y="190.3" font-size="9.5" textLength="18.6" lengthAdjust="spacingAndGlyphs" >−30</text>
<text transform="translate(683.3 106.5) rotate(-90)" font-size="9.4" text-anchor="middle" textLength="22" lengthAdjust="spacingAndGlyphs"><tspan font-style="italic">α</tspan> [°]</text>
<rect x="259.5" y="196.6" width="380.2" height="151.1" fill="none" stroke="#111" stroke-width="1.3"/>
<line x1="344.5" y1="172" x2="259.5" y2="196.6" stroke="#111" stroke-width="1.3"/>
<line x1="418.3" y1="172" x2="639.7" y2="196.6" stroke="#111" stroke-width="1.3"/>
<defs>
<filter id="gnoise" x="0" y="0" width="100%" height="100%" color-interpolation-filters="sRGB">
<feTurbulence type="fractalNoise" baseFrequency="0.28" numOctaves="3" seed="3" result="n"/>
<feColorMatrix in="n" type="matrix" values="0 0 0 1 0  0 0 0 1 0  0 0 0 1 0  0 0 0 0 1"/>
<feComponentTransfer>
<feFuncR type="table" tableValues="0.134 0.160 0.186 0.216 0.242 0.276 0.326 0.370 0.414 0.463 0.502 0.541 0.585 0.624 0.662 0.695 0.728 0.765 0.794 0.820 0.850 0.875 0.900 0.918 0.933 0.949 0.966 0.969 0.969 0.969 0.969 0.969 0.969"/>
<feFuncG type="table" tableValues="0.542 0.570 0.597 0.629 0.656 0.681 0.706 0.727 0.749 0.773 0.791 0.809 0.829 0.847 0.864 0.878 0.892 0.907 0.919 0.930 0.941 0.952 0.962 0.968 0.974 0.980 0.987 0.988 0.988 0.988 0.988 0.988 0.988"/>
<feFuncB type="table" tableValues="0.268 0.289 0.310 0.333 0.354 0.375 0.400 0.421 0.443 0.470 0.501 0.533 0.570 0.602 0.638 0.670 0.702 0.738 0.768 0.795 0.827 0.854 0.881 0.901 0.919 0.938 0.958 0.961 0.961 0.961 0.961 0.961 0.961"/>
</feComponentTransfer>
</filter>
<filter id="gblur" x="-10%" y="-10%" width="120%" height="120%" color-interpolation-filters="sRGB">
<feGaussianBlur stdDeviation="3.5"/>
</filter>
<filter id="ytex" x="0" y="0" width="100%" height="100%" color-interpolation-filters="sRGB">
<feTurbulence type="fractalNoise" baseFrequency="0.06" numOctaves="3" seed="11"/>
<feColorMatrix type="matrix" values="0 0 0 0 0  0 0 0 0 0  0 0 0 0 0  0 0 0 0.5 -0.2"/>
</filter>
<clipPath id="yclip"><rect x="465.4" y="201.8" width="163.2" height="97.7"/></clipPath>
</defs>
<rect x="270.2" y="201.8" width="163.3" height="97.9" fill="#fff" filter="url(#gnoise)"/>
<g clip-path="url(#yclip)"><g filter="url(#gblur)"><rect x="453.4" y="189.8" width="22.7" height="22.3" fill="rgb(226,226,226)"/><rect x="475.6" y="189.8" width="10.7" height="22.3" fill="rgb(204,204,204)"/><rect x="485.8" y="189.8" width="10.7" height="22.3" fill="rgb(211,211,211)"/><rect x="496.0" y="189.8" width="10.7" height="22.3" fill="rgb(240,240,240)"/><rect x="506.2" y="189.8" width="10.7" height="22.3" fill="rgb(248,248,248)"/><rect x="516.4" y="189.8" width="10.7" height="22.3" fill="rgb(240,240,240)"/><rect x="526.6" y="189.8" width="10.7" height="22.3" fill="rgb(233,233,233)"/><rect x="536.8" y="189.8" width="10.7" height="22.3" fill="rgb(240,240,240)"/><rect x="547.0" y="189.8" width="10.7" height="22.3" fill="rgb(240,240,240)"/><rect x="557.2" y="189.8" width="10.7" height="22.3" fill="rgb(226,226,226)"/><rect x="567.4" y="189.8" width="10.7" height="22.3" fill="rgb(175,175,175)"/><rect x="577.6" y="189.8" width="10.7" height="22.3" fill="rgb(190,190,190)"/><rect x="587.8" y="189.8" width="10.7" height="22.3" fill="rgb(226,226,226)"/><rect x="598.0" y="189.8" width="10.7" height="22.3" fill="rgb(233,233,233)"/><rect x="608.2" y="189.8" width="10.7" height="22.3" fill="rgb(248,248,248)"/><rect x="618.4" y="189.8" width="22.7" height="22.3" fill="rgb(248,248,248)"/><rect x="453.4" y="211.6" width="22.7" height="10.3" fill="rgb(240,240,240)"/><rect x="475.6" y="211.6" width="10.7" height="10.3" fill="rgb(233,233,233)"/><rect x="485.8" y="211.6" width="10.7" height="10.3" fill="rgb(226,226,226)"/><rect x="496.0" y="211.6" width="10.7" height="10.3" fill="rgb(240,240,240)"/><rect x="506.2" y="211.6" width="10.7" height="10.3" fill="rgb(255,255,255)"/><rect x="516.4" y="211.6" width="10.7" height="10.3" fill="rgb(255,255,255)"/><rect x="526.6" y="211.6" width="10.7" height="10.3" fill="rgb(240,240,240)"/><rect x="536.8" y="211.6" width="10.7" height="10.3" fill="rgb(248,248,248)"/><rect x="547.0" y="211.6" width="10.7" height="10.3" fill="rgb(240,240,240)"/><rect x="557.2" y="211.6" width="10.7" height="10.3" fill="rgb(233,233,233)"/><rect x="567.4" y="211.6" width="10.7" height="10.3" fill="rgb(226,226,226)"/><rect x="577.6" y="211.6" width="10.7" height="10.3" fill="rgb(226,226,226)"/><rect x="587.8" y="211.6" width="10.7" height="10.3" fill="rgb(226,226,226)"/><rect x="598.0" y="211.6" width="10.7" height="10.3" fill="rgb(219,219,219)"/><rect x="608.2" y="211.6" width="10.7" height="10.3" fill="rgb(240,240,240)"/><rect x="618.4" y="211.6" width="22.7" height="10.3" fill="rgb(248,248,248)"/><rect x="453.4" y="221.3" width="22.7" height="10.3" fill="rgb(248,248,248)"/><rect x="475.6" y="221.3" width="10.7" height="10.3" fill="rgb(240,240,240)"/><rect x="485.8" y="221.3" width="10.7" height="10.3" fill="rgb(219,219,219)"/><rect x="496.0" y="221.3" width="10.7" height="10.3" fill="rgb(240,240,240)"/><rect x="506.2" y="221.3" width="10.7" height="10.3" fill="rgb(255,255,255)"/><rect x="516.4" y="221.3" width="10.7" height="10.3" fill="rgb(255,255,255)"/><rect x="526.6" y="221.3" width="10.7" height="10.3" fill="rgb(248,248,248)"/><rect x="536.8" y="221.3" width="10.7" height="10.3" fill="rgb(248,248,248)"/><rect x="547.0" y="221.3" width="10.7" height="10.3" fill="rgb(255,255,255)"/><rect x="557.2" y="221.3" width="10.7" height="10.3" fill="rgb(248,248,248)"/><rect x="567.4" y="221.3" width="10.7" height="10.3" fill="rgb(233,233,233)"/><rect x="577.6" y="221.3" width="10.7" height="10.3" fill="rgb(226,226,226)"/><rect x="587.8" y="221.3" width="10.7" height="10.3" fill="rgb(211,211,211)"/><rect x="598.0" y="221.3" width="10.7" height="10.3" fill="rgb(204,204,204)"/><rect x="608.2" y="221.3" width="10.7" height="10.3" fill="rgb(219,219,219)"/><rect x="618.4" y="221.3" width="22.7" height="10.3" fill="rgb(233,233,233)"/><rect x="453.4" y="231.1" width="22.7" height="10.3" fill="rgb(226,226,226)"/><rect x="475.6" y="231.1" width="10.7" height="10.3" fill="rgb(233,233,233)"/><rect x="485.8" y="231.1" width="10.7" height="10.3" fill="rgb(197,197,197)"/><rect x="496.0" y="231.1" width="10.7" height="10.3" fill="rgb(219,219,219)"/><rect x="506.2" y="231.1" width="10.7" height="10.3" fill="rgb(240,240,240)"/><rect x="516.4" y="231.1" width="10.7" height="10.3" fill="rgb(248,248,248)"/><rect x="526.6" y="231.1" width="10.7" height="10.3" fill="rgb(248,248,248)"/><rect x="536.8" y="231.1" width="10.7" height="10.3" fill="rgb(255,255,255)"/><rect x="547.0" y="231.1" width="10.7" height="10.3" fill="rgb(255,255,255)"/><rect x="557.2" y="231.1" width="10.7" height="10.3" fill="rgb(240,240,240)"/><rect x="567.4" y="231.1" width="10.7" height="10.3" fill="rgb(226,226,226)"/><rect x="577.6" y="231.1" width="10.7" height="10.3" fill="rgb(204,204,204)"/><rect x="587.8" y="231.1" width="10.7" height="10.3" fill="rgb(219,219,219)"/><rect x="598.0" y="231.1" width="10.7" height="10.3" fill="rgb(226,226,226)"/><rect x="608.2" y="231.1" width="10.7" height="10.3" fill="rgb(233,233,233)"/><rect x="618.4" y="231.1" width="22.7" height="10.3" fill="rgb(226,226,226)"/><rect x="453.4" y="240.9" width="22.7" height="10.3" fill="rgb(219,219,219)"/><rect x="475.6" y="240.9" width="10.7" height="10.3" fill="rgb(211,211,211)"/><rect x="485.8" y="240.9" width="10.7" height="10.3" fill="rgb(182,182,182)"/><rect x="496.0" y="240.9" width="10.7" height="10.3" fill="rgb(197,197,197)"/><rect x="506.2" y="240.9" width="10.7" height="10.3" fill="rgb(226,226,226)"/><rect x="516.4" y="240.9" width="10.7" height="10.3" fill="rgb(240,240,240)"/><rect x="526.6" y="240.9" width="10.7" height="10.3" fill="rgb(233,233,233)"/><rect x="536.8" y="240.9" width="10.7" height="10.3" fill="rgb(219,219,219)"/><rect x="547.0" y="240.9" width="10.7" height="10.3" fill="rgb(226,226,226)"/><rect x="557.2" y="240.9" width="10.7" height="10.3" fill="rgb(219,219,219)"/><rect x="567.4" y="240.9" width="10.7" height="10.3" fill="rgb(204,204,204)"/><rect x="577.6" y="240.9" width="10.7" height="10.3" fill="rgb(219,219,219)"/><rect x="587.8" y="240.9" width="10.7" height="10.3" fill="rgb(240,240,240)"/><rect x="598.0" y="240.9" width="10.7" height="10.3" fill="rgb(226,226,226)"/><rect x="608.2" y="240.9" width="10.7" height="10.3" fill="rgb(211,211,211)"/><rect x="618.4" y="240.9" width="22.7" height="10.3" fill="rgb(204,204,204)"/><rect x="453.4" y="250.7" width="22.7" height="10.3" fill="rgb(182,182,182)"/><rect x="475.6" y="250.7" width="10.7" height="10.3" fill="rgb(197,197,197)"/><rect x="485.8" y="250.7" width="10.7" height="10.3" fill="rgb(175,175,175)"/><rect x="496.0" y="250.7" width="10.7" height="10.3" fill="rgb(197,197,197)"/><rect x="506.2" y="250.7" width="10.7" height="10.3" fill="rgb(219,219,219)"/><rect x="516.4" y="250.7" width="10.7" height="10.3" fill="rgb(204,204,204)"/><rect x="526.6" y="250.7" width="10.7" height="10.3" fill="rgb(204,204,204)"/><rect x="536.8" y="250.7" width="10.7" height="10.3" fill="rgb(197,197,197)"/><rect x="547.0" y="250.7" width="10.7" height="10.3" fill="rgb(226,226,226)"/><rect x="557.2" y="250.7" width="10.7" height="10.3" fill="rgb(240,240,240)"/><rect x="567.4" y="250.7" width="10.7" height="10.3" fill="rgb(226,226,226)"/><rect x="577.6" y="250.7" width="10.7" height="10.3" fill="rgb(233,233,233)"/><rect x="587.8" y="250.7" width="10.7" height="10.3" fill="rgb(248,248,248)"/><rect x="598.0" y="250.7" width="10.7" height="10.3" fill="rgb(233,233,233)"/><rect x="608.2" y="250.7" width="10.7" height="10.3" fill="rgb(197,197,197)"/><rect x="618.4" y="250.7" width="22.7" height="10.3" fill="rgb(197,197,197)"/><rect x="453.4" y="260.4" width="22.7" height="10.3" fill="rgb(190,190,190)"/><rect x="475.6" y="260.4" width="10.7" height="10.3" fill="rgb(211,211,211)"/><rect x="485.8" y="260.4" width="10.7" height="10.3" fill="rgb(197,197,197)"/><rect x="496.0" y="260.4" width="10.7" height="10.3" fill="rgb(190,190,190)"/><rect x="506.2" y="260.4" width="10.7" height="10.3" fill="rgb(204,204,204)"/><rect x="516.4" y="260.4" width="10.7" height="10.3" fill="rgb(211,211,211)"/><rect x="526.6" y="260.4" width="10.7" height="10.3" fill="rgb(219,219,219)"/><rect x="536.8" y="260.4" width="10.7" height="10.3" fill="rgb(226,226,226)"/><rect x="547.0" y="260.4" width="10.7" height="10.3" fill="rgb(240,240,240)"/><rect x="557.2" y="260.4" width="10.7" height="10.3" fill="rgb(255,255,255)"/><rect x="567.4" y="260.4" width="10.7" height="10.3" fill="rgb(248,248,248)"/><rect x="577.6" y="260.4" width="10.7" height="10.3" fill="rgb(248,248,248)"/><rect x="587.8" y="260.4" width="10.7" height="10.3" fill="rgb(248,248,248)"/><rect x="598.0" y="260.4" width="10.7" height="10.3" fill="rgb(240,240,240)"/><rect x="608.2" y="260.4" width="10.7" height="10.3" fill="rgb(204,204,204)"/><rect x="618.4" y="260.4" width="22.7" height="10.3" fill="rgb(204,204,204)"/><rect x="453.4" y="270.2" width="22.7" height="10.3" fill="rgb(233,233,233)"/><rect x="475.6" y="270.2" width="10.7" height="10.3" fill="rgb(211,211,211)"/><rect x="485.8" y="270.2" width="10.7" height="10.3" fill="rgb(197,197,197)"/><rect x="496.0" y="270.2" width="10.7" height="10.3" fill="rgb(197,197,197)"/><rect x="506.2" y="270.2" width="10.7" height="10.3" fill="rgb(219,219,219)"/><rect x="516.4" y="270.2" width="10.7" height="10.3" fill="rgb(233,233,233)"/><rect x="526.6" y="270.2" width="10.7" height="10.3" fill="rgb(211,211,211)"/><rect x="536.8" y="270.2" width="10.7" height="10.3" fill="rgb(197,197,197)"/><rect x="547.0" y="270.2" width="10.7" height="10.3" fill="rgb(226,226,226)"/><rect x="557.2" y="270.2" width="10.7" height="10.3" fill="rgb(248,248,248)"/><rect x="567.4" y="270.2" width="10.7" height="10.3" fill="rgb(248,248,248)"/><rect x="577.6" y="270.2" width="10.7" height="10.3" fill="rgb(240,240,240)"/><rect x="587.8" y="270.2" width="10.7" height="10.3" fill="rgb(248,248,248)"/><rect x="598.0" y="270.2" width="10.7" height="10.3" fill="rgb(240,240,240)"/><rect x="608.2" y="270.2" width="10.7" height="10.3" fill="rgb(219,219,219)"/><rect x="618.4" y="270.2" width="22.7" height="10.3" fill="rgb(211,211,211)"/><rect x="453.4" y="280.0" width="22.7" height="10.3" fill="rgb(240,240,240)"/><rect x="475.6" y="280.0" width="10.7" height="10.3" fill="rgb(233,233,233)"/><rect x="485.8" y="280.0" width="10.7" height="10.3" fill="rgb(219,219,219)"/><rect x="496.0" y="280.0" width="10.7" height="10.3" fill="rgb(226,226,226)"/><rect x="506.2" y="280.0" width="10.7" height="10.3" fill="rgb(240,240,240)"/><rect x="516.4" y="280.0" width="10.7" height="10.3" fill="rgb(248,248,248)"/><rect x="526.6" y="280.0" width="10.7" height="10.3" fill="rgb(226,226,226)"/><rect x="536.8" y="280.0" width="10.7" height="10.3" fill="rgb(211,211,211)"/><rect x="547.0" y="280.0" width="10.7" height="10.3" fill="rgb(233,233,233)"/><rect x="557.2" y="280.0" width="10.7" height="10.3" fill="rgb(248,248,248)"/><rect x="567.4" y="280.0" width="10.7" height="10.3" fill="rgb(255,255,255)"/><rect x="577.6" y="280.0" width="10.7" height="10.3" fill="rgb(248,248,248)"/><rect x="587.8" y="280.0" width="10.7" height="10.3" fill="rgb(240,240,240)"/><rect x="598.0" y="280.0" width="10.7" height="10.3" fill="rgb(233,233,233)"/><rect x="608.2" y="280.0" width="10.7" height="10.3" fill="rgb(226,226,226)"/><rect x="618.4" y="280.0" width="22.7" height="10.3" fill="rgb(211,211,211)"/><rect x="453.4" y="289.7" width="22.7" height="22.3" fill="rgb(233,233,233)"/><rect x="475.6" y="289.7" width="10.7" height="22.3" fill="rgb(240,240,240)"/><rect x="485.8" y="289.7" width="10.7" height="22.3" fill="rgb(248,248,248)"/><rect x="496.0" y="289.7" width="10.7" height="22.3" fill="rgb(233,233,233)"/><rect x="506.2" y="289.7" width="10.7" height="22.3" fill="rgb(226,226,226)"/><rect x="516.4" y="289.7" width="10.7" height="22.3" fill="rgb(248,248,248)"/><rect x="526.6" y="289.7" width="10.7" height="22.3" fill="rgb(248,248,248)"/><rect x="536.8" y="289.7" width="10.7" height="22.3" fill="rgb(233,233,233)"/><rect x="547.0" y="289.7" width="10.7" height="22.3" fill="rgb(240,240,240)"/><rect x="557.2" y="289.7" width="10.7" height="22.3" fill="rgb(255,255,255)"/><rect x="567.4" y="289.7" width="10.7" height="22.3" fill="rgb(255,255,255)"/><rect x="577.6" y="289.7" width="10.7" height="22.3" fill="rgb(248,248,248)"/><rect x="587.8" y="289.7" width="10.7" height="22.3" fill="rgb(240,240,240)"/><rect x="598.0" y="289.7" width="10.7" height="22.3" fill="rgb(226,226,226)"/><rect x="608.2" y="289.7" width="10.7" height="22.3" fill="rgb(211,211,211)"/><rect x="618.4" y="289.7" width="22.7" height="22.3" fill="rgb(204,204,204)"/></g></g>
<rect x="465.4" y="201.8" width="163.2" height="97.7" fill="#000" filter="url(#ytex)"/>
<path d="M467.9 202.9a1.35 1.35 0 1 0 2.7 0a1.35 1.35 0 1 0 -2.7 0zM469.0 206.0a1.35 1.35 0 1 0 2.7 0a1.35 1.35 0 1 0 -2.7 0zM471.5 208.3a1.35 1.35 0 1 0 2.7 0a1.35 1.35 0 1 0 -2.7 0zM473.9 209.3a1.35 1.35 0 1 0 2.7 0a1.35 1.35 0 1 0 -2.7 0zM476.5 210.0a1.35 1.35 0 1 0 2.7 0a1.35 1.35 0 1 0 -2.7 0zM479.6 210.7a1.35 1.35 0 1 0 2.7 0a1.35 1.35 0 1 0 -2.7 0zM482.5 211.1a1.35 1.35 0 1 0 2.7 0a1.35 1.35 0 1 0 -2.7 0zM485.3 210.4a1.35 1.35 0 1 0 2.7 0a1.35 1.35 0 1 0 -2.7 0zM487.9 208.3a1.35 1.35 0 1 0 2.7 0a1.35 1.35 0 1 0 -2.7 0zM489.6 205.4a1.35 1.35 0 1 0 2.7 0a1.35 1.35 0 1 0 -2.7 0zM491.0 202.9a1.35 1.35 0 1 0 2.7 0a1.35 1.35 0 1 0 -2.7 0zM477.9 204.0a1.35 1.35 0 1 0 2.7 0a1.35 1.35 0 1 0 -2.7 0zM480.5 205.0a1.35 1.35 0 1 0 2.7 0a1.35 1.35 0 1 0 -2.7 0zM483.3 204.0a1.35 1.35 0 1 0 2.7 0a1.35 1.35 0 1 0 -2.7 0zM484.8 202.6a1.35 1.35 0 1 0 2.7 0a1.35 1.35 0 1 0 -2.7 0zM494.8 207.1a1.35 1.35 0 1 0 2.7 0a1.35 1.35 0 1 0 -2.7 0zM537.6 208.6a1.35 1.35 0 1 0 2.7 0a1.35 1.35 0 1 0 -2.7 0zM540.5 209.3a1.35 1.35 0 1 0 2.7 0a1.35 1.35 0 1 0 -2.7 0zM543.0 210.0a1.35 1.35 0 1 0 2.7 0a1.35 1.35 0 1 0 -2.7 0zM545.4 210.0a1.35 1.35 0 1 0 2.7 0a1.35 1.35 0 1 0 -2.7 0zM546.2 221.4a1.35 1.35 0 1 0 2.7 0a1.35 1.35 0 1 0 -2.7 0zM499.9 226.0a1.35 1.35 0 1 0 2.7 0a1.35 1.35 0 1 0 -2.7 0zM490.8 236.9a1.35 1.35 0 1 0 2.7 0a1.35 1.35 0 1 0 -2.7 0zM492.9 235.0a1.35 1.35 0 1 0 2.7 0a1.35 1.35 0 1 0 -2.7 0zM495.3 235.0a1.35 1.35 0 1 0 2.7 0a1.35 1.35 0 1 0 -2.7 0zM496.8 237.9a1.35 1.35 0 1 0 2.7 0a1.35 1.35 0 1 0 -2.7 0zM494.8 240.7a1.35 1.35 0 1 0 2.7 0a1.35 1.35 0 1 0 -2.7 0zM492.5 242.6a1.35 1.35 0 1 0 2.7 0a1.35 1.35 0 1 0 -2.7 0zM490.5 240.0a1.35 1.35 0 1 0 2.7 0a1.35 1.35 0 1 0 -2.7 0zM488.2 245.4a1.35 1.35 0 1 0 2.7 0a1.35 1.35 0 1 0 -2.7 0zM532.2 249.3a1.35 1.35 0 1 0 2.7 0a1.35 1.35 0 1 0 -2.7 0zM545.8 209.7a1.35 1.35 0 1 0 2.7 0a1.35 1.35 0 1 0 -2.7 0zM547.5 212.9a1.35 1.35 0 1 0 2.7 0a1.35 1.35 0 1 0 -2.7 0zM551.0 214.3a1.35 1.35 0 1 0 2.7 0a1.35 1.35 0 1 0 -2.7 0zM566.0 210.3a1.35 1.35 0 1 0 2.7 0a1.35 1.35 0 1 0 -2.7 0zM568.9 211.1a1.35 1.35 0 1 0 2.7 0a1.35 1.35 0 1 0 -2.7 0zM571.8 211.7a1.35 1.35 0 1 0 2.7 0a1.35 1.35 0 1 0 -2.7 0zM574.6 211.1a1.35 1.35 0 1 0 2.7 0a1.35 1.35 0 1 0 -2.7 0zM577.2 210.0a1.35 1.35 0 1 0 2.7 0a1.35 1.35 0 1 0 -2.7 0zM579.6 209.6a1.35 1.35 0 1 0 2.7 0a1.35 1.35 0 1 0 -2.7 0zM582.5 210.0a1.35 1.35 0 1 0 2.7 0a1.35 1.35 0 1 0 -2.7 0zM585.4 210.0a1.35 1.35 0 1 0 2.7 0a1.35 1.35 0 1 0 -2.7 0zM588.5 208.9a1.35 1.35 0 1 0 2.7 0a1.35 1.35 0 1 0 -2.7 0zM576.4 213.9a1.35 1.35 0 1 0 2.7 0a1.35 1.35 0 1 0 -2.7 0zM595.4 202.9a1.35 1.35 0 1 0 2.7 0a1.35 1.35 0 1 0 -2.7 0zM597.5 203.6a1.35 1.35 0 1 0 2.7 0a1.35 1.35 0 1 0 -2.7 0zM599.6 203.6a1.35 1.35 0 1 0 2.7 0a1.35 1.35 0 1 0 -2.7 0zM602.5 205.0a1.35 1.35 0 1 0 2.7 0a1.35 1.35 0 1 0 -2.7 0zM596.0 210.0a1.35 1.35 0 1 0 2.7 0a1.35 1.35 0 1 0 -2.7 0zM598.9 209.7a1.35 1.35 0 1 0 2.7 0a1.35 1.35 0 1 0 -2.7 0zM601.8 208.9a1.35 1.35 0 1 0 2.7 0a1.35 1.35 0 1 0 -2.7 0zM600.6 212.1a1.35 1.35 0 1 0 2.7 0a1.35 1.35 0 1 0 -2.7 0zM600.6 215.0a1.35 1.35 0 1 0 2.7 0a1.35 1.35 0 1 0 -2.7 0zM601.5 217.9a1.35 1.35 0 1 0 2.7 0a1.35 1.35 0 1 0 -2.7 0zM603.2 218.6a1.35 1.35 0 1 0 2.7 0a1.35 1.35 0 1 0 -2.7 0zM601.0 220.7a1.35 1.35 0 1 0 2.7 0a1.35 1.35 0 1 0 -2.7 0zM599.6 222.9a1.35 1.35 0 1 0 2.7 0a1.35 1.35 0 1 0 -2.7 0zM597.5 225.0a1.35 1.35 0 1 0 2.7 0a1.35 1.35 0 1 0 -2.7 0zM594.6 226.4a1.35 1.35 0 1 0 2.7 0a1.35 1.35 0 1 0 -2.7 0zM591.8 227.4a1.35 1.35 0 1 0 2.7 0a1.35 1.35 0 1 0 -2.7 0zM606.0 221.1a1.35 1.35 0 1 0 2.7 0a1.35 1.35 0 1 0 -2.7 0zM608.2 223.6a1.35 1.35 0 1 0 2.7 0a1.35 1.35 0 1 0 -2.7 0zM611.0 225.0a1.35 1.35 0 1 0 2.7 0a1.35 1.35 0 1 0 -2.7 0zM610.0 228.3a1.35 1.35 0 1 0 2.7 0a1.35 1.35 0 1 0 -2.7 0zM608.2 229.7a1.35 1.35 0 1 0 2.7 0a1.35 1.35 0 1 0 -2.7 0zM605.8 228.6a1.35 1.35 0 1 0 2.7 0a1.35 1.35 0 1 0 -2.7 0zM604.6 226.0a1.35 1.35 0 1 0 2.7 0a1.35 1.35 0 1 0 -2.7 0zM602.5 229.3a1.35 1.35 0 1 0 2.7 0a1.35 1.35 0 1 0 -2.7 0zM601.8 232.1a1.35 1.35 0 1 0 2.7 0a1.35 1.35 0 1 0 -2.7 0zM601.5 235.0a1.35 1.35 0 1 0 2.7 0a1.35 1.35 0 1 0 -2.7 0zM601.8 237.9a1.35 1.35 0 1 0 2.7 0a1.35 1.35 0 1 0 -2.7 0zM605.8 240.0a1.35 1.35 0 1 0 2.7 0a1.35 1.35 0 1 0 -2.7 0zM608.6 241.1a1.35 1.35 0 1 0 2.7 0a1.35 1.35 0 1 0 -2.7 0zM603.9 242.9a1.35 1.35 0 1 0 2.7 0a1.35 1.35 0 1 0 -2.7 0zM605.4 245.7a1.35 1.35 0 1 0 2.7 0a1.35 1.35 0 1 0 -2.7 0zM599.2 241.4a1.35 1.35 0 1 0 2.7 0a1.35 1.35 0 1 0 -2.7 0zM596.8 242.9a1.35 1.35 0 1 0 2.7 0a1.35 1.35 0 1 0 -2.7 0zM597.5 245.4a1.35 1.35 0 1 0 2.7 0a1.35 1.35 0 1 0 -2.7 0zM599.6 247.9a1.35 1.35 0 1 0 2.7 0a1.35 1.35 0 1 0 -2.7 0zM593.2 249.3a1.35 1.35 0 1 0 2.7 0a1.35 1.35 0 1 0 -2.7 0zM587.2 222.1a1.35 1.35 0 1 0 2.7 0a1.35 1.35 0 1 0 -2.7 0zM585.4 224.3a1.35 1.35 0 1 0 2.7 0a1.35 1.35 0 1 0 -2.7 0zM586.0 229.7a1.35 1.35 0 1 0 2.7 0a1.35 1.35 0 1 0 -2.7 0zM583.2 231.4a1.35 1.35 0 1 0 2.7 0a1.35 1.35 0 1 0 -2.7 0zM580.6 234.3a1.35 1.35 0 1 0 2.7 0a1.35 1.35 0 1 0 -2.7 0zM580.4 237.4a1.35 1.35 0 1 0 2.7 0a1.35 1.35 0 1 0 -2.7 0zM577.8 238.6a1.35 1.35 0 1 0 2.7 0a1.35 1.35 0 1 0 -2.7 0zM575.8 240.7a1.35 1.35 0 1 0 2.7 0a1.35 1.35 0 1 0 -2.7 0zM573.9 242.9a1.35 1.35 0 1 0 2.7 0a1.35 1.35 0 1 0 -2.7 0zM573.2 245.7a1.35 1.35 0 1 0 2.7 0a1.35 1.35 0 1 0 -2.7 0zM571.0 247.1a1.35 1.35 0 1 0 2.7 0a1.35 1.35 0 1 0 -2.7 0zM568.9 248.6a1.35 1.35 0 1 0 2.7 0a1.35 1.35 0 1 0 -2.7 0zM562.9 249.7a1.35 1.35 0 1 0 2.7 0a1.35 1.35 0 1 0 -2.7 0zM592.9 238.3a1.35 1.35 0 1 0 2.7 0a1.35 1.35 0 1 0 -2.7 0zM619.6 249.3a1.35 1.35 0 1 0 2.7 0a1.35 1.35 0 1 0 -2.7 0zM467.9 259.7a1.35 1.35 0 1 0 2.7 0a1.35 1.35 0 1 0 -2.7 0zM470.8 259.7a1.35 1.35 0 1 0 2.7 0a1.35 1.35 0 1 0 -2.7 0zM473.6 261.1a1.35 1.35 0 1 0 2.7 0a1.35 1.35 0 1 0 -2.7 0zM471.9 264.0a1.35 1.35 0 1 0 2.7 0a1.35 1.35 0 1 0 -2.7 0zM469.3 265.7a1.35 1.35 0 1 0 2.7 0a1.35 1.35 0 1 0 -2.7 0zM466.8 266.0a1.35 1.35 0 1 0 2.7 0a1.35 1.35 0 1 0 -2.7 0zM466.2 268.9a1.35 1.35 0 1 0 2.7 0a1.35 1.35 0 1 0 -2.7 0zM485.8 272.9a1.35 1.35 0 1 0 2.7 0a1.35 1.35 0 1 0 -2.7 0zM487.9 270.7a1.35 1.35 0 1 0 2.7 0a1.35 1.35 0 1 0 -2.7 0zM490.8 271.7a1.35 1.35 0 1 0 2.7 0a1.35 1.35 0 1 0 -2.7 0zM486.5 275.7a1.35 1.35 0 1 0 2.7 0a1.35 1.35 0 1 0 -2.7 0zM487.2 278.6a1.35 1.35 0 1 0 2.7 0a1.35 1.35 0 1 0 -2.7 0zM484.3 279.7a1.35 1.35 0 1 0 2.7 0a1.35 1.35 0 1 0 -2.7 0zM481.9 282.6a1.35 1.35 0 1 0 2.7 0a1.35 1.35 0 1 0 -2.7 0zM492.2 275.7a1.35 1.35 0 1 0 2.7 0a1.35 1.35 0 1 0 -2.7 0zM492.9 278.6a1.35 1.35 0 1 0 2.7 0a1.35 1.35 0 1 0 -2.7 0zM494.3 280.7a1.35 1.35 0 1 0 2.7 0a1.35 1.35 0 1 0 -2.7 0zM496.2 282.9a1.35 1.35 0 1 0 2.7 0a1.35 1.35 0 1 0 -2.7 0zM498.6 284.3a1.35 1.35 0 1 0 2.7 0a1.35 1.35 0 1 0 -2.7 0zM488.6 284.3a1.35 1.35 0 1 0 2.7 0a1.35 1.35 0 1 0 -2.7 0zM490.8 286.4a1.35 1.35 0 1 0 2.7 0a1.35 1.35 0 1 0 -2.7 0zM490.8 288.9a1.35 1.35 0 1 0 2.7 0a1.35 1.35 0 1 0 -2.7 0zM492.9 291.7a1.35 1.35 0 1 0 2.7 0a1.35 1.35 0 1 0 -2.7 0zM496.5 288.3a1.35 1.35 0 1 0 2.7 0a1.35 1.35 0 1 0 -2.7 0zM496.8 291.4a1.35 1.35 0 1 0 2.7 0a1.35 1.35 0 1 0 -2.7 0zM495.8 293.6a1.35 1.35 0 1 0 2.7 0a1.35 1.35 0 1 0 -2.7 0zM497.2 296.0a1.35 1.35 0 1 0 2.7 0a1.35 1.35 0 1 0 -2.7 0zM510.8 267.4a1.35 1.35 0 1 0 2.7 0a1.35 1.35 0 1 0 -2.7 0zM508.2 268.6a1.35 1.35 0 1 0 2.7 0a1.35 1.35 0 1 0 -2.7 0zM506.2 271.1a1.35 1.35 0 1 0 2.7 0a1.35 1.35 0 1 0 -2.7 0zM505.3 274.0a1.35 1.35 0 1 0 2.7 0a1.35 1.35 0 1 0 -2.7 0zM504.8 276.9a1.35 1.35 0 1 0 2.7 0a1.35 1.35 0 1 0 -2.7 0zM502.5 278.9a1.35 1.35 0 1 0 2.7 0a1.35 1.35 0 1 0 -2.7 0zM505.8 280.0a1.35 1.35 0 1 0 2.7 0a1.35 1.35 0 1 0 -2.7 0zM506.8 282.6a1.35 1.35 0 1 0 2.7 0a1.35 1.35 0 1 0 -2.7 0zM514.4 262.9a1.35 1.35 0 1 0 2.7 0a1.35 1.35 0 1 0 -2.7 0zM516.8 261.1a1.35 1.35 0 1 0 2.7 0a1.35 1.35 0 1 0 -2.7 0zM519.6 263.1a1.35 1.35 0 1 0 2.7 0a1.35 1.35 0 1 0 -2.7 0zM520.5 265.4a1.35 1.35 0 1 0 2.7 0a1.35 1.35 0 1 0 -2.7 0zM518.2 267.9a1.35 1.35 0 1 0 2.7 0a1.35 1.35 0 1 0 -2.7 0zM515.4 267.4a1.35 1.35 0 1 0 2.7 0a1.35 1.35 0 1 0 -2.7 0zM516.2 270.7a1.35 1.35 0 1 0 2.7 0a1.35 1.35 0 1 0 -2.7 0zM516.2 273.1a1.35 1.35 0 1 0 2.7 0a1.35 1.35 0 1 0 -2.7 0zM515.8 276.0a1.35 1.35 0 1 0 2.7 0a1.35 1.35 0 1 0 -2.7 0zM517.9 285.0a1.35 1.35 0 1 0 2.7 0a1.35 1.35 0 1 0 -2.7 0zM532.9 260.7a1.35 1.35 0 1 0 2.7 0a1.35 1.35 0 1 0 -2.7 0zM535.8 261.1a1.35 1.35 0 1 0 2.7 0a1.35 1.35 0 1 0 -2.7 0zM538.6 260.7a1.35 1.35 0 1 0 2.7 0a1.35 1.35 0 1 0 -2.7 0zM542.2 277.1a1.35 1.35 0 1 0 2.7 0a1.35 1.35 0 1 0 -2.7 0zM539.4 278.3a1.35 1.35 0 1 0 2.7 0a1.35 1.35 0 1 0 -2.7 0zM536.8 279.3a1.35 1.35 0 1 0 2.7 0a1.35 1.35 0 1 0 -2.7 0zM534.4 281.1a1.35 1.35 0 1 0 2.7 0a1.35 1.35 0 1 0 -2.7 0zM534.8 284.0a1.35 1.35 0 1 0 2.7 0a1.35 1.35 0 1 0 -2.7 0zM534.4 286.9a1.35 1.35 0 1 0 2.7 0a1.35 1.35 0 1 0 -2.7 0zM534.4 290.7a1.35 1.35 0 1 0 2.7 0a1.35 1.35 0 1 0 -2.7 0zM535.8 292.9a1.35 1.35 0 1 0 2.7 0a1.35 1.35 0 1 0 -2.7 0zM537.9 291.4a1.35 1.35 0 1 0 2.7 0a1.35 1.35 0 1 0 -2.7 0zM539.6 285.0a1.35 1.35 0 1 0 2.7 0a1.35 1.35 0 1 0 -2.7 0zM542.2 284.3a1.35 1.35 0 1 0 2.7 0a1.35 1.35 0 1 0 -2.7 0zM543.9 285.7a1.35 1.35 0 1 0 2.7 0a1.35 1.35 0 1 0 -2.7 0zM545.0 288.9a1.35 1.35 0 1 0 2.7 0a1.35 1.35 0 1 0 -2.7 0zM539.0 288.9a1.35 1.35 0 1 0 2.7 0a1.35 1.35 0 1 0 -2.7 0zM464.8 293.6a1.35 1.35 0 1 0 2.7 0a1.35 1.35 0 1 0 -2.7 0zM467.2 296.9a1.35 1.35 0 1 0 2.7 0a1.35 1.35 0 1 0 -2.7 0zM562.5 250.7a1.35 1.35 0 1 0 2.7 0a1.35 1.35 0 1 0 -2.7 0zM565.4 250.7a1.35 1.35 0 1 0 2.7 0a1.35 1.35 0 1 0 -2.7 0zM567.8 251.1a1.35 1.35 0 1 0 2.7 0a1.35 1.35 0 1 0 -2.7 0zM561.5 253.1a1.35 1.35 0 1 0 2.7 0a1.35 1.35 0 1 0 -2.7 0zM567.5 253.1a1.35 1.35 0 1 0 2.7 0a1.35 1.35 0 1 0 -2.7 0zM560.0 255.7a1.35 1.35 0 1 0 2.7 0a1.35 1.35 0 1 0 -2.7 0zM563.2 256.4a1.35 1.35 0 1 0 2.7 0a1.35 1.35 0 1 0 -2.7 0zM566.8 255.7a1.35 1.35 0 1 0 2.7 0a1.35 1.35 0 1 0 -2.7 0zM565.8 258.3a1.35 1.35 0 1 0 2.7 0a1.35 1.35 0 1 0 -2.7 0zM565.4 260.7a1.35 1.35 0 1 0 2.7 0a1.35 1.35 0 1 0 -2.7 0zM593.2 250.3a1.35 1.35 0 1 0 2.7 0a1.35 1.35 0 1 0 -2.7 0zM601.8 250.7a1.35 1.35 0 1 0 2.7 0a1.35 1.35 0 1 0 -2.7 0zM602.5 252.9a1.35 1.35 0 1 0 2.7 0a1.35 1.35 0 1 0 -2.7 0zM601.0 255.4a1.35 1.35 0 1 0 2.7 0a1.35 1.35 0 1 0 -2.7 0zM599.6 257.9a1.35 1.35 0 1 0 2.7 0a1.35 1.35 0 1 0 -2.7 0zM597.5 259.7a1.35 1.35 0 1 0 2.7 0a1.35 1.35 0 1 0 -2.7 0zM594.9 260.3a1.35 1.35 0 1 0 2.7 0a1.35 1.35 0 1 0 -2.7 0zM600.0 260.7a1.35 1.35 0 1 0 2.7 0a1.35 1.35 0 1 0 -2.7 0zM594.4 263.6a1.35 1.35 0 1 0 2.7 0a1.35 1.35 0 1 0 -2.7 0zM596.4 265.4a1.35 1.35 0 1 0 2.7 0a1.35 1.35 0 1 0 -2.7 0zM597.8 268.6a1.35 1.35 0 1 0 2.7 0a1.35 1.35 0 1 0 -2.7 0zM600.0 271.1a1.35 1.35 0 1 0 2.7 0a1.35 1.35 0 1 0 -2.7 0zM603.2 269.3a1.35 1.35 0 1 0 2.7 0a1.35 1.35 0 1 0 -2.7 0zM605.8 267.9a1.35 1.35 0 1 0 2.7 0a1.35 1.35 0 1 0 -2.7 0zM608.2 266.0a1.35 1.35 0 1 0 2.7 0a1.35 1.35 0 1 0 -2.7 0zM608.6 263.6a1.35 1.35 0 1 0 2.7 0a1.35 1.35 0 1 0 -2.7 0zM610.6 263.6a1.35 1.35 0 1 0 2.7 0a1.35 1.35 0 1 0 -2.7 0zM612.5 263.1a1.35 1.35 0 1 0 2.7 0a1.35 1.35 0 1 0 -2.7 0zM614.6 262.6a1.35 1.35 0 1 0 2.7 0a1.35 1.35 0 1 0 -2.7 0zM611.8 257.9a1.35 1.35 0 1 0 2.7 0a1.35 1.35 0 1 0 -2.7 0zM614.6 256.4a1.35 1.35 0 1 0 2.7 0a1.35 1.35 0 1 0 -2.7 0zM617.5 255.0a1.35 1.35 0 1 0 2.7 0a1.35 1.35 0 1 0 -2.7 0zM620.0 253.1a1.35 1.35 0 1 0 2.7 0a1.35 1.35 0 1 0 -2.7 0zM620.4 250.7a1.35 1.35 0 1 0 2.7 0a1.35 1.35 0 1 0 -2.7 0zM615.4 258.6a1.35 1.35 0 1 0 2.7 0a1.35 1.35 0 1 0 -2.7 0zM619.6 259.3a1.35 1.35 0 1 0 2.7 0a1.35 1.35 0 1 0 -2.7 0zM621.8 264.3a1.35 1.35 0 1 0 2.7 0a1.35 1.35 0 1 0 -2.7 0zM624.6 263.6a1.35 1.35 0 1 0 2.7 0a1.35 1.35 0 1 0 -2.7 0zM613.9 268.6a1.35 1.35 0 1 0 2.7 0a1.35 1.35 0 1 0 -2.7 0zM625.8 269.3a1.35 1.35 0 1 0 2.7 0a1.35 1.35 0 1 0 -2.7 0zM626.0 272.1a1.35 1.35 0 1 0 2.7 0a1.35 1.35 0 1 0 -2.7 0zM613.2 278.6a1.35 1.35 0 1 0 2.7 0a1.35 1.35 0 1 0 -2.7 0zM573.2 281.1a1.35 1.35 0 1 0 2.7 0a1.35 1.35 0 1 0 -2.7 0zM575.8 283.1a1.35 1.35 0 1 0 2.7 0a1.35 1.35 0 1 0 -2.7 0zM581.8 282.9a1.35 1.35 0 1 0 2.7 0a1.35 1.35 0 1 0 -2.7 0zM583.9 284.6a1.35 1.35 0 1 0 2.7 0a1.35 1.35 0 1 0 -2.7 0zM591.0 290.0a1.35 1.35 0 1 0 2.7 0a1.35 1.35 0 1 0 -2.7 0zM604.9 290.3a1.35 1.35 0 1 0 2.7 0a1.35 1.35 0 1 0 -2.7 0zM544.9 286.0a1.35 1.35 0 1 0 2.7 0a1.35 1.35 0 1 0 -2.7 0zM545.4 288.9a1.35 1.35 0 1 0 2.7 0a1.35 1.35 0 1 0 -2.7 0zM622.9 286.4a1.35 1.35 0 1 0 2.7 0a1.35 1.35 0 1 0 -2.7 0zM621.0 288.6a1.35 1.35 0 1 0 2.7 0a1.35 1.35 0 1 0 -2.7 0zM618.6 290.3a1.35 1.35 0 1 0 2.7 0a1.35 1.35 0 1 0 -2.7 0zM617.5 293.6a1.35 1.35 0 1 0 2.7 0a1.35 1.35 0 1 0 -2.7 0zM616.8 296.4a1.35 1.35 0 1 0 2.7 0a1.35 1.35 0 1 0 -2.7 0zM616.4 299.3a1.35 1.35 0 1 0 2.7 0a1.35 1.35 0 1 0 -2.7 0zM623.9 291.4a1.35 1.35 0 1 0 2.7 0a1.35 1.35 0 1 0 -2.7 0zM622.9 294.0a1.35 1.35 0 1 0 2.7 0a1.35 1.35 0 1 0 -2.7 0zM621.8 296.4a1.35 1.35 0 1 0 2.7 0a1.35 1.35 0 1 0 -2.7 0zM621.0 298.6a1.35 1.35 0 1 0 2.7 0a1.35 1.35 0 1 0 -2.7 0zM626.0 290.7a1.35 1.35 0 1 0 2.7 0a1.35 1.35 0 1 0 -2.7 0z" fill="#dc143c"/>
<rect x="270.2" y="303.8" width="162.8" height="9" fill="url(#grg)" stroke="#222" stroke-width="1"/>
<line x1="300.9" y1="312.8" x2="300.9" y2="317.0" stroke="#111" stroke-width="1.15"/>
<text x="300.9" y="328.6" font-size="9.5" text-anchor="middle" textLength="13.0" lengthAdjust="spacingAndGlyphs" >−5</text>
<line x1="361.0" y1="312.8" x2="361.0" y2="317.0" stroke="#111" stroke-width="1.15"/>
<text x="361.0" y="328.6" font-size="9.5" text-anchor="middle" textLength="5.6" lengthAdjust="spacingAndGlyphs" >0</text>
<line x1="420.8" y1="312.8" x2="420.8" y2="317.0" stroke="#111" stroke-width="1.15"/>
<text x="420.8" y="328.6" font-size="9.5" text-anchor="middle" textLength="5.6" lengthAdjust="spacingAndGlyphs" >5</text>
<text x="298.5" y="341.3" font-size="9.3" textLength="80.8" lengthAdjust="spacingAndGlyphs" >energy landscape</text>
<text x="382.6" y="341.3" font-size="9.3" >[</text>
<text x="385.2" y="341.3" font-size="9.3" font-style="italic" >k</text>
<text x="389.8" y="342.6" font-size="6.6" font-style="italic" >B</text>
<text x="395.6" y="341.3" font-size="9.3" font-style="italic" >T</text>
<text x="401.4" y="341.3" font-size="9.3" >]</text>
<rect x="465.4" y="303.8" width="163.3" height="9" fill="url(#gyg)" stroke="#222" stroke-width="1"/>
<line x1="465.7" y1="312.8" x2="465.7" y2="317.0" stroke="#111" stroke-width="1.15"/>
<text x="465.7" y="328.6" font-size="9.5" text-anchor="middle" textLength="14.0" lengthAdjust="spacingAndGlyphs" >0.0</text>
<line x1="498.3" y1="312.8" x2="498.3" y2="317.0" stroke="#111" stroke-width="1.15"/>
<text x="498.3" y="328.6" font-size="9.5" text-anchor="middle" textLength="14.0" lengthAdjust="spacingAndGlyphs" >0.2</text>
<line x1="530.9" y1="312.8" x2="530.9" y2="317.0" stroke="#111" stroke-width="1.15"/>
<text x="530.9" y="328.6" font-size="9.5" text-anchor="middle" textLength="14.0" lengthAdjust="spacingAndGlyphs" >0.4</text>
<line x1="563.5" y1="312.8" x2="563.5" y2="317.0" stroke="#111" stroke-width="1.15"/>
<text x="563.5" y="328.6" font-size="9.5" text-anchor="middle" textLength="14.0" lengthAdjust="spacingAndGlyphs" >0.6</text>
<line x1="596.1" y1="312.8" x2="596.1" y2="317.0" stroke="#111" stroke-width="1.15"/>
<text x="596.1" y="328.6" font-size="9.5" text-anchor="middle" textLength="14.0" lengthAdjust="spacingAndGlyphs" >0.8</text>
<line x1="628.7" y1="312.8" x2="628.7" y2="317.0" stroke="#111" stroke-width="1.15"/>
<text x="628.7" y="328.6" font-size="9.5" text-anchor="middle" textLength="14.0" lengthAdjust="spacingAndGlyphs" >1.0</text>
<text x="463.2" y="341.4" font-size="9.3" textLength="167.8" lengthAdjust="spacingAndGlyphs" >domain boundary probability density</text>
</svg></body></html>
